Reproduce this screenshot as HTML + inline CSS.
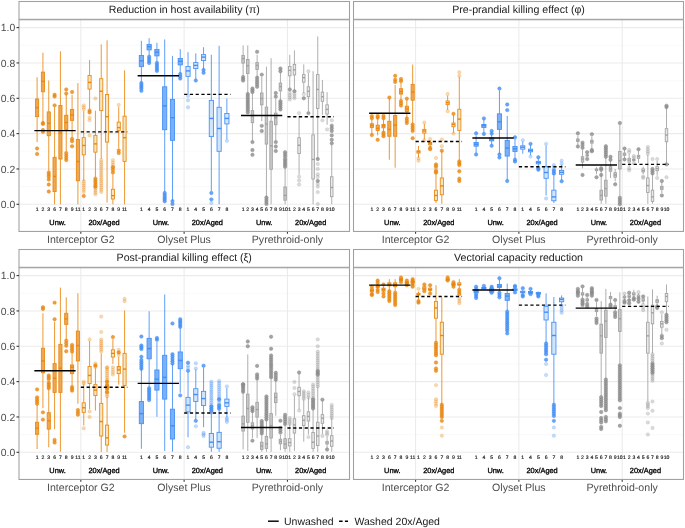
<!DOCTYPE html>
<html><head><meta charset="utf-8"><style>
html,body{margin:0;padding:0;background:#fff;width:685px;height:528px;overflow:hidden}
svg text{font-family:'Liberation Sans', sans-serif;text-rendering:geometricPrecision}
svg{will-change:transform}
</style></head><body>
<svg width="685" height="528" viewBox="0 0 685 528" style="display:block">
<rect width="685" height="528" fill="#fff"/>
<line x1="19.0" x2="349.5" y1="204.30" y2="204.30" stroke="#ebebeb" stroke-width="1.07"/>
<line x1="19.0" x2="349.5" y1="186.63" y2="186.63" stroke="#f5f5f5" stroke-width="0.53"/>
<line x1="19.0" x2="349.5" y1="168.96" y2="168.96" stroke="#ebebeb" stroke-width="1.07"/>
<line x1="19.0" x2="349.5" y1="151.29" y2="151.29" stroke="#f5f5f5" stroke-width="0.53"/>
<line x1="19.0" x2="349.5" y1="133.62" y2="133.62" stroke="#ebebeb" stroke-width="1.07"/>
<line x1="19.0" x2="349.5" y1="115.95" y2="115.95" stroke="#f5f5f5" stroke-width="0.53"/>
<line x1="19.0" x2="349.5" y1="98.28" y2="98.28" stroke="#ebebeb" stroke-width="1.07"/>
<line x1="19.0" x2="349.5" y1="80.61" y2="80.61" stroke="#f5f5f5" stroke-width="0.53"/>
<line x1="19.0" x2="349.5" y1="62.94" y2="62.94" stroke="#ebebeb" stroke-width="1.07"/>
<line x1="19.0" x2="349.5" y1="45.27" y2="45.27" stroke="#f5f5f5" stroke-width="0.53"/>
<line x1="19.0" x2="349.5" y1="27.60" y2="27.60" stroke="#ebebeb" stroke-width="1.07"/>
<line x1="80.83" x2="80.83" y1="19.5" y2="231.5" stroke="#ebebeb" stroke-width="1.07"/>
<line x1="184.13" x2="184.13" y1="19.5" y2="231.5" stroke="#ebebeb" stroke-width="1.07"/>
<line x1="287.43" x2="287.43" y1="19.5" y2="231.5" stroke="#ebebeb" stroke-width="1.07"/>
<text x="37.10" y="211.4" font-size="5.1" text-anchor="middle" fill="#111" stroke="#111" stroke-width="0.15">1</text>
<text x="42.93" y="211.4" font-size="5.1" text-anchor="middle" fill="#111" stroke="#111" stroke-width="0.15">2</text>
<text x="48.76" y="211.4" font-size="5.1" text-anchor="middle" fill="#111" stroke="#111" stroke-width="0.15">3</text>
<text x="54.59" y="211.4" font-size="5.1" text-anchor="middle" fill="#111" stroke="#111" stroke-width="0.15">6</text>
<text x="60.42" y="211.4" font-size="5.1" text-anchor="middle" fill="#111" stroke="#111" stroke-width="0.15">7</text>
<text x="66.25" y="211.4" font-size="5.1" text-anchor="middle" fill="#111" stroke="#111" stroke-width="0.15">8</text>
<text x="72.08" y="211.4" font-size="5.1" text-anchor="middle" fill="#111" stroke="#111" stroke-width="0.15">9</text>
<text x="77.91" y="211.4" font-size="5.1" text-anchor="middle" fill="#111" stroke="#111" stroke-width="0.15">11</text>
<text x="83.75" y="211.4" font-size="5.1" text-anchor="middle" fill="#111" stroke="#111" stroke-width="0.15">1</text>
<text x="89.58" y="211.4" font-size="5.1" text-anchor="middle" fill="#111" stroke="#111" stroke-width="0.15">2</text>
<text x="95.41" y="211.4" font-size="5.1" text-anchor="middle" fill="#111" stroke="#111" stroke-width="0.15">3</text>
<text x="101.24" y="211.4" font-size="5.1" text-anchor="middle" fill="#111" stroke="#111" stroke-width="0.15">6</text>
<text x="107.07" y="211.4" font-size="5.1" text-anchor="middle" fill="#111" stroke="#111" stroke-width="0.15">7</text>
<text x="112.90" y="211.4" font-size="5.1" text-anchor="middle" fill="#111" stroke="#111" stroke-width="0.15">8</text>
<text x="118.73" y="211.4" font-size="5.1" text-anchor="middle" fill="#111" stroke="#111" stroke-width="0.15">9</text>
<text x="124.56" y="211.4" font-size="5.1" text-anchor="middle" fill="#111" stroke="#111" stroke-width="0.15">11</text>
<text x="57.59" y="224.7" font-size="7.4" text-anchor="middle" fill="#000" stroke="#000" stroke-width="0.3">Unw.</text>
<text x="104.07" y="224.7" font-size="7.4" text-anchor="middle" fill="#000" stroke="#000" stroke-width="0.3">20x/Aged</text>
<line x1="80.83" x2="80.83" y1="231.5" y2="233.7" stroke="#333" stroke-width="1.07"/>
<text x="80.83" y="242.9" font-size="10.6" text-anchor="middle" fill="#4d4d4d">Interceptor G2</text>
<text x="141.37" y="211.4" font-size="5.1" text-anchor="middle" fill="#111" stroke="#111" stroke-width="0.15">1</text>
<text x="149.14" y="211.4" font-size="5.1" text-anchor="middle" fill="#111" stroke="#111" stroke-width="0.15">4</text>
<text x="156.92" y="211.4" font-size="5.1" text-anchor="middle" fill="#111" stroke="#111" stroke-width="0.15">5</text>
<text x="164.69" y="211.4" font-size="5.1" text-anchor="middle" fill="#111" stroke="#111" stroke-width="0.15">6</text>
<text x="172.47" y="211.4" font-size="5.1" text-anchor="middle" fill="#111" stroke="#111" stroke-width="0.15">7</text>
<text x="180.24" y="211.4" font-size="5.1" text-anchor="middle" fill="#111" stroke="#111" stroke-width="0.15">8</text>
<text x="188.02" y="211.4" font-size="5.1" text-anchor="middle" fill="#111" stroke="#111" stroke-width="0.15">1</text>
<text x="195.79" y="211.4" font-size="5.1" text-anchor="middle" fill="#111" stroke="#111" stroke-width="0.15">4</text>
<text x="203.57" y="211.4" font-size="5.1" text-anchor="middle" fill="#111" stroke="#111" stroke-width="0.15">5</text>
<text x="211.34" y="211.4" font-size="5.1" text-anchor="middle" fill="#111" stroke="#111" stroke-width="0.15">6</text>
<text x="219.12" y="211.4" font-size="5.1" text-anchor="middle" fill="#111" stroke="#111" stroke-width="0.15">7</text>
<text x="226.89" y="211.4" font-size="5.1" text-anchor="middle" fill="#111" stroke="#111" stroke-width="0.15">8</text>
<text x="160.89" y="224.7" font-size="7.4" text-anchor="middle" fill="#000" stroke="#000" stroke-width="0.3">Unw.</text>
<text x="207.37" y="224.7" font-size="7.4" text-anchor="middle" fill="#000" stroke="#000" stroke-width="0.3">20x/Aged</text>
<line x1="184.13" x2="184.13" y1="231.5" y2="233.7" stroke="#333" stroke-width="1.07"/>
<text x="184.13" y="242.9" font-size="10.6" text-anchor="middle" fill="#4d4d4d">Olyset Plus</text>
<text x="243.11" y="211.4" font-size="5.1" text-anchor="middle" fill="#111" stroke="#111" stroke-width="0.15">1</text>
<text x="247.78" y="211.4" font-size="5.1" text-anchor="middle" fill="#111" stroke="#111" stroke-width="0.15">2</text>
<text x="252.44" y="211.4" font-size="5.1" text-anchor="middle" fill="#111" stroke="#111" stroke-width="0.15">3</text>
<text x="257.11" y="211.4" font-size="5.1" text-anchor="middle" fill="#111" stroke="#111" stroke-width="0.15">4</text>
<text x="261.77" y="211.4" font-size="5.1" text-anchor="middle" fill="#111" stroke="#111" stroke-width="0.15">5</text>
<text x="266.44" y="211.4" font-size="5.1" text-anchor="middle" fill="#111" stroke="#111" stroke-width="0.15">6</text>
<text x="271.10" y="211.4" font-size="5.1" text-anchor="middle" fill="#111" stroke="#111" stroke-width="0.15">7</text>
<text x="275.77" y="211.4" font-size="5.1" text-anchor="middle" fill="#111" stroke="#111" stroke-width="0.15">8</text>
<text x="280.43" y="211.4" font-size="5.1" text-anchor="middle" fill="#111" stroke="#111" stroke-width="0.15">9</text>
<text x="285.10" y="211.4" font-size="5.1" text-anchor="middle" fill="#111" stroke="#111" stroke-width="0.15">10</text>
<text x="289.76" y="211.4" font-size="5.1" text-anchor="middle" fill="#111" stroke="#111" stroke-width="0.15">1</text>
<text x="294.43" y="211.4" font-size="5.1" text-anchor="middle" fill="#111" stroke="#111" stroke-width="0.15">2</text>
<text x="299.09" y="211.4" font-size="5.1" text-anchor="middle" fill="#111" stroke="#111" stroke-width="0.15">3</text>
<text x="303.76" y="211.4" font-size="5.1" text-anchor="middle" fill="#111" stroke="#111" stroke-width="0.15">4</text>
<text x="308.42" y="211.4" font-size="5.1" text-anchor="middle" fill="#111" stroke="#111" stroke-width="0.15">5</text>
<text x="313.09" y="211.4" font-size="5.1" text-anchor="middle" fill="#111" stroke="#111" stroke-width="0.15">6</text>
<text x="317.75" y="211.4" font-size="5.1" text-anchor="middle" fill="#111" stroke="#111" stroke-width="0.15">7</text>
<text x="322.42" y="211.4" font-size="5.1" text-anchor="middle" fill="#111" stroke="#111" stroke-width="0.15">8</text>
<text x="327.08" y="211.4" font-size="5.1" text-anchor="middle" fill="#111" stroke="#111" stroke-width="0.15">9</text>
<text x="331.75" y="211.4" font-size="5.1" text-anchor="middle" fill="#111" stroke="#111" stroke-width="0.15">10</text>
<text x="264.19" y="224.7" font-size="7.4" text-anchor="middle" fill="#000" stroke="#000" stroke-width="0.3">Unw.</text>
<text x="310.67" y="224.7" font-size="7.4" text-anchor="middle" fill="#000" stroke="#000" stroke-width="0.3">20x/Aged</text>
<line x1="287.43" x2="287.43" y1="231.5" y2="233.7" stroke="#333" stroke-width="1.07"/>
<text x="287.43" y="242.9" font-size="10.6" text-anchor="middle" fill="#4d4d4d">Pyrethroid-only</text>
<line x1="37.10" x2="37.10" y1="77.25" y2="98.99" stroke="rgb(232,134,14)" stroke-width="0.85"/><line x1="37.10" x2="37.10" y1="116.66" y2="142.10" stroke="rgb(232,134,14)" stroke-width="0.85"/><rect x="35.52" y="98.99" width="3.15" height="17.67" fill="rgb(238,168,81)" stroke="rgb(232,134,14)" stroke-width="0.85"/><line x1="35.52" x2="38.67" y1="107.65" y2="107.65" stroke="rgb(232,134,14)" stroke-width="1.4"/><circle cx="37.10" cy="148.46" r="1.72" fill="rgba(232,134,14,0.80)" stroke="rgba(232,134,14,0.80)" stroke-width="0.6"/><circle cx="37.10" cy="153.94" r="1.72" fill="rgba(232,134,14,0.80)" stroke="rgba(232,134,14,0.80)" stroke-width="0.6"/>
<line x1="42.93" x2="42.93" y1="52.69" y2="72.13" stroke="rgb(232,134,14)" stroke-width="0.85"/><line x1="42.93" x2="42.93" y1="91.74" y2="122.13" stroke="rgb(232,134,14)" stroke-width="0.85"/><rect x="41.35" y="72.13" width="3.15" height="19.61" fill="rgb(238,168,81)" stroke="rgb(232,134,14)" stroke-width="0.85"/><line x1="41.35" x2="44.50" y1="81.32" y2="81.32" stroke="rgb(232,134,14)" stroke-width="1.4"/><circle cx="42.93" cy="123.02" r="1.72" fill="rgba(232,134,14,0.80)" stroke="rgba(232,134,14,0.80)" stroke-width="0.6"/><circle cx="42.93" cy="123.90" r="1.72" fill="rgba(232,134,14,0.80)" stroke="rgba(232,134,14,0.80)" stroke-width="0.6"/><circle cx="42.93" cy="130.09" r="1.72" fill="rgba(232,134,14,0.80)" stroke="rgba(232,134,14,0.80)" stroke-width="0.6"/><circle cx="42.93" cy="131.85" r="1.72" fill="rgba(232,134,14,0.80)" stroke="rgba(232,134,14,0.80)" stroke-width="0.6"/>
<line x1="48.76" x2="48.76" y1="80.43" y2="111.89" stroke="rgb(232,134,14)" stroke-width="0.85"/><line x1="48.76" x2="48.76" y1="135.74" y2="170.73" stroke="rgb(232,134,14)" stroke-width="0.85"/><rect x="47.18" y="111.89" width="3.15" height="23.85" fill="rgb(238,168,81)" stroke="rgb(232,134,14)" stroke-width="0.85"/><line x1="47.18" x2="50.33" y1="123.37" y2="123.37" stroke="rgb(232,134,14)" stroke-width="1.4"/><circle cx="48.76" cy="176.73" r="1.72" fill="rgba(232,134,14,0.80)" stroke="rgba(232,134,14,0.80)" stroke-width="0.6"/><circle cx="48.76" cy="174.61" r="1.72" fill="rgba(232,134,14,0.80)" stroke="rgba(232,134,14,0.80)" stroke-width="0.6"/><circle cx="48.76" cy="172.49" r="1.72" fill="rgba(232,134,14,0.80)" stroke="rgba(232,134,14,0.80)" stroke-width="0.6"/><circle cx="48.76" cy="179.56" r="1.72" fill="rgba(232,134,14,0.80)" stroke="rgba(232,134,14,0.80)" stroke-width="0.6"/><circle cx="48.76" cy="184.51" r="1.72" fill="rgba(232,134,14,0.80)" stroke="rgba(232,134,14,0.80)" stroke-width="0.6"/><circle cx="48.76" cy="191.58" r="1.72" fill="rgba(232,134,14,0.80)" stroke="rgba(232,134,14,0.80)" stroke-width="0.6"/>
<line x1="54.59" x2="54.59" y1="107.12" y2="157.30" stroke="rgb(232,134,14)" stroke-width="0.85"/><line x1="54.59" x2="54.59" y1="191.58" y2="204.30" stroke="rgb(232,134,14)" stroke-width="0.85"/><rect x="53.01" y="157.30" width="3.15" height="34.28" fill="rgb(238,168,81)" stroke="rgb(232,134,14)" stroke-width="0.85"/><line x1="53.01" x2="56.16" y1="176.38" y2="176.38" stroke="rgb(232,134,14)" stroke-width="1.4"/><circle cx="54.59" cy="94.75" r="1.72" fill="rgba(232,134,14,0.80)" stroke="rgba(232,134,14,0.80)" stroke-width="0.6"/><circle cx="54.59" cy="96.51" r="1.72" fill="rgba(232,134,14,0.80)" stroke="rgba(232,134,14,0.80)" stroke-width="0.6"/><circle cx="54.59" cy="105.35" r="1.72" fill="rgba(232,134,14,0.80)" stroke="rgba(232,134,14,0.80)" stroke-width="0.6"/>
<line x1="60.42" x2="60.42" y1="51.28" y2="105.52" stroke="rgb(232,134,14)" stroke-width="0.85"/><line x1="60.42" x2="60.42" y1="159.06" y2="204.30" stroke="rgb(232,134,14)" stroke-width="0.85"/><rect x="58.85" y="105.52" width="3.15" height="53.54" fill="rgb(238,168,81)" stroke="rgb(232,134,14)" stroke-width="0.85"/><line x1="58.85" x2="62.00" y1="133.09" y2="133.09" stroke="rgb(232,134,14)" stroke-width="1.4"/>
<line x1="66.25" x2="66.25" y1="94.75" y2="115.24" stroke="rgb(232,134,14)" stroke-width="0.85"/><line x1="66.25" x2="66.25" y1="129.56" y2="151.29" stroke="rgb(232,134,14)" stroke-width="0.85"/><rect x="64.68" y="115.24" width="3.15" height="14.31" fill="rgb(238,168,81)" stroke="rgb(232,134,14)" stroke-width="0.85"/><line x1="64.68" x2="67.83" y1="122.49" y2="122.49" stroke="rgb(232,134,14)" stroke-width="1.4"/><circle cx="66.25" cy="89.45" r="1.72" fill="rgba(232,134,14,0.80)" stroke="rgba(232,134,14,0.80)" stroke-width="0.6"/><circle cx="66.25" cy="93.51" r="1.72" fill="rgba(232,134,14,0.80)" stroke="rgba(232,134,14,0.80)" stroke-width="0.6"/><circle cx="66.25" cy="160.12" r="1.72" fill="rgba(232,134,14,0.80)" stroke="rgba(232,134,14,0.80)" stroke-width="0.6"/><circle cx="66.25" cy="157.77" r="1.72" fill="rgba(232,134,14,0.80)" stroke="rgba(232,134,14,0.80)" stroke-width="0.6"/><circle cx="66.25" cy="155.41" r="1.72" fill="rgba(232,134,14,0.80)" stroke="rgba(232,134,14,0.80)" stroke-width="0.6"/><circle cx="66.25" cy="153.06" r="1.72" fill="rgba(232,134,14,0.80)" stroke="rgba(232,134,14,0.80)" stroke-width="0.6"/>
<line x1="72.08" x2="72.08" y1="94.75" y2="109.41" stroke="rgb(232,134,14)" stroke-width="0.85"/><line x1="72.08" x2="72.08" y1="120.37" y2="137.68" stroke="rgb(232,134,14)" stroke-width="0.85"/><rect x="70.51" y="109.41" width="3.15" height="10.96" fill="rgb(238,168,81)" stroke="rgb(232,134,14)" stroke-width="0.85"/><line x1="70.51" x2="73.66" y1="114.89" y2="114.89" stroke="rgb(232,134,14)" stroke-width="1.4"/><circle cx="72.08" cy="91.92" r="1.72" fill="rgba(232,134,14,0.80)" stroke="rgba(232,134,14,0.80)" stroke-width="0.6"/><circle cx="72.08" cy="141.22" r="1.72" fill="rgba(232,134,14,0.80)" stroke="rgba(232,134,14,0.80)" stroke-width="0.6"/><circle cx="72.08" cy="138.92" r="1.72" fill="rgba(232,134,14,0.80)" stroke="rgba(232,134,14,0.80)" stroke-width="0.6"/><circle cx="72.08" cy="146.34" r="1.72" fill="rgba(232,134,14,0.80)" stroke="rgba(232,134,14,0.80)" stroke-width="0.6"/>
<line x1="77.91" x2="77.91" y1="83.08" y2="139.45" stroke="rgb(232,134,14)" stroke-width="0.85"/><line x1="77.91" x2="77.91" y1="180.80" y2="204.30" stroke="rgb(232,134,14)" stroke-width="0.85"/><rect x="76.34" y="139.45" width="3.15" height="41.35" fill="rgb(238,168,81)" stroke="rgb(232,134,14)" stroke-width="0.85"/><line x1="76.34" x2="79.49" y1="161.54" y2="161.54" stroke="rgb(232,134,14)" stroke-width="1.4"/>
<line x1="83.75" x2="83.75" y1="111.18" y2="137.68" stroke="rgb(232,134,14)" stroke-width="0.85"/><line x1="83.75" x2="83.75" y1="154.82" y2="181.15" stroke="rgb(232,134,14)" stroke-width="0.85"/><rect x="82.17" y="137.68" width="3.15" height="17.14" fill="rgb(245,229,194)" stroke="rgb(232,134,14)" stroke-width="0.85"/><line x1="82.17" x2="85.32" y1="145.46" y2="145.46" stroke="rgb(232,134,14)" stroke-width="1.4"/><circle cx="83.75" cy="109.41" r="1.72" fill="rgba(232,134,14,0.30)" stroke="rgba(232,134,14,0.30)" stroke-width="0.6"/><circle cx="83.75" cy="107.38" r="1.72" fill="rgba(232,134,14,0.30)" stroke="rgba(232,134,14,0.30)" stroke-width="0.6"/><circle cx="83.75" cy="105.35" r="1.72" fill="rgba(232,134,14,0.30)" stroke="rgba(232,134,14,0.30)" stroke-width="0.6"/><circle cx="83.75" cy="191.93" r="1.72" fill="rgba(232,134,14,0.30)" stroke="rgba(232,134,14,0.30)" stroke-width="0.6"/><circle cx="83.75" cy="189.81" r="1.72" fill="rgba(232,134,14,0.30)" stroke="rgba(232,134,14,0.30)" stroke-width="0.6"/><circle cx="83.75" cy="187.69" r="1.72" fill="rgba(232,134,14,0.30)" stroke="rgba(232,134,14,0.30)" stroke-width="0.6"/><circle cx="83.75" cy="185.57" r="1.72" fill="rgba(232,134,14,0.30)" stroke="rgba(232,134,14,0.30)" stroke-width="0.6"/><circle cx="83.75" cy="183.45" r="1.72" fill="rgba(232,134,14,0.30)" stroke="rgba(232,134,14,0.30)" stroke-width="0.6"/><circle cx="83.75" cy="181.33" r="1.72" fill="rgba(232,134,14,0.30)" stroke="rgba(232,134,14,0.30)" stroke-width="0.6"/><circle cx="83.75" cy="196.00" r="1.72" fill="rgba(232,134,14,0.80)" stroke="rgba(232,134,14,0.80)" stroke-width="0.6"/>
<line x1="89.58" x2="89.58" y1="59.94" y2="75.49" stroke="rgb(232,134,14)" stroke-width="0.85"/><line x1="89.58" x2="89.58" y1="89.09" y2="109.41" stroke="rgb(232,134,14)" stroke-width="0.85"/><rect x="88.00" y="75.49" width="3.15" height="13.61" fill="rgb(245,229,194)" stroke="rgb(232,134,14)" stroke-width="0.85"/><line x1="88.00" x2="91.15" y1="82.38" y2="82.38" stroke="rgb(232,134,14)" stroke-width="1.4"/><circle cx="89.58" cy="110.65" r="1.72" fill="rgba(232,134,14,0.80)" stroke="rgba(232,134,14,0.80)" stroke-width="0.6"/><circle cx="89.58" cy="112.42" r="1.72" fill="rgba(232,134,14,0.80)" stroke="rgba(232,134,14,0.80)" stroke-width="0.6"/><circle cx="89.58" cy="117.72" r="1.72" fill="rgba(232,134,14,0.30)" stroke="rgba(232,134,14,0.30)" stroke-width="0.6"/><circle cx="89.58" cy="120.37" r="1.72" fill="rgba(232,134,14,0.30)" stroke="rgba(232,134,14,0.30)" stroke-width="0.6"/><circle cx="89.58" cy="135.39" r="1.72" fill="rgba(232,134,14,0.30)" stroke="rgba(232,134,14,0.30)" stroke-width="0.6"/>
<line x1="95.41" x2="95.41" y1="110.65" y2="135.39" stroke="rgb(232,134,14)" stroke-width="0.85"/><line x1="95.41" x2="95.41" y1="152.17" y2="177.62" stroke="rgb(232,134,14)" stroke-width="0.85"/><rect x="93.83" y="135.39" width="3.15" height="16.79" fill="rgb(245,229,194)" stroke="rgb(232,134,14)" stroke-width="0.85"/><line x1="93.83" x2="96.98" y1="143.87" y2="143.87" stroke="rgb(232,134,14)" stroke-width="1.4"/><circle cx="95.41" cy="98.46" r="1.72" fill="rgba(232,134,14,0.30)" stroke="rgba(232,134,14,0.30)" stroke-width="0.6"/><circle cx="95.41" cy="186.63" r="1.72" fill="rgba(232,134,14,0.80)" stroke="rgba(232,134,14,0.80)" stroke-width="0.6"/><circle cx="95.41" cy="184.64" r="1.72" fill="rgba(232,134,14,0.80)" stroke="rgba(232,134,14,0.80)" stroke-width="0.6"/><circle cx="95.41" cy="182.65" r="1.72" fill="rgba(232,134,14,0.80)" stroke="rgba(232,134,14,0.80)" stroke-width="0.6"/><circle cx="95.41" cy="180.67" r="1.72" fill="rgba(232,134,14,0.80)" stroke="rgba(232,134,14,0.80)" stroke-width="0.6"/><circle cx="95.41" cy="178.68" r="1.72" fill="rgba(232,134,14,0.80)" stroke="rgba(232,134,14,0.80)" stroke-width="0.6"/><circle cx="95.41" cy="194.40" r="1.72" fill="rgba(232,134,14,0.30)" stroke="rgba(232,134,14,0.30)" stroke-width="0.6"/><circle cx="95.41" cy="192.46" r="1.72" fill="rgba(232,134,14,0.30)" stroke="rgba(232,134,14,0.30)" stroke-width="0.6"/><circle cx="95.41" cy="190.52" r="1.72" fill="rgba(232,134,14,0.30)" stroke="rgba(232,134,14,0.30)" stroke-width="0.6"/><circle cx="95.41" cy="188.57" r="1.72" fill="rgba(232,134,14,0.30)" stroke="rgba(232,134,14,0.30)" stroke-width="0.6"/><circle cx="95.41" cy="186.63" r="1.72" fill="rgba(232,134,14,0.30)" stroke="rgba(232,134,14,0.30)" stroke-width="0.6"/>
<line x1="101.24" x2="101.24" y1="44.39" y2="78.67" stroke="rgb(232,134,14)" stroke-width="0.85"/><line x1="101.24" x2="101.24" y1="110.65" y2="159.06" stroke="rgb(232,134,14)" stroke-width="0.85"/><rect x="99.66" y="78.67" width="3.15" height="31.98" fill="rgb(245,229,194)" stroke="rgb(232,134,14)" stroke-width="0.85"/><line x1="99.66" x2="102.81" y1="91.21" y2="91.21" stroke="rgb(232,134,14)" stroke-width="1.4"/><circle cx="101.24" cy="191.93" r="1.72" fill="rgba(232,134,14,0.30)" stroke="rgba(232,134,14,0.30)" stroke-width="0.6"/><circle cx="101.24" cy="189.81" r="1.72" fill="rgba(232,134,14,0.30)" stroke="rgba(232,134,14,0.30)" stroke-width="0.6"/><circle cx="101.24" cy="187.69" r="1.72" fill="rgba(232,134,14,0.30)" stroke="rgba(232,134,14,0.30)" stroke-width="0.6"/><circle cx="101.24" cy="185.57" r="1.72" fill="rgba(232,134,14,0.30)" stroke="rgba(232,134,14,0.30)" stroke-width="0.6"/><circle cx="101.24" cy="183.45" r="1.72" fill="rgba(232,134,14,0.30)" stroke="rgba(232,134,14,0.30)" stroke-width="0.6"/><circle cx="101.24" cy="181.33" r="1.72" fill="rgba(232,134,14,0.30)" stroke="rgba(232,134,14,0.30)" stroke-width="0.6"/><circle cx="101.24" cy="179.21" r="1.72" fill="rgba(232,134,14,0.30)" stroke="rgba(232,134,14,0.30)" stroke-width="0.6"/><circle cx="101.24" cy="177.09" r="1.72" fill="rgba(232,134,14,0.30)" stroke="rgba(232,134,14,0.30)" stroke-width="0.6"/><circle cx="101.24" cy="174.97" r="1.72" fill="rgba(232,134,14,0.30)" stroke="rgba(232,134,14,0.30)" stroke-width="0.6"/><circle cx="101.24" cy="172.85" r="1.72" fill="rgba(232,134,14,0.30)" stroke="rgba(232,134,14,0.30)" stroke-width="0.6"/><circle cx="101.24" cy="170.73" r="1.72" fill="rgba(232,134,14,0.30)" stroke="rgba(232,134,14,0.30)" stroke-width="0.6"/><circle cx="101.24" cy="168.61" r="1.72" fill="rgba(232,134,14,0.30)" stroke="rgba(232,134,14,0.30)" stroke-width="0.6"/><circle cx="101.24" cy="166.49" r="1.72" fill="rgba(232,134,14,0.30)" stroke="rgba(232,134,14,0.30)" stroke-width="0.6"/><circle cx="101.24" cy="164.37" r="1.72" fill="rgba(232,134,14,0.30)" stroke="rgba(232,134,14,0.30)" stroke-width="0.6"/><circle cx="101.24" cy="162.25" r="1.72" fill="rgba(232,134,14,0.30)" stroke="rgba(232,134,14,0.30)" stroke-width="0.6"/><circle cx="101.24" cy="160.12" r="1.72" fill="rgba(232,134,14,0.30)" stroke="rgba(232,134,14,0.30)" stroke-width="0.6"/>
<line x1="107.07" x2="107.07" y1="40.32" y2="94.57" stroke="rgb(232,134,14)" stroke-width="0.85"/><line x1="107.07" x2="107.07" y1="142.10" y2="202.53" stroke="rgb(232,134,14)" stroke-width="0.85"/><rect x="105.50" y="94.57" width="3.15" height="47.53" fill="rgb(245,229,194)" stroke="rgb(232,134,14)" stroke-width="0.85"/><line x1="105.50" x2="108.65" y1="116.66" y2="116.66" stroke="rgb(232,134,14)" stroke-width="1.4"/>
<line x1="112.90" x2="112.90" y1="174.26" y2="189.28" stroke="rgb(232,134,14)" stroke-width="0.85"/><line x1="112.90" x2="112.90" y1="199.00" y2="204.30" stroke="rgb(232,134,14)" stroke-width="0.85"/><rect x="111.33" y="189.28" width="3.15" height="9.72" fill="rgb(245,229,194)" stroke="rgb(232,134,14)" stroke-width="0.85"/><line x1="111.33" x2="114.48" y1="195.64" y2="195.64" stroke="rgb(232,134,14)" stroke-width="1.4"/><circle cx="112.90" cy="167.19" r="1.72" fill="rgba(232,134,14,0.30)" stroke="rgba(232,134,14,0.30)" stroke-width="0.6"/><circle cx="112.90" cy="164.84" r="1.72" fill="rgba(232,134,14,0.30)" stroke="rgba(232,134,14,0.30)" stroke-width="0.6"/><circle cx="112.90" cy="162.48" r="1.72" fill="rgba(232,134,14,0.30)" stroke="rgba(232,134,14,0.30)" stroke-width="0.6"/><circle cx="112.90" cy="160.12" r="1.72" fill="rgba(232,134,14,0.30)" stroke="rgba(232,134,14,0.30)" stroke-width="0.6"/><circle cx="112.90" cy="172.49" r="1.72" fill="rgba(232,134,14,0.80)" stroke="rgba(232,134,14,0.80)" stroke-width="0.6"/><circle cx="112.90" cy="169.84" r="1.72" fill="rgba(232,134,14,0.80)" stroke="rgba(232,134,14,0.80)" stroke-width="0.6"/><circle cx="112.90" cy="167.19" r="1.72" fill="rgba(232,134,14,0.80)" stroke="rgba(232,134,14,0.80)" stroke-width="0.6"/>
<line x1="118.73" x2="118.73" y1="107.12" y2="122.13" stroke="rgb(232,134,14)" stroke-width="0.85"/><line x1="118.73" x2="118.73" y1="130.44" y2="148.46" stroke="rgb(232,134,14)" stroke-width="0.85"/><rect x="117.16" y="122.13" width="3.15" height="8.30" fill="rgb(245,229,194)" stroke="rgb(232,134,14)" stroke-width="0.85"/><line x1="117.16" x2="120.31" y1="127.61" y2="127.61" stroke="rgb(232,134,14)" stroke-width="1.4"/><circle cx="118.73" cy="104.99" r="1.72" fill="rgba(232,134,14,0.30)" stroke="rgba(232,134,14,0.30)" stroke-width="0.6"/><circle cx="118.73" cy="153.06" r="1.72" fill="rgba(232,134,14,0.80)" stroke="rgba(232,134,14,0.80)" stroke-width="0.6"/><circle cx="118.73" cy="150.41" r="1.72" fill="rgba(232,134,14,0.80)" stroke="rgba(232,134,14,0.80)" stroke-width="0.6"/>
<line x1="124.56" x2="124.56" y1="70.36" y2="116.13" stroke="rgb(232,134,14)" stroke-width="0.85"/><line x1="124.56" x2="124.56" y1="161.36" y2="204.30" stroke="rgb(232,134,14)" stroke-width="0.85"/><rect x="122.99" y="116.13" width="3.15" height="45.24" fill="rgb(245,229,194)" stroke="rgb(232,134,14)" stroke-width="0.85"/><line x1="122.99" x2="126.14" y1="137.68" y2="137.68" stroke="rgb(232,134,14)" stroke-width="1.4"/>
<line x1="34.34" x2="75.66" y1="130.62" y2="130.62" stroke="#000" stroke-width="1.45"/>
<line x1="80.83" x2="127.31" y1="131.85" y2="131.85" stroke="#000" stroke-width="1.45" stroke-dasharray="3.2 2.55"/>
<line x1="141.37" x2="141.37" y1="40.85" y2="55.52" stroke="rgb(66,142,245)" stroke-width="0.85"/><line x1="141.37" x2="141.37" y1="66.65" y2="82.38" stroke="rgb(66,142,245)" stroke-width="0.85"/><rect x="139.27" y="55.52" width="4.20" height="11.13" fill="rgb(121,176,248)" stroke="rgb(66,142,245)" stroke-width="0.85"/><line x1="139.27" x2="143.47" y1="60.82" y2="60.82" stroke="rgb(66,142,245)" stroke-width="1.4"/><circle cx="141.37" cy="88.56" r="1.72" fill="rgba(66,142,245,0.80)" stroke="rgba(66,142,245,0.80)" stroke-width="0.6"/><circle cx="141.37" cy="86.74" r="1.72" fill="rgba(66,142,245,0.80)" stroke="rgba(66,142,245,0.80)" stroke-width="0.6"/><circle cx="141.37" cy="84.91" r="1.72" fill="rgba(66,142,245,0.80)" stroke="rgba(66,142,245,0.80)" stroke-width="0.6"/><circle cx="141.37" cy="83.08" r="1.72" fill="rgba(66,142,245,0.80)" stroke="rgba(66,142,245,0.80)" stroke-width="0.6"/><circle cx="141.37" cy="90.86" r="1.72" fill="rgba(66,142,245,0.80)" stroke="rgba(66,142,245,0.80)" stroke-width="0.6"/>
<line x1="149.14" x2="149.14" y1="38.20" y2="44.39" stroke="rgb(66,142,245)" stroke-width="0.85"/><line x1="149.14" x2="149.14" y1="49.86" y2="55.87" stroke="rgb(66,142,245)" stroke-width="0.85"/><rect x="147.04" y="44.39" width="4.20" height="5.48" fill="rgb(121,176,248)" stroke="rgb(66,142,245)" stroke-width="0.85"/><line x1="147.04" x2="151.24" y1="46.68" y2="46.68" stroke="rgb(66,142,245)" stroke-width="1.4"/><circle cx="149.14" cy="62.94" r="1.72" fill="rgba(66,142,245,0.80)" stroke="rgba(66,142,245,0.80)" stroke-width="0.6"/><circle cx="149.14" cy="60.88" r="1.72" fill="rgba(66,142,245,0.80)" stroke="rgba(66,142,245,0.80)" stroke-width="0.6"/><circle cx="149.14" cy="58.82" r="1.72" fill="rgba(66,142,245,0.80)" stroke="rgba(66,142,245,0.80)" stroke-width="0.6"/><circle cx="149.14" cy="56.76" r="1.72" fill="rgba(66,142,245,0.80)" stroke="rgba(66,142,245,0.80)" stroke-width="0.6"/>
<line x1="156.92" x2="156.92" y1="42.80" y2="49.51" stroke="rgb(66,142,245)" stroke-width="0.85"/><line x1="156.92" x2="156.92" y1="55.87" y2="62.23" stroke="rgb(66,142,245)" stroke-width="0.85"/><rect x="154.82" y="49.51" width="4.20" height="6.36" fill="rgb(121,176,248)" stroke="rgb(66,142,245)" stroke-width="0.85"/><line x1="154.82" x2="159.02" y1="52.16" y2="52.16" stroke="rgb(66,142,245)" stroke-width="1.4"/><circle cx="156.92" cy="70.89" r="1.72" fill="rgba(66,142,245,0.80)" stroke="rgba(66,142,245,0.80)" stroke-width="0.6"/><circle cx="156.92" cy="68.90" r="1.72" fill="rgba(66,142,245,0.80)" stroke="rgba(66,142,245,0.80)" stroke-width="0.6"/><circle cx="156.92" cy="66.92" r="1.72" fill="rgba(66,142,245,0.80)" stroke="rgba(66,142,245,0.80)" stroke-width="0.6"/><circle cx="156.92" cy="64.93" r="1.72" fill="rgba(66,142,245,0.80)" stroke="rgba(66,142,245,0.80)" stroke-width="0.6"/><circle cx="156.92" cy="62.94" r="1.72" fill="rgba(66,142,245,0.80)" stroke="rgba(66,142,245,0.80)" stroke-width="0.6"/>
<line x1="164.69" x2="164.69" y1="39.44" y2="86.79" stroke="rgb(66,142,245)" stroke-width="0.85"/><line x1="164.69" x2="164.69" y1="129.73" y2="192.11" stroke="rgb(66,142,245)" stroke-width="0.85"/><rect x="162.59" y="86.79" width="4.20" height="42.94" fill="rgb(121,176,248)" stroke="rgb(66,142,245)" stroke-width="0.85"/><line x1="162.59" x2="166.79" y1="105.88" y2="105.88" stroke="rgb(66,142,245)" stroke-width="1.4"/><circle cx="164.69" cy="201.30" r="1.72" fill="rgba(66,142,245,0.80)" stroke="rgba(66,142,245,0.80)" stroke-width="0.6"/><circle cx="164.69" cy="199.22" r="1.72" fill="rgba(66,142,245,0.80)" stroke="rgba(66,142,245,0.80)" stroke-width="0.6"/><circle cx="164.69" cy="197.14" r="1.72" fill="rgba(66,142,245,0.80)" stroke="rgba(66,142,245,0.80)" stroke-width="0.6"/><circle cx="164.69" cy="195.07" r="1.72" fill="rgba(66,142,245,0.80)" stroke="rgba(66,142,245,0.80)" stroke-width="0.6"/><circle cx="164.69" cy="192.99" r="1.72" fill="rgba(66,142,245,0.80)" stroke="rgba(66,142,245,0.80)" stroke-width="0.6"/>
<line x1="172.47" x2="172.47" y1="55.87" y2="99.34" stroke="rgb(66,142,245)" stroke-width="0.85"/><line x1="172.47" x2="172.47" y1="140.33" y2="200.77" stroke="rgb(66,142,245)" stroke-width="0.85"/><rect x="170.37" y="99.34" width="4.20" height="40.99" fill="rgb(121,176,248)" stroke="rgb(66,142,245)" stroke-width="0.85"/><line x1="170.37" x2="174.57" y1="117.72" y2="117.72" stroke="rgb(66,142,245)" stroke-width="1.4"/><circle cx="172.47" cy="203.95" r="1.72" fill="rgba(66,142,245,0.80)" stroke="rgba(66,142,245,0.80)" stroke-width="0.6"/><circle cx="172.47" cy="201.12" r="1.72" fill="rgba(66,142,245,0.80)" stroke="rgba(66,142,245,0.80)" stroke-width="0.6"/>
<line x1="180.24" x2="180.24" y1="49.16" y2="58.52" stroke="rgb(66,142,245)" stroke-width="0.85"/><line x1="180.24" x2="180.24" y1="64.88" y2="74.07" stroke="rgb(66,142,245)" stroke-width="0.85"/><rect x="178.14" y="58.52" width="4.20" height="6.36" fill="rgb(121,176,248)" stroke="rgb(66,142,245)" stroke-width="0.85"/><line x1="178.14" x2="182.34" y1="61.35" y2="61.35" stroke="rgb(66,142,245)" stroke-width="1.4"/><circle cx="180.24" cy="78.49" r="1.72" fill="rgba(66,142,245,0.80)" stroke="rgba(66,142,245,0.80)" stroke-width="0.6"/><circle cx="180.24" cy="76.28" r="1.72" fill="rgba(66,142,245,0.80)" stroke="rgba(66,142,245,0.80)" stroke-width="0.6"/><circle cx="180.24" cy="74.07" r="1.72" fill="rgba(66,142,245,0.80)" stroke="rgba(66,142,245,0.80)" stroke-width="0.6"/>
<line x1="188.02" x2="188.02" y1="52.16" y2="66.47" stroke="rgb(66,142,245)" stroke-width="0.85"/><line x1="188.02" x2="188.02" y1="76.37" y2="94.04" stroke="rgb(66,142,245)" stroke-width="0.85"/><rect x="185.92" y="66.47" width="4.20" height="9.90" fill="rgb(208,228,251)" stroke="rgb(66,142,245)" stroke-width="0.85"/><line x1="185.92" x2="190.12" y1="70.89" y2="70.89" stroke="rgb(66,142,245)" stroke-width="1.4"/><circle cx="188.02" cy="95.81" r="1.72" fill="rgba(66,142,245,0.30)" stroke="rgba(66,142,245,0.30)" stroke-width="0.6"/><circle cx="188.02" cy="100.40" r="1.72" fill="rgba(66,142,245,0.30)" stroke="rgba(66,142,245,0.30)" stroke-width="0.6"/><circle cx="188.02" cy="107.29" r="1.72" fill="rgba(66,142,245,0.30)" stroke="rgba(66,142,245,0.30)" stroke-width="0.6"/>
<line x1="195.79" x2="195.79" y1="53.40" y2="62.59" stroke="rgb(66,142,245)" stroke-width="0.85"/><line x1="195.79" x2="195.79" y1="68.59" y2="79.37" stroke="rgb(66,142,245)" stroke-width="0.85"/><rect x="193.69" y="62.59" width="4.20" height="6.01" fill="rgb(208,228,251)" stroke="rgb(66,142,245)" stroke-width="0.85"/><line x1="193.69" x2="197.89" y1="65.41" y2="65.41" stroke="rgb(66,142,245)" stroke-width="1.4"/><circle cx="195.79" cy="80.43" r="1.72" fill="rgba(66,142,245,0.80)" stroke="rgba(66,142,245,0.80)" stroke-width="0.6"/>
<line x1="203.57" x2="203.57" y1="47.21" y2="54.64" stroke="rgb(66,142,245)" stroke-width="0.85"/><line x1="203.57" x2="203.57" y1="60.47" y2="69.83" stroke="rgb(66,142,245)" stroke-width="0.85"/><rect x="201.47" y="54.64" width="4.20" height="5.83" fill="rgb(208,228,251)" stroke="rgb(66,142,245)" stroke-width="0.85"/><line x1="201.47" x2="205.67" y1="57.11" y2="57.11" stroke="rgb(66,142,245)" stroke-width="1.4"/><circle cx="203.57" cy="72.84" r="1.72" fill="rgba(66,142,245,0.80)" stroke="rgba(66,142,245,0.80)" stroke-width="0.6"/><circle cx="203.57" cy="70.01" r="1.72" fill="rgba(66,142,245,0.80)" stroke="rgba(66,142,245,0.80)" stroke-width="0.6"/>
<line x1="211.34" x2="211.34" y1="54.81" y2="100.40" stroke="rgb(66,142,245)" stroke-width="0.85"/><line x1="211.34" x2="211.34" y1="136.62" y2="191.22" stroke="rgb(66,142,245)" stroke-width="0.85"/><rect x="209.24" y="100.40" width="4.20" height="36.22" fill="rgb(208,228,251)" stroke="rgb(66,142,245)" stroke-width="0.85"/><line x1="209.24" x2="213.44" y1="118.42" y2="118.42" stroke="rgb(66,142,245)" stroke-width="1.4"/><circle cx="211.34" cy="192.99" r="1.72" fill="rgba(66,142,245,0.80)" stroke="rgba(66,142,245,0.80)" stroke-width="0.6"/><circle cx="211.34" cy="199.35" r="1.72" fill="rgba(66,142,245,0.80)" stroke="rgba(66,142,245,0.80)" stroke-width="0.6"/><circle cx="211.34" cy="203.06" r="1.72" fill="rgba(66,142,245,0.30)" stroke="rgba(66,142,245,0.30)" stroke-width="0.6"/>
<line x1="219.12" x2="219.12" y1="45.80" y2="107.29" stroke="rgb(66,142,245)" stroke-width="0.85"/><line x1="219.12" x2="219.12" y1="151.29" y2="204.30" stroke="rgb(66,142,245)" stroke-width="0.85"/><rect x="217.02" y="107.29" width="4.20" height="44.00" fill="rgb(208,228,251)" stroke="rgb(66,142,245)" stroke-width="0.85"/><line x1="217.02" x2="221.22" y1="128.50" y2="128.50" stroke="rgb(66,142,245)" stroke-width="1.4"/>
<line x1="226.89" x2="226.89" y1="98.46" y2="113.48" stroke="rgb(66,142,245)" stroke-width="0.85"/><line x1="226.89" x2="226.89" y1="123.90" y2="139.45" stroke="rgb(66,142,245)" stroke-width="0.85"/><rect x="224.79" y="113.48" width="4.20" height="10.43" fill="rgb(208,228,251)" stroke="rgb(66,142,245)" stroke-width="0.85"/><line x1="224.79" x2="228.99" y1="118.42" y2="118.42" stroke="rgb(66,142,245)" stroke-width="1.4"/><circle cx="226.89" cy="140.86" r="1.72" fill="rgba(66,142,245,0.30)" stroke="rgba(66,142,245,0.30)" stroke-width="0.6"/>
<line x1="137.64" x2="178.97" y1="75.84" y2="75.84" stroke="#000" stroke-width="1.45"/>
<line x1="184.13" x2="230.62" y1="94.39" y2="94.39" stroke="#000" stroke-width="1.45" stroke-dasharray="3.2 2.55"/>
<line x1="243.11" x2="243.11" y1="45.45" y2="55.52" stroke="rgb(160,160,160)" stroke-width="0.85"/><line x1="243.11" x2="243.11" y1="63.12" y2="75.84" stroke="rgb(160,160,160)" stroke-width="0.85"/><rect x="241.85" y="55.52" width="2.52" height="7.60" fill="rgb(200,200,200)" stroke="rgb(160,160,160)" stroke-width="0.85"/><line x1="241.85" x2="244.37" y1="58.52" y2="58.52" stroke="rgb(160,160,160)" stroke-width="1.4"/><circle cx="243.11" cy="80.61" r="1.72" fill="rgba(140,140,140,0.80)" stroke="rgba(140,140,140,0.80)" stroke-width="0.6"/><circle cx="243.11" cy="78.84" r="1.72" fill="rgba(140,140,140,0.80)" stroke="rgba(140,140,140,0.80)" stroke-width="0.6"/><circle cx="243.11" cy="77.08" r="1.72" fill="rgba(140,140,140,0.80)" stroke="rgba(140,140,140,0.80)" stroke-width="0.6"/>
<line x1="247.78" x2="247.78" y1="45.45" y2="59.41" stroke="rgb(160,160,160)" stroke-width="0.85"/><line x1="247.78" x2="247.78" y1="73.54" y2="94.04" stroke="rgb(160,160,160)" stroke-width="0.85"/><rect x="246.52" y="59.41" width="2.52" height="14.14" fill="rgb(200,200,200)" stroke="rgb(160,160,160)" stroke-width="0.85"/><line x1="246.52" x2="249.04" y1="65.77" y2="65.77" stroke="rgb(160,160,160)" stroke-width="1.4"/><circle cx="247.78" cy="112.42" r="1.72" fill="rgba(140,140,140,0.80)" stroke="rgba(140,140,140,0.80)" stroke-width="0.6"/><circle cx="247.78" cy="110.37" r="1.72" fill="rgba(140,140,140,0.80)" stroke="rgba(140,140,140,0.80)" stroke-width="0.6"/><circle cx="247.78" cy="108.33" r="1.72" fill="rgba(140,140,140,0.80)" stroke="rgba(140,140,140,0.80)" stroke-width="0.6"/><circle cx="247.78" cy="106.29" r="1.72" fill="rgba(140,140,140,0.80)" stroke="rgba(140,140,140,0.80)" stroke-width="0.6"/><circle cx="247.78" cy="104.25" r="1.72" fill="rgba(140,140,140,0.80)" stroke="rgba(140,140,140,0.80)" stroke-width="0.6"/><circle cx="247.78" cy="102.21" r="1.72" fill="rgba(140,140,140,0.80)" stroke="rgba(140,140,140,0.80)" stroke-width="0.6"/><circle cx="247.78" cy="100.16" r="1.72" fill="rgba(140,140,140,0.80)" stroke="rgba(140,140,140,0.80)" stroke-width="0.6"/><circle cx="247.78" cy="98.12" r="1.72" fill="rgba(140,140,140,0.80)" stroke="rgba(140,140,140,0.80)" stroke-width="0.6"/><circle cx="247.78" cy="96.08" r="1.72" fill="rgba(140,140,140,0.80)" stroke="rgba(140,140,140,0.80)" stroke-width="0.6"/><circle cx="247.78" cy="94.04" r="1.72" fill="rgba(140,140,140,0.80)" stroke="rgba(140,140,140,0.80)" stroke-width="0.6"/>
<line x1="252.44" x2="252.44" y1="92.98" y2="110.65" stroke="rgb(160,160,160)" stroke-width="0.85"/><line x1="252.44" x2="252.44" y1="122.66" y2="141.22" stroke="rgb(160,160,160)" stroke-width="0.85"/><rect x="251.18" y="110.65" width="2.52" height="12.02" fill="rgb(200,200,200)" stroke="rgb(160,160,160)" stroke-width="0.85"/><line x1="251.18" x2="253.70" y1="115.95" y2="115.95" stroke="rgb(160,160,160)" stroke-width="1.4"/><circle cx="252.44" cy="92.10" r="1.72" fill="rgba(140,140,140,0.80)" stroke="rgba(140,140,140,0.80)" stroke-width="0.6"/><circle cx="252.44" cy="90.33" r="1.72" fill="rgba(140,140,140,0.80)" stroke="rgba(140,140,140,0.80)" stroke-width="0.6"/><circle cx="252.44" cy="88.56" r="1.72" fill="rgba(140,140,140,0.80)" stroke="rgba(140,140,140,0.80)" stroke-width="0.6"/><circle cx="252.44" cy="142.10" r="1.72" fill="rgba(140,140,140,0.80)" stroke="rgba(140,140,140,0.80)" stroke-width="0.6"/><circle cx="252.44" cy="150.05" r="1.72" fill="rgba(140,140,140,0.80)" stroke="rgba(140,140,140,0.80)" stroke-width="0.6"/><circle cx="252.44" cy="154.82" r="1.72" fill="rgba(140,140,140,0.80)" stroke="rgba(140,140,140,0.80)" stroke-width="0.6"/>
<line x1="257.11" x2="257.11" y1="54.81" y2="62.59" stroke="rgb(160,160,160)" stroke-width="0.85"/><line x1="257.11" x2="257.11" y1="69.48" y2="77.61" stroke="rgb(160,160,160)" stroke-width="0.85"/><rect x="255.85" y="62.59" width="2.52" height="6.89" fill="rgb(200,200,200)" stroke="rgb(160,160,160)" stroke-width="0.85"/><line x1="255.85" x2="258.37" y1="65.41" y2="65.41" stroke="rgb(160,160,160)" stroke-width="1.4"/><circle cx="257.11" cy="51.81" r="1.72" fill="rgba(140,140,140,0.80)" stroke="rgba(140,140,140,0.80)" stroke-width="0.6"/><circle cx="257.11" cy="86.79" r="1.72" fill="rgba(140,140,140,0.80)" stroke="rgba(140,140,140,0.80)" stroke-width="0.6"/><circle cx="257.11" cy="84.50" r="1.72" fill="rgba(140,140,140,0.80)" stroke="rgba(140,140,140,0.80)" stroke-width="0.6"/><circle cx="257.11" cy="82.20" r="1.72" fill="rgba(140,140,140,0.80)" stroke="rgba(140,140,140,0.80)" stroke-width="0.6"/><circle cx="257.11" cy="79.90" r="1.72" fill="rgba(140,140,140,0.80)" stroke="rgba(140,140,140,0.80)" stroke-width="0.6"/><circle cx="257.11" cy="77.61" r="1.72" fill="rgba(140,140,140,0.80)" stroke="rgba(140,140,140,0.80)" stroke-width="0.6"/>
<line x1="261.77" x2="261.77" y1="76.72" y2="92.98" stroke="rgb(160,160,160)" stroke-width="0.85"/><line x1="261.77" x2="261.77" y1="104.82" y2="121.25" stroke="rgb(160,160,160)" stroke-width="0.85"/><rect x="260.51" y="92.98" width="2.52" height="11.84" fill="rgb(200,200,200)" stroke="rgb(160,160,160)" stroke-width="0.85"/><line x1="260.51" x2="263.03" y1="98.46" y2="98.46" stroke="rgb(160,160,160)" stroke-width="1.4"/><circle cx="261.77" cy="74.60" r="1.72" fill="rgba(140,140,140,0.80)" stroke="rgba(140,140,140,0.80)" stroke-width="0.6"/><circle cx="261.77" cy="125.85" r="1.72" fill="rgba(140,140,140,0.80)" stroke="rgba(140,140,140,0.80)" stroke-width="0.6"/><circle cx="261.77" cy="130.97" r="1.72" fill="rgba(140,140,140,0.80)" stroke="rgba(140,140,140,0.80)" stroke-width="0.6"/>
<line x1="266.44" x2="266.44" y1="66.65" y2="107.12" stroke="rgb(160,160,160)" stroke-width="0.85"/><line x1="266.44" x2="266.44" y1="144.05" y2="197.59" stroke="rgb(160,160,160)" stroke-width="0.85"/><rect x="265.18" y="107.12" width="2.52" height="36.93" fill="rgb(200,200,200)" stroke="rgb(160,160,160)" stroke-width="0.85"/><line x1="265.18" x2="267.70" y1="123.90" y2="123.90" stroke="rgb(160,160,160)" stroke-width="1.4"/><circle cx="266.44" cy="203.95" r="1.72" fill="rgba(140,140,140,0.80)" stroke="rgba(140,140,140,0.80)" stroke-width="0.6"/><circle cx="266.44" cy="201.83" r="1.72" fill="rgba(140,140,140,0.80)" stroke="rgba(140,140,140,0.80)" stroke-width="0.6"/><circle cx="266.44" cy="199.71" r="1.72" fill="rgba(140,140,140,0.80)" stroke="rgba(140,140,140,0.80)" stroke-width="0.6"/><circle cx="266.44" cy="197.59" r="1.72" fill="rgba(140,140,140,0.80)" stroke="rgba(140,140,140,0.80)" stroke-width="0.6"/>
<line x1="271.10" x2="271.10" y1="58.17" y2="121.25" stroke="rgb(160,160,160)" stroke-width="0.85"/><line x1="271.10" x2="271.10" y1="169.31" y2="204.30" stroke="rgb(160,160,160)" stroke-width="0.85"/><rect x="269.84" y="121.25" width="2.52" height="48.06" fill="rgb(200,200,200)" stroke="rgb(160,160,160)" stroke-width="0.85"/><line x1="269.84" x2="272.36" y1="145.81" y2="145.81" stroke="rgb(160,160,160)" stroke-width="1.4"/>
<line x1="275.77" x2="275.77" y1="98.28" y2="113.12" stroke="rgb(160,160,160)" stroke-width="0.85"/><line x1="275.77" x2="275.77" y1="124.79" y2="141.22" stroke="rgb(160,160,160)" stroke-width="0.85"/><rect x="274.51" y="113.12" width="2.52" height="11.66" fill="rgb(200,200,200)" stroke="rgb(160,160,160)" stroke-width="0.85"/><line x1="274.51" x2="277.03" y1="117.72" y2="117.72" stroke="rgb(160,160,160)" stroke-width="1.4"/><circle cx="275.77" cy="92.98" r="1.72" fill="rgba(140,140,140,0.80)" stroke="rgba(140,140,140,0.80)" stroke-width="0.6"/><circle cx="275.77" cy="96.51" r="1.72" fill="rgba(140,140,140,0.80)" stroke="rgba(140,140,140,0.80)" stroke-width="0.6"/><circle cx="275.77" cy="142.10" r="1.72" fill="rgba(140,140,140,0.80)" stroke="rgba(140,140,140,0.80)" stroke-width="0.6"/><circle cx="275.77" cy="146.52" r="1.72" fill="rgba(140,140,140,0.80)" stroke="rgba(140,140,140,0.80)" stroke-width="0.6"/><circle cx="275.77" cy="150.94" r="1.72" fill="rgba(140,140,140,0.80)" stroke="rgba(140,140,140,0.80)" stroke-width="0.6"/>
<line x1="280.43" x2="280.43" y1="72.13" y2="83.08" stroke="rgb(160,160,160)" stroke-width="0.85"/><line x1="280.43" x2="280.43" y1="90.86" y2="100.40" stroke="rgb(160,160,160)" stroke-width="0.85"/><rect x="279.17" y="83.08" width="2.52" height="7.77" fill="rgb(200,200,200)" stroke="rgb(160,160,160)" stroke-width="0.85"/><line x1="279.17" x2="281.69" y1="86.62" y2="86.62" stroke="rgb(160,160,160)" stroke-width="1.4"/><circle cx="280.43" cy="71.24" r="1.72" fill="rgba(140,140,140,0.80)" stroke="rgba(140,140,140,0.80)" stroke-width="0.6"/><circle cx="280.43" cy="68.59" r="1.72" fill="rgba(140,140,140,0.80)" stroke="rgba(140,140,140,0.80)" stroke-width="0.6"/><circle cx="280.43" cy="109.41" r="1.72" fill="rgba(140,140,140,0.80)" stroke="rgba(140,140,140,0.80)" stroke-width="0.6"/><circle cx="280.43" cy="107.38" r="1.72" fill="rgba(140,140,140,0.80)" stroke="rgba(140,140,140,0.80)" stroke-width="0.6"/><circle cx="280.43" cy="105.35" r="1.72" fill="rgba(140,140,140,0.80)" stroke="rgba(140,140,140,0.80)" stroke-width="0.6"/><circle cx="280.43" cy="103.32" r="1.72" fill="rgba(140,140,140,0.80)" stroke="rgba(140,140,140,0.80)" stroke-width="0.6"/><circle cx="280.43" cy="101.28" r="1.72" fill="rgba(140,140,140,0.80)" stroke="rgba(140,140,140,0.80)" stroke-width="0.6"/>
<line x1="285.10" x2="285.10" y1="167.19" y2="186.98" stroke="rgb(160,160,160)" stroke-width="0.85"/><line x1="285.10" x2="285.10" y1="200.24" y2="204.30" stroke="rgb(160,160,160)" stroke-width="0.85"/><rect x="283.84" y="186.98" width="2.52" height="13.25" fill="rgb(200,200,200)" stroke="rgb(160,160,160)" stroke-width="0.85"/><line x1="283.84" x2="286.36" y1="195.47" y2="195.47" stroke="rgb(160,160,160)" stroke-width="1.4"/><circle cx="285.10" cy="156.59" r="1.72" fill="rgba(140,140,140,0.80)" stroke="rgba(140,140,140,0.80)" stroke-width="0.6"/><circle cx="285.10" cy="154.38" r="1.72" fill="rgba(140,140,140,0.80)" stroke="rgba(140,140,140,0.80)" stroke-width="0.6"/><circle cx="285.10" cy="152.17" r="1.72" fill="rgba(140,140,140,0.80)" stroke="rgba(140,140,140,0.80)" stroke-width="0.6"/><circle cx="285.10" cy="166.66" r="1.72" fill="rgba(140,140,140,0.80)" stroke="rgba(140,140,140,0.80)" stroke-width="0.6"/><circle cx="285.10" cy="164.81" r="1.72" fill="rgba(140,140,140,0.80)" stroke="rgba(140,140,140,0.80)" stroke-width="0.6"/><circle cx="285.10" cy="162.95" r="1.72" fill="rgba(140,140,140,0.80)" stroke="rgba(140,140,140,0.80)" stroke-width="0.6"/><circle cx="285.10" cy="161.10" r="1.72" fill="rgba(140,140,140,0.80)" stroke="rgba(140,140,140,0.80)" stroke-width="0.6"/><circle cx="285.10" cy="159.24" r="1.72" fill="rgba(140,140,140,0.80)" stroke="rgba(140,140,140,0.80)" stroke-width="0.6"/>
<line x1="289.76" x2="289.76" y1="54.81" y2="66.47" stroke="rgb(160,160,160)" stroke-width="0.85"/><line x1="289.76" x2="289.76" y1="75.84" y2="88.56" stroke="rgb(160,160,160)" stroke-width="0.85"/><rect x="288.50" y="66.47" width="2.52" height="9.37" fill="rgb(233,233,233)" stroke="rgb(160,160,160)" stroke-width="0.85"/><line x1="288.50" x2="291.02" y1="70.36" y2="70.36" stroke="rgb(160,160,160)" stroke-width="1.4"/><circle cx="289.76" cy="89.45" r="1.72" fill="rgba(140,140,140,0.80)" stroke="rgba(140,140,140,0.80)" stroke-width="0.6"/><circle cx="289.76" cy="99.52" r="1.72" fill="rgba(140,140,140,0.30)" stroke="rgba(140,140,140,0.30)" stroke-width="0.6"/><circle cx="289.76" cy="97.34" r="1.72" fill="rgba(140,140,140,0.30)" stroke="rgba(140,140,140,0.30)" stroke-width="0.6"/><circle cx="289.76" cy="95.16" r="1.72" fill="rgba(140,140,140,0.30)" stroke="rgba(140,140,140,0.30)" stroke-width="0.6"/><circle cx="289.76" cy="92.98" r="1.72" fill="rgba(140,140,140,0.30)" stroke="rgba(140,140,140,0.30)" stroke-width="0.6"/>
<line x1="294.43" x2="294.43" y1="50.39" y2="64.35" stroke="rgb(160,160,160)" stroke-width="0.85"/><line x1="294.43" x2="294.43" y1="74.96" y2="90.33" stroke="rgb(160,160,160)" stroke-width="0.85"/><rect x="293.17" y="64.35" width="2.52" height="10.60" fill="rgb(233,233,233)" stroke="rgb(160,160,160)" stroke-width="0.85"/><line x1="293.17" x2="295.69" y1="69.83" y2="69.83" stroke="rgb(160,160,160)" stroke-width="1.4"/><circle cx="294.43" cy="91.21" r="1.72" fill="rgba(140,140,140,0.80)" stroke="rgba(140,140,140,0.80)" stroke-width="0.6"/><circle cx="294.43" cy="98.28" r="1.72" fill="rgba(140,140,140,0.30)" stroke="rgba(140,140,140,0.30)" stroke-width="0.6"/><circle cx="294.43" cy="96.07" r="1.72" fill="rgba(140,140,140,0.30)" stroke="rgba(140,140,140,0.30)" stroke-width="0.6"/><circle cx="294.43" cy="93.86" r="1.72" fill="rgba(140,140,140,0.30)" stroke="rgba(140,140,140,0.30)" stroke-width="0.6"/>
<line x1="299.09" x2="299.09" y1="115.95" y2="137.68" stroke="rgb(160,160,160)" stroke-width="0.85"/><line x1="299.09" x2="299.09" y1="153.59" y2="174.79" stroke="rgb(160,160,160)" stroke-width="0.85"/><rect x="297.83" y="137.68" width="2.52" height="15.90" fill="rgb(233,233,233)" stroke="rgb(160,160,160)" stroke-width="0.85"/><line x1="297.83" x2="300.35" y1="145.28" y2="145.28" stroke="rgb(160,160,160)" stroke-width="1.4"/><circle cx="299.09" cy="113.12" r="1.72" fill="rgba(140,140,140,0.30)" stroke="rgba(140,140,140,0.30)" stroke-width="0.6"/><circle cx="299.09" cy="176.73" r="1.72" fill="rgba(140,140,140,0.30)" stroke="rgba(140,140,140,0.30)" stroke-width="0.6"/><circle cx="299.09" cy="180.45" r="1.72" fill="rgba(140,140,140,0.30)" stroke="rgba(140,140,140,0.30)" stroke-width="0.6"/><circle cx="299.09" cy="184.51" r="1.72" fill="rgba(140,140,140,0.30)" stroke="rgba(140,140,140,0.30)" stroke-width="0.6"/>
<line x1="303.76" x2="303.76" y1="64.35" y2="74.60" stroke="rgb(160,160,160)" stroke-width="0.85"/><line x1="303.76" x2="303.76" y1="82.20" y2="92.98" stroke="rgb(160,160,160)" stroke-width="0.85"/><rect x="302.50" y="74.60" width="2.52" height="7.60" fill="rgb(233,233,233)" stroke="rgb(160,160,160)" stroke-width="0.85"/><line x1="302.50" x2="305.02" y1="77.61" y2="77.61" stroke="rgb(160,160,160)" stroke-width="1.4"/><circle cx="303.76" cy="94.04" r="1.72" fill="rgba(140,140,140,0.30)" stroke="rgba(140,140,140,0.30)" stroke-width="0.6"/><circle cx="303.76" cy="98.28" r="1.72" fill="rgba(140,140,140,0.80)" stroke="rgba(140,140,140,0.80)" stroke-width="0.6"/>
<line x1="308.42" x2="308.42" y1="73.01" y2="86.79" stroke="rgb(160,160,160)" stroke-width="0.85"/><line x1="308.42" x2="308.42" y1="96.69" y2="111.18" stroke="rgb(160,160,160)" stroke-width="0.85"/><rect x="307.16" y="86.79" width="2.52" height="9.90" fill="rgb(233,233,233)" stroke="rgb(160,160,160)" stroke-width="0.85"/><line x1="307.16" x2="309.68" y1="91.21" y2="91.21" stroke="rgb(160,160,160)" stroke-width="1.4"/><circle cx="308.42" cy="71.24" r="1.72" fill="rgba(140,140,140,0.30)" stroke="rgba(140,140,140,0.30)" stroke-width="0.6"/><circle cx="308.42" cy="113.12" r="1.72" fill="rgba(140,140,140,0.80)" stroke="rgba(140,140,140,0.80)" stroke-width="0.6"/>
<line x1="313.09" x2="313.09" y1="71.24" y2="134.86" stroke="rgb(160,160,160)" stroke-width="0.85"/><line x1="313.09" x2="313.09" y1="179.03" y2="204.30" stroke="rgb(160,160,160)" stroke-width="0.85"/><rect x="311.83" y="134.86" width="2.52" height="44.18" fill="rgb(233,233,233)" stroke="rgb(160,160,160)" stroke-width="0.85"/><line x1="311.83" x2="314.35" y1="159.42" y2="159.42" stroke="rgb(160,160,160)" stroke-width="1.4"/>
<line x1="317.75" x2="317.75" y1="36.44" y2="74.60" stroke="rgb(160,160,160)" stroke-width="0.85"/><line x1="317.75" x2="317.75" y1="108.53" y2="158.53" stroke="rgb(160,160,160)" stroke-width="0.85"/><rect x="316.49" y="74.60" width="2.52" height="33.93" fill="rgb(233,233,233)" stroke="rgb(160,160,160)" stroke-width="0.85"/><line x1="316.49" x2="319.01" y1="89.45" y2="89.45" stroke="rgb(160,160,160)" stroke-width="1.4"/><circle cx="317.75" cy="159.06" r="1.72" fill="rgba(140,140,140,0.80)" stroke="rgba(140,140,140,0.80)" stroke-width="0.6"/><circle cx="317.75" cy="164.01" r="1.72" fill="rgba(140,140,140,0.30)" stroke="rgba(140,140,140,0.30)" stroke-width="0.6"/><circle cx="317.75" cy="168.96" r="1.72" fill="rgba(140,140,140,0.30)" stroke="rgba(140,140,140,0.30)" stroke-width="0.6"/><circle cx="317.75" cy="174.26" r="1.72" fill="rgba(140,140,140,0.30)" stroke="rgba(140,140,140,0.30)" stroke-width="0.6"/><circle cx="317.75" cy="176.91" r="1.72" fill="rgba(140,140,140,0.30)" stroke="rgba(140,140,140,0.30)" stroke-width="0.6"/><circle cx="317.75" cy="180.98" r="1.72" fill="rgba(140,140,140,0.80)" stroke="rgba(140,140,140,0.80)" stroke-width="0.6"/><circle cx="317.75" cy="183.98" r="1.72" fill="rgba(140,140,140,0.30)" stroke="rgba(140,140,140,0.30)" stroke-width="0.6"/><circle cx="317.75" cy="186.63" r="1.72" fill="rgba(140,140,140,0.30)" stroke="rgba(140,140,140,0.30)" stroke-width="0.6"/><circle cx="317.75" cy="192.11" r="1.72" fill="rgba(140,140,140,0.30)" stroke="rgba(140,140,140,0.30)" stroke-width="0.6"/><circle cx="317.75" cy="203.95" r="1.72" fill="rgba(140,140,140,0.30)" stroke="rgba(140,140,140,0.30)" stroke-width="0.6"/>
<line x1="322.42" x2="322.42" y1="79.90" y2="92.10" stroke="rgb(160,160,160)" stroke-width="0.85"/><line x1="322.42" x2="322.42" y1="101.28" y2="114.89" stroke="rgb(160,160,160)" stroke-width="0.85"/><rect x="321.16" y="92.10" width="2.52" height="9.19" fill="rgb(233,233,233)" stroke="rgb(160,160,160)" stroke-width="0.85"/><line x1="321.16" x2="323.68" y1="96.69" y2="96.69" stroke="rgb(160,160,160)" stroke-width="1.4"/><circle cx="322.42" cy="120.37" r="1.72" fill="rgba(140,140,140,0.30)" stroke="rgba(140,140,140,0.30)" stroke-width="0.6"/>
<line x1="327.08" x2="327.08" y1="92.10" y2="104.82" stroke="rgb(160,160,160)" stroke-width="0.85"/><line x1="327.08" x2="327.08" y1="114.01" y2="124.79" stroke="rgb(160,160,160)" stroke-width="0.85"/><rect x="325.82" y="104.82" width="2.52" height="9.19" fill="rgb(233,233,233)" stroke="rgb(160,160,160)" stroke-width="0.85"/><line x1="325.82" x2="328.34" y1="109.41" y2="109.41" stroke="rgb(160,160,160)" stroke-width="1.4"/><circle cx="327.08" cy="129.38" r="1.72" fill="rgba(140,140,140,0.30)" stroke="rgba(140,140,140,0.30)" stroke-width="0.6"/>
<line x1="331.75" x2="331.75" y1="144.93" y2="176.73" stroke="rgb(160,160,160)" stroke-width="0.85"/><line x1="331.75" x2="331.75" y1="196.70" y2="204.30" stroke="rgb(160,160,160)" stroke-width="0.85"/><rect x="330.49" y="176.73" width="2.52" height="19.97" fill="rgb(233,233,233)" stroke="rgb(160,160,160)" stroke-width="0.85"/><line x1="330.49" x2="333.01" y1="187.51" y2="187.51" stroke="rgb(160,160,160)" stroke-width="1.4"/><circle cx="331.75" cy="120.37" r="1.72" fill="rgba(140,140,140,0.30)" stroke="rgba(140,140,140,0.30)" stroke-width="0.6"/><circle cx="331.75" cy="125.67" r="1.72" fill="rgba(140,140,140,0.80)" stroke="rgba(140,140,140,0.80)" stroke-width="0.6"/><circle cx="331.75" cy="128.32" r="1.72" fill="rgba(140,140,140,0.80)" stroke="rgba(140,140,140,0.80)" stroke-width="0.6"/><circle cx="331.75" cy="130.97" r="1.72" fill="rgba(140,140,140,0.80)" stroke="rgba(140,140,140,0.80)" stroke-width="0.6"/><circle cx="331.75" cy="135.39" r="1.72" fill="rgba(140,140,140,0.80)" stroke="rgba(140,140,140,0.80)" stroke-width="0.6"/><circle cx="331.75" cy="139.80" r="1.72" fill="rgba(140,140,140,0.80)" stroke="rgba(140,140,140,0.80)" stroke-width="0.6"/><circle cx="331.75" cy="143.34" r="1.72" fill="rgba(140,140,140,0.80)" stroke="rgba(140,140,140,0.80)" stroke-width="0.6"/>
<line x1="240.94" x2="282.26" y1="115.42" y2="115.42" stroke="#000" stroke-width="1.45"/>
<line x1="287.43" x2="333.92" y1="116.66" y2="116.66" stroke="#000" stroke-width="1.45" stroke-dasharray="3.2 2.55"/>
<rect x="19.0" y="19.75" width="330.5" height="211.7" fill="none" stroke="#a0a0a0" stroke-width="1.07"/>
<rect x="19.0" y="1.5" width="330.5" height="17.8" fill="#fff" stroke="#a0a0a0" stroke-width="1.07"/>
<text x="184.25" y="13.0" font-size="10.6" text-anchor="middle" fill="#1a1a1a">Reduction in host availability (π)</text>
<line x1="16.5" x2="19.0" y1="204.30" y2="204.30" stroke="#333" stroke-width="1.07"/>
<text x="15.2" y="208.05" font-size="10.4" text-anchor="end" fill="#4d4d4d">0.0</text>
<line x1="16.5" x2="19.0" y1="168.96" y2="168.96" stroke="#333" stroke-width="1.07"/>
<text x="15.2" y="172.71" font-size="10.4" text-anchor="end" fill="#4d4d4d">0.2</text>
<line x1="16.5" x2="19.0" y1="133.62" y2="133.62" stroke="#333" stroke-width="1.07"/>
<text x="15.2" y="137.37" font-size="10.4" text-anchor="end" fill="#4d4d4d">0.4</text>
<line x1="16.5" x2="19.0" y1="98.28" y2="98.28" stroke="#333" stroke-width="1.07"/>
<text x="15.2" y="102.03" font-size="10.4" text-anchor="end" fill="#4d4d4d">0.6</text>
<line x1="16.5" x2="19.0" y1="62.94" y2="62.94" stroke="#333" stroke-width="1.07"/>
<text x="15.2" y="66.69" font-size="10.4" text-anchor="end" fill="#4d4d4d">0.8</text>
<line x1="16.5" x2="19.0" y1="27.60" y2="27.60" stroke="#333" stroke-width="1.07"/>
<text x="15.2" y="31.35" font-size="10.4" text-anchor="end" fill="#4d4d4d">1.0</text>
<line x1="353.5" x2="683.5" y1="204.30" y2="204.30" stroke="#ebebeb" stroke-width="1.07"/>
<line x1="353.5" x2="683.5" y1="186.63" y2="186.63" stroke="#f5f5f5" stroke-width="0.53"/>
<line x1="353.5" x2="683.5" y1="168.96" y2="168.96" stroke="#ebebeb" stroke-width="1.07"/>
<line x1="353.5" x2="683.5" y1="151.29" y2="151.29" stroke="#f5f5f5" stroke-width="0.53"/>
<line x1="353.5" x2="683.5" y1="133.62" y2="133.62" stroke="#ebebeb" stroke-width="1.07"/>
<line x1="353.5" x2="683.5" y1="115.95" y2="115.95" stroke="#f5f5f5" stroke-width="0.53"/>
<line x1="353.5" x2="683.5" y1="98.28" y2="98.28" stroke="#ebebeb" stroke-width="1.07"/>
<line x1="353.5" x2="683.5" y1="80.61" y2="80.61" stroke="#f5f5f5" stroke-width="0.53"/>
<line x1="353.5" x2="683.5" y1="62.94" y2="62.94" stroke="#ebebeb" stroke-width="1.07"/>
<line x1="353.5" x2="683.5" y1="45.27" y2="45.27" stroke="#f5f5f5" stroke-width="0.53"/>
<line x1="353.5" x2="683.5" y1="27.60" y2="27.60" stroke="#ebebeb" stroke-width="1.07"/>
<line x1="415.58" x2="415.58" y1="19.5" y2="231.5" stroke="#ebebeb" stroke-width="1.07"/>
<line x1="518.88" x2="518.88" y1="19.5" y2="231.5" stroke="#ebebeb" stroke-width="1.07"/>
<line x1="622.18" x2="622.18" y1="19.5" y2="231.5" stroke="#ebebeb" stroke-width="1.07"/>
<text x="371.85" y="211.4" font-size="5.1" text-anchor="middle" fill="#111" stroke="#111" stroke-width="0.15">1</text>
<text x="377.68" y="211.4" font-size="5.1" text-anchor="middle" fill="#111" stroke="#111" stroke-width="0.15">2</text>
<text x="383.51" y="211.4" font-size="5.1" text-anchor="middle" fill="#111" stroke="#111" stroke-width="0.15">3</text>
<text x="389.34" y="211.4" font-size="5.1" text-anchor="middle" fill="#111" stroke="#111" stroke-width="0.15">6</text>
<text x="395.17" y="211.4" font-size="5.1" text-anchor="middle" fill="#111" stroke="#111" stroke-width="0.15">7</text>
<text x="401.00" y="211.4" font-size="5.1" text-anchor="middle" fill="#111" stroke="#111" stroke-width="0.15">8</text>
<text x="406.83" y="211.4" font-size="5.1" text-anchor="middle" fill="#111" stroke="#111" stroke-width="0.15">9</text>
<text x="412.66" y="211.4" font-size="5.1" text-anchor="middle" fill="#111" stroke="#111" stroke-width="0.15">11</text>
<text x="418.50" y="211.4" font-size="5.1" text-anchor="middle" fill="#111" stroke="#111" stroke-width="0.15">1</text>
<text x="424.33" y="211.4" font-size="5.1" text-anchor="middle" fill="#111" stroke="#111" stroke-width="0.15">2</text>
<text x="430.16" y="211.4" font-size="5.1" text-anchor="middle" fill="#111" stroke="#111" stroke-width="0.15">3</text>
<text x="435.99" y="211.4" font-size="5.1" text-anchor="middle" fill="#111" stroke="#111" stroke-width="0.15">6</text>
<text x="441.82" y="211.4" font-size="5.1" text-anchor="middle" fill="#111" stroke="#111" stroke-width="0.15">7</text>
<text x="447.65" y="211.4" font-size="5.1" text-anchor="middle" fill="#111" stroke="#111" stroke-width="0.15">8</text>
<text x="453.48" y="211.4" font-size="5.1" text-anchor="middle" fill="#111" stroke="#111" stroke-width="0.15">9</text>
<text x="459.31" y="211.4" font-size="5.1" text-anchor="middle" fill="#111" stroke="#111" stroke-width="0.15">11</text>
<text x="392.34" y="224.7" font-size="7.4" text-anchor="middle" fill="#000" stroke="#000" stroke-width="0.3">Unw.</text>
<text x="438.82" y="224.7" font-size="7.4" text-anchor="middle" fill="#000" stroke="#000" stroke-width="0.3">20x/Aged</text>
<line x1="415.58" x2="415.58" y1="231.5" y2="233.7" stroke="#333" stroke-width="1.07"/>
<text x="415.58" y="242.9" font-size="10.6" text-anchor="middle" fill="#4d4d4d">Interceptor G2</text>
<text x="476.12" y="211.4" font-size="5.1" text-anchor="middle" fill="#111" stroke="#111" stroke-width="0.15">1</text>
<text x="483.89" y="211.4" font-size="5.1" text-anchor="middle" fill="#111" stroke="#111" stroke-width="0.15">4</text>
<text x="491.67" y="211.4" font-size="5.1" text-anchor="middle" fill="#111" stroke="#111" stroke-width="0.15">5</text>
<text x="499.44" y="211.4" font-size="5.1" text-anchor="middle" fill="#111" stroke="#111" stroke-width="0.15">6</text>
<text x="507.22" y="211.4" font-size="5.1" text-anchor="middle" fill="#111" stroke="#111" stroke-width="0.15">7</text>
<text x="514.99" y="211.4" font-size="5.1" text-anchor="middle" fill="#111" stroke="#111" stroke-width="0.15">8</text>
<text x="522.77" y="211.4" font-size="5.1" text-anchor="middle" fill="#111" stroke="#111" stroke-width="0.15">1</text>
<text x="530.54" y="211.4" font-size="5.1" text-anchor="middle" fill="#111" stroke="#111" stroke-width="0.15">4</text>
<text x="538.32" y="211.4" font-size="5.1" text-anchor="middle" fill="#111" stroke="#111" stroke-width="0.15">5</text>
<text x="546.09" y="211.4" font-size="5.1" text-anchor="middle" fill="#111" stroke="#111" stroke-width="0.15">6</text>
<text x="553.87" y="211.4" font-size="5.1" text-anchor="middle" fill="#111" stroke="#111" stroke-width="0.15">7</text>
<text x="561.64" y="211.4" font-size="5.1" text-anchor="middle" fill="#111" stroke="#111" stroke-width="0.15">8</text>
<text x="495.64" y="224.7" font-size="7.4" text-anchor="middle" fill="#000" stroke="#000" stroke-width="0.3">Unw.</text>
<text x="542.12" y="224.7" font-size="7.4" text-anchor="middle" fill="#000" stroke="#000" stroke-width="0.3">20x/Aged</text>
<line x1="518.88" x2="518.88" y1="231.5" y2="233.7" stroke="#333" stroke-width="1.07"/>
<text x="518.88" y="242.9" font-size="10.6" text-anchor="middle" fill="#4d4d4d">Olyset Plus</text>
<text x="577.86" y="211.4" font-size="5.1" text-anchor="middle" fill="#111" stroke="#111" stroke-width="0.15">1</text>
<text x="582.53" y="211.4" font-size="5.1" text-anchor="middle" fill="#111" stroke="#111" stroke-width="0.15">2</text>
<text x="587.19" y="211.4" font-size="5.1" text-anchor="middle" fill="#111" stroke="#111" stroke-width="0.15">3</text>
<text x="591.86" y="211.4" font-size="5.1" text-anchor="middle" fill="#111" stroke="#111" stroke-width="0.15">4</text>
<text x="596.52" y="211.4" font-size="5.1" text-anchor="middle" fill="#111" stroke="#111" stroke-width="0.15">5</text>
<text x="601.19" y="211.4" font-size="5.1" text-anchor="middle" fill="#111" stroke="#111" stroke-width="0.15">6</text>
<text x="605.85" y="211.4" font-size="5.1" text-anchor="middle" fill="#111" stroke="#111" stroke-width="0.15">7</text>
<text x="610.52" y="211.4" font-size="5.1" text-anchor="middle" fill="#111" stroke="#111" stroke-width="0.15">8</text>
<text x="615.18" y="211.4" font-size="5.1" text-anchor="middle" fill="#111" stroke="#111" stroke-width="0.15">9</text>
<text x="619.85" y="211.4" font-size="5.1" text-anchor="middle" fill="#111" stroke="#111" stroke-width="0.15">10</text>
<text x="624.51" y="211.4" font-size="5.1" text-anchor="middle" fill="#111" stroke="#111" stroke-width="0.15">1</text>
<text x="629.18" y="211.4" font-size="5.1" text-anchor="middle" fill="#111" stroke="#111" stroke-width="0.15">2</text>
<text x="633.84" y="211.4" font-size="5.1" text-anchor="middle" fill="#111" stroke="#111" stroke-width="0.15">3</text>
<text x="638.51" y="211.4" font-size="5.1" text-anchor="middle" fill="#111" stroke="#111" stroke-width="0.15">4</text>
<text x="643.17" y="211.4" font-size="5.1" text-anchor="middle" fill="#111" stroke="#111" stroke-width="0.15">5</text>
<text x="647.84" y="211.4" font-size="5.1" text-anchor="middle" fill="#111" stroke="#111" stroke-width="0.15">6</text>
<text x="652.50" y="211.4" font-size="5.1" text-anchor="middle" fill="#111" stroke="#111" stroke-width="0.15">7</text>
<text x="657.17" y="211.4" font-size="5.1" text-anchor="middle" fill="#111" stroke="#111" stroke-width="0.15">8</text>
<text x="661.83" y="211.4" font-size="5.1" text-anchor="middle" fill="#111" stroke="#111" stroke-width="0.15">9</text>
<text x="666.50" y="211.4" font-size="5.1" text-anchor="middle" fill="#111" stroke="#111" stroke-width="0.15">10</text>
<text x="598.94" y="224.7" font-size="7.4" text-anchor="middle" fill="#000" stroke="#000" stroke-width="0.3">Unw.</text>
<text x="645.42" y="224.7" font-size="7.4" text-anchor="middle" fill="#000" stroke="#000" stroke-width="0.3">20x/Aged</text>
<line x1="622.18" x2="622.18" y1="231.5" y2="233.7" stroke="#333" stroke-width="1.07"/>
<text x="622.18" y="242.9" font-size="10.6" text-anchor="middle" fill="#4d4d4d">Pyrethroid-only</text>
<line x1="371.85" x2="371.85" y1="119.48" y2="123.72" stroke="rgb(232,134,14)" stroke-width="0.85"/><line x1="371.85" x2="371.85" y1="127.44" y2="134.33" stroke="rgb(232,134,14)" stroke-width="0.85"/><rect x="370.27" y="123.72" width="3.15" height="3.71" fill="rgb(238,168,81)" stroke="rgb(232,134,14)" stroke-width="0.85"/><line x1="370.27" x2="373.42" y1="125.49" y2="125.49" stroke="rgb(232,134,14)" stroke-width="1.4"/><circle cx="371.85" cy="118.25" r="1.72" fill="rgba(232,134,14,0.80)" stroke="rgba(232,134,14,0.80)" stroke-width="0.6"/><circle cx="371.85" cy="116.13" r="1.72" fill="rgba(232,134,14,0.80)" stroke="rgba(232,134,14,0.80)" stroke-width="0.6"/><circle cx="371.85" cy="135.03" r="1.72" fill="rgba(232,134,14,0.80)" stroke="rgba(232,134,14,0.80)" stroke-width="0.6"/>
<line x1="377.68" x2="377.68" y1="118.60" y2="125.14" stroke="rgb(232,134,14)" stroke-width="0.85"/><line x1="377.68" x2="377.68" y1="130.44" y2="135.39" stroke="rgb(232,134,14)" stroke-width="0.85"/><rect x="376.10" y="125.14" width="3.15" height="5.30" fill="rgb(238,168,81)" stroke="rgb(232,134,14)" stroke-width="0.85"/><line x1="376.10" x2="379.25" y1="128.32" y2="128.32" stroke="rgb(232,134,14)" stroke-width="1.4"/><circle cx="377.68" cy="117.72" r="1.72" fill="rgba(232,134,14,0.80)" stroke="rgba(232,134,14,0.80)" stroke-width="0.6"/><circle cx="377.68" cy="115.95" r="1.72" fill="rgba(232,134,14,0.80)" stroke="rgba(232,134,14,0.80)" stroke-width="0.6"/><circle cx="377.68" cy="139.80" r="1.72" fill="rgba(232,134,14,0.80)" stroke="rgba(232,134,14,0.80)" stroke-width="0.6"/>
<line x1="383.51" x2="383.51" y1="119.48" y2="124.43" stroke="rgb(232,134,14)" stroke-width="0.85"/><line x1="383.51" x2="383.51" y1="127.79" y2="131.85" stroke="rgb(232,134,14)" stroke-width="0.85"/><rect x="381.93" y="124.43" width="3.15" height="3.36" fill="rgb(238,168,81)" stroke="rgb(232,134,14)" stroke-width="0.85"/><line x1="381.93" x2="385.08" y1="125.85" y2="125.85" stroke="rgb(232,134,14)" stroke-width="1.4"/><circle cx="383.51" cy="118.25" r="1.72" fill="rgba(232,134,14,0.80)" stroke="rgba(232,134,14,0.80)" stroke-width="0.6"/><circle cx="383.51" cy="115.95" r="1.72" fill="rgba(232,134,14,0.80)" stroke="rgba(232,134,14,0.80)" stroke-width="0.6"/><circle cx="383.51" cy="136.27" r="1.72" fill="rgba(232,134,14,0.80)" stroke="rgba(232,134,14,0.80)" stroke-width="0.6"/><circle cx="383.51" cy="134.42" r="1.72" fill="rgba(232,134,14,0.80)" stroke="rgba(232,134,14,0.80)" stroke-width="0.6"/><circle cx="383.51" cy="132.56" r="1.72" fill="rgba(232,134,14,0.80)" stroke="rgba(232,134,14,0.80)" stroke-width="0.6"/>
<line x1="389.34" x2="389.34" y1="98.63" y2="121.25" stroke="rgb(232,134,14)" stroke-width="0.85"/><line x1="389.34" x2="389.34" y1="136.27" y2="159.77" stroke="rgb(232,134,14)" stroke-width="0.85"/><rect x="387.76" y="121.25" width="3.15" height="15.02" fill="rgb(238,168,81)" stroke="rgb(232,134,14)" stroke-width="0.85"/><line x1="387.76" x2="390.91" y1="129.38" y2="129.38" stroke="rgb(232,134,14)" stroke-width="1.4"/><circle cx="389.34" cy="97.57" r="1.72" fill="rgba(232,134,14,0.80)" stroke="rgba(232,134,14,0.80)" stroke-width="0.6"/>
<line x1="395.17" x2="395.17" y1="85.03" y2="115.42" stroke="rgb(232,134,14)" stroke-width="0.85"/><line x1="395.17" x2="395.17" y1="136.27" y2="167.72" stroke="rgb(232,134,14)" stroke-width="0.85"/><rect x="393.60" y="115.42" width="3.15" height="20.85" fill="rgb(238,168,81)" stroke="rgb(232,134,14)" stroke-width="0.85"/><line x1="393.60" x2="396.75" y1="125.14" y2="125.14" stroke="rgb(232,134,14)" stroke-width="1.4"/><circle cx="395.17" cy="75.84" r="1.72" fill="rgba(232,134,14,0.80)" stroke="rgba(232,134,14,0.80)" stroke-width="0.6"/><circle cx="395.17" cy="79.73" r="1.72" fill="rgba(232,134,14,0.80)" stroke="rgba(232,134,14,0.80)" stroke-width="0.6"/><circle cx="395.17" cy="82.02" r="1.72" fill="rgba(232,134,14,0.80)" stroke="rgba(232,134,14,0.80)" stroke-width="0.6"/>
<line x1="401.00" x2="401.00" y1="82.38" y2="88.74" stroke="rgb(232,134,14)" stroke-width="0.85"/><line x1="401.00" x2="401.00" y1="94.04" y2="100.22" stroke="rgb(232,134,14)" stroke-width="0.85"/><rect x="399.43" y="88.74" width="3.15" height="5.30" fill="rgb(238,168,81)" stroke="rgb(232,134,14)" stroke-width="0.85"/><line x1="399.43" x2="402.58" y1="91.57" y2="91.57" stroke="rgb(232,134,14)" stroke-width="1.4"/><circle cx="401.00" cy="81.14" r="1.72" fill="rgba(232,134,14,0.80)" stroke="rgba(232,134,14,0.80)" stroke-width="0.6"/><circle cx="401.00" cy="79.02" r="1.72" fill="rgba(232,134,14,0.80)" stroke="rgba(232,134,14,0.80)" stroke-width="0.6"/><circle cx="401.00" cy="105.52" r="1.72" fill="rgba(232,134,14,0.80)" stroke="rgba(232,134,14,0.80)" stroke-width="0.6"/><circle cx="401.00" cy="103.23" r="1.72" fill="rgba(232,134,14,0.80)" stroke="rgba(232,134,14,0.80)" stroke-width="0.6"/><circle cx="401.00" cy="100.93" r="1.72" fill="rgba(232,134,14,0.80)" stroke="rgba(232,134,14,0.80)" stroke-width="0.6"/>
<line x1="406.83" x2="406.83" y1="100.05" y2="106.23" stroke="rgb(232,134,14)" stroke-width="0.85"/><line x1="406.83" x2="406.83" y1="111.53" y2="117.54" stroke="rgb(232,134,14)" stroke-width="0.85"/><rect x="405.26" y="106.23" width="3.15" height="5.30" fill="rgb(238,168,81)" stroke="rgb(232,134,14)" stroke-width="0.85"/><line x1="405.26" x2="408.41" y1="108.88" y2="108.88" stroke="rgb(232,134,14)" stroke-width="1.4"/><circle cx="406.83" cy="98.63" r="1.72" fill="rgba(232,134,14,0.80)" stroke="rgba(232,134,14,0.80)" stroke-width="0.6"/><circle cx="406.83" cy="123.02" r="1.72" fill="rgba(232,134,14,0.80)" stroke="rgba(232,134,14,0.80)" stroke-width="0.6"/><circle cx="406.83" cy="120.72" r="1.72" fill="rgba(232,134,14,0.80)" stroke="rgba(232,134,14,0.80)" stroke-width="0.6"/><circle cx="406.83" cy="118.42" r="1.72" fill="rgba(232,134,14,0.80)" stroke="rgba(232,134,14,0.80)" stroke-width="0.6"/>
<line x1="412.66" x2="412.66" y1="64.53" y2="84.32" stroke="rgb(232,134,14)" stroke-width="0.85"/><line x1="412.66" x2="412.66" y1="100.22" y2="123.72" stroke="rgb(232,134,14)" stroke-width="0.85"/><rect x="411.09" y="84.32" width="3.15" height="15.90" fill="rgb(238,168,81)" stroke="rgb(232,134,14)" stroke-width="0.85"/><line x1="411.09" x2="414.24" y1="92.10" y2="92.10" stroke="rgb(232,134,14)" stroke-width="1.4"/><circle cx="412.66" cy="130.97" r="1.72" fill="rgba(232,134,14,0.80)" stroke="rgba(232,134,14,0.80)" stroke-width="0.6"/><circle cx="412.66" cy="128.79" r="1.72" fill="rgba(232,134,14,0.80)" stroke="rgba(232,134,14,0.80)" stroke-width="0.6"/><circle cx="412.66" cy="126.61" r="1.72" fill="rgba(232,134,14,0.80)" stroke="rgba(232,134,14,0.80)" stroke-width="0.6"/><circle cx="412.66" cy="124.43" r="1.72" fill="rgba(232,134,14,0.80)" stroke="rgba(232,134,14,0.80)" stroke-width="0.6"/><circle cx="412.66" cy="138.21" r="1.72" fill="rgba(232,134,14,0.80)" stroke="rgba(232,134,14,0.80)" stroke-width="0.6"/>
<line x1="418.50" x2="418.50" y1="145.99" y2="150.76" stroke="rgb(232,134,14)" stroke-width="0.85"/><line x1="418.50" x2="418.50" y1="153.06" y2="157.65" stroke="rgb(232,134,14)" stroke-width="0.85"/><rect x="416.92" y="150.76" width="3.15" height="2.30" fill="rgb(245,229,194)" stroke="rgb(232,134,14)" stroke-width="0.85"/><line x1="416.92" x2="420.07" y1="151.82" y2="151.82" stroke="rgb(232,134,14)" stroke-width="1.4"/><circle cx="418.50" cy="160.66" r="1.72" fill="rgba(232,134,14,0.30)" stroke="rgba(232,134,14,0.30)" stroke-width="0.6"/><circle cx="418.50" cy="158.36" r="1.72" fill="rgba(232,134,14,0.30)" stroke="rgba(232,134,14,0.30)" stroke-width="0.6"/>
<line x1="424.33" x2="424.33" y1="123.90" y2="129.38" stroke="rgb(232,134,14)" stroke-width="0.85"/><line x1="424.33" x2="424.33" y1="133.09" y2="139.45" stroke="rgb(232,134,14)" stroke-width="0.85"/><rect x="422.75" y="129.38" width="3.15" height="3.71" fill="rgb(245,229,194)" stroke="rgb(232,134,14)" stroke-width="0.85"/><line x1="422.75" x2="425.90" y1="130.97" y2="130.97" stroke="rgb(232,134,14)" stroke-width="1.4"/><circle cx="424.33" cy="122.49" r="1.72" fill="rgba(232,134,14,0.30)" stroke="rgba(232,134,14,0.30)" stroke-width="0.6"/><circle cx="424.33" cy="140.16" r="1.72" fill="rgba(232,134,14,0.30)" stroke="rgba(232,134,14,0.30)" stroke-width="0.6"/>
<line x1="430.16" x2="430.16" y1="140.33" y2="142.46" stroke="rgb(232,134,14)" stroke-width="0.85"/><line x1="430.16" x2="430.16" y1="144.75" y2="146.87" stroke="rgb(232,134,14)" stroke-width="0.85"/><rect x="428.58" y="142.46" width="3.15" height="2.30" fill="rgb(245,229,194)" stroke="rgb(232,134,14)" stroke-width="0.85"/><line x1="428.58" x2="431.73" y1="143.52" y2="143.52" stroke="rgb(232,134,14)" stroke-width="1.4"/><circle cx="430.16" cy="138.92" r="1.72" fill="rgba(232,134,14,0.30)" stroke="rgba(232,134,14,0.30)" stroke-width="0.6"/><circle cx="430.16" cy="149.17" r="1.72" fill="rgba(232,134,14,0.80)" stroke="rgba(232,134,14,0.80)" stroke-width="0.6"/><circle cx="430.16" cy="147.76" r="1.72" fill="rgba(232,134,14,0.80)" stroke="rgba(232,134,14,0.80)" stroke-width="0.6"/>
<line x1="435.99" x2="435.99" y1="174.26" y2="190.16" stroke="rgb(232,134,14)" stroke-width="0.85"/><line x1="435.99" x2="435.99" y1="200.41" y2="203.06" stroke="rgb(232,134,14)" stroke-width="0.85"/><rect x="434.41" y="190.16" width="3.15" height="10.25" fill="rgb(245,229,194)" stroke="rgb(232,134,14)" stroke-width="0.85"/><line x1="434.41" x2="437.56" y1="195.47" y2="195.47" stroke="rgb(232,134,14)" stroke-width="1.4"/><circle cx="435.99" cy="158.00" r="1.72" fill="rgba(232,134,14,0.30)" stroke="rgba(232,134,14,0.30)" stroke-width="0.6"/><circle cx="435.99" cy="166.31" r="1.72" fill="rgba(232,134,14,0.80)" stroke="rgba(232,134,14,0.80)" stroke-width="0.6"/><circle cx="435.99" cy="164.37" r="1.72" fill="rgba(232,134,14,0.80)" stroke="rgba(232,134,14,0.80)" stroke-width="0.6"/><circle cx="435.99" cy="169.84" r="1.72" fill="rgba(232,134,14,0.30)" stroke="rgba(232,134,14,0.30)" stroke-width="0.6"/><circle cx="435.99" cy="168.08" r="1.72" fill="rgba(232,134,14,0.30)" stroke="rgba(232,134,14,0.30)" stroke-width="0.6"/><circle cx="435.99" cy="172.67" r="1.72" fill="rgba(232,134,14,0.80)" stroke="rgba(232,134,14,0.80)" stroke-width="0.6"/><circle cx="435.99" cy="171.26" r="1.72" fill="rgba(232,134,14,0.80)" stroke="rgba(232,134,14,0.80)" stroke-width="0.6"/>
<line x1="441.82" x2="441.82" y1="151.29" y2="177.97" stroke="rgb(232,134,14)" stroke-width="0.85"/><line x1="441.82" x2="441.82" y1="194.76" y2="203.77" stroke="rgb(232,134,14)" stroke-width="0.85"/><rect x="440.25" y="177.97" width="3.15" height="16.79" fill="rgb(245,229,194)" stroke="rgb(232,134,14)" stroke-width="0.85"/><line x1="440.25" x2="443.40" y1="185.92" y2="185.92" stroke="rgb(232,134,14)" stroke-width="1.4"/><circle cx="441.82" cy="139.45" r="1.72" fill="rgba(232,134,14,0.30)" stroke="rgba(232,134,14,0.30)" stroke-width="0.6"/><circle cx="441.82" cy="146.17" r="1.72" fill="rgba(232,134,14,0.30)" stroke="rgba(232,134,14,0.30)" stroke-width="0.6"/><circle cx="441.82" cy="150.76" r="1.72" fill="rgba(232,134,14,0.80)" stroke="rgba(232,134,14,0.80)" stroke-width="0.6"/>
<line x1="447.65" x2="447.65" y1="95.63" y2="100.93" stroke="rgb(232,134,14)" stroke-width="0.85"/><line x1="447.65" x2="447.65" y1="104.64" y2="109.94" stroke="rgb(232,134,14)" stroke-width="0.85"/><rect x="446.08" y="100.93" width="3.15" height="3.71" fill="rgb(245,229,194)" stroke="rgb(232,134,14)" stroke-width="0.85"/><line x1="446.08" x2="449.23" y1="102.70" y2="102.70" stroke="rgb(232,134,14)" stroke-width="1.4"/><circle cx="447.65" cy="94.04" r="1.72" fill="rgba(232,134,14,0.30)" stroke="rgba(232,134,14,0.30)" stroke-width="0.6"/><circle cx="447.65" cy="111.18" r="1.72" fill="rgba(232,134,14,0.30)" stroke="rgba(232,134,14,0.30)" stroke-width="0.6"/>
<line x1="453.48" x2="453.48" y1="115.07" y2="123.02" stroke="rgb(232,134,14)" stroke-width="0.85"/><line x1="453.48" x2="453.48" y1="126.73" y2="132.74" stroke="rgb(232,134,14)" stroke-width="0.85"/><rect x="451.91" y="123.02" width="3.15" height="3.71" fill="rgb(245,229,194)" stroke="rgb(232,134,14)" stroke-width="0.85"/><line x1="451.91" x2="455.06" y1="124.43" y2="124.43" stroke="rgb(232,134,14)" stroke-width="1.4"/><circle cx="453.48" cy="113.83" r="1.72" fill="rgba(232,134,14,0.80)" stroke="rgba(232,134,14,0.80)" stroke-width="0.6"/><circle cx="453.48" cy="133.62" r="1.72" fill="rgba(232,134,14,0.30)" stroke="rgba(232,134,14,0.30)" stroke-width="0.6"/>
<line x1="459.31" x2="459.31" y1="76.72" y2="109.24" stroke="rgb(232,134,14)" stroke-width="0.85"/><line x1="459.31" x2="459.31" y1="130.44" y2="160.66" stroke="rgb(232,134,14)" stroke-width="0.85"/><rect x="457.74" y="109.24" width="3.15" height="21.20" fill="rgb(245,229,194)" stroke="rgb(232,134,14)" stroke-width="0.85"/><line x1="457.74" x2="460.89" y1="119.13" y2="119.13" stroke="rgb(232,134,14)" stroke-width="1.4"/><circle cx="459.31" cy="72.13" r="1.72" fill="rgba(232,134,14,0.30)" stroke="rgba(232,134,14,0.30)" stroke-width="0.6"/><circle cx="459.31" cy="75.84" r="1.72" fill="rgba(232,134,14,0.30)" stroke="rgba(232,134,14,0.30)" stroke-width="0.6"/><circle cx="459.31" cy="165.07" r="1.72" fill="rgba(232,134,14,0.80)" stroke="rgba(232,134,14,0.80)" stroke-width="0.6"/><circle cx="459.31" cy="163.22" r="1.72" fill="rgba(232,134,14,0.80)" stroke="rgba(232,134,14,0.80)" stroke-width="0.6"/><circle cx="459.31" cy="161.36" r="1.72" fill="rgba(232,134,14,0.80)" stroke="rgba(232,134,14,0.80)" stroke-width="0.6"/><circle cx="459.31" cy="171.26" r="1.72" fill="rgba(232,134,14,0.80)" stroke="rgba(232,134,14,0.80)" stroke-width="0.6"/><circle cx="459.31" cy="180.98" r="1.72" fill="rgba(232,134,14,0.80)" stroke="rgba(232,134,14,0.80)" stroke-width="0.6"/><circle cx="459.31" cy="178.68" r="1.72" fill="rgba(232,134,14,0.80)" stroke="rgba(232,134,14,0.80)" stroke-width="0.6"/>
<line x1="369.10" x2="410.42" y1="113.30" y2="113.30" stroke="#000" stroke-width="1.45"/>
<line x1="415.58" x2="462.07" y1="141.57" y2="141.57" stroke="#000" stroke-width="1.45" stroke-dasharray="3.2 2.55"/>
<line x1="476.12" x2="476.12" y1="135.39" y2="142.46" stroke="rgb(66,142,245)" stroke-width="0.85"/><line x1="476.12" x2="476.12" y1="146.17" y2="153.06" stroke="rgb(66,142,245)" stroke-width="0.85"/><rect x="474.02" y="142.46" width="4.20" height="3.71" fill="rgb(121,176,248)" stroke="rgb(66,142,245)" stroke-width="0.85"/><line x1="474.02" x2="478.22" y1="144.22" y2="144.22" stroke="rgb(66,142,245)" stroke-width="1.4"/><circle cx="476.12" cy="133.27" r="1.72" fill="rgba(66,142,245,0.80)" stroke="rgba(66,142,245,0.80)" stroke-width="0.6"/><circle cx="476.12" cy="154.47" r="1.72" fill="rgba(66,142,245,0.80)" stroke="rgba(66,142,245,0.80)" stroke-width="0.6"/>
<line x1="483.89" x2="483.89" y1="119.84" y2="124.43" stroke="rgb(66,142,245)" stroke-width="0.85"/><line x1="483.89" x2="483.89" y1="127.44" y2="132.74" stroke="rgb(66,142,245)" stroke-width="0.85"/><rect x="481.79" y="124.43" width="4.20" height="3.00" fill="rgb(121,176,248)" stroke="rgb(66,142,245)" stroke-width="0.85"/><line x1="481.79" x2="485.99" y1="125.49" y2="125.49" stroke="rgb(66,142,245)" stroke-width="1.4"/><circle cx="483.89" cy="118.42" r="1.72" fill="rgba(66,142,245,0.80)" stroke="rgba(66,142,245,0.80)" stroke-width="0.6"/><circle cx="483.89" cy="133.97" r="1.72" fill="rgba(66,142,245,0.80)" stroke="rgba(66,142,245,0.80)" stroke-width="0.6"/>
<line x1="491.67" x2="491.67" y1="134.50" y2="137.86" stroke="rgb(66,142,245)" stroke-width="0.85"/><line x1="491.67" x2="491.67" y1="140.86" y2="144.75" stroke="rgb(66,142,245)" stroke-width="0.85"/><rect x="489.57" y="137.86" width="4.20" height="3.00" fill="rgb(121,176,248)" stroke="rgb(66,142,245)" stroke-width="0.85"/><line x1="489.57" x2="493.77" y1="139.45" y2="139.45" stroke="rgb(66,142,245)" stroke-width="1.4"/><circle cx="491.67" cy="133.62" r="1.72" fill="rgba(66,142,245,0.80)" stroke="rgba(66,142,245,0.80)" stroke-width="0.6"/><circle cx="491.67" cy="130.97" r="1.72" fill="rgba(66,142,245,0.80)" stroke="rgba(66,142,245,0.80)" stroke-width="0.6"/><circle cx="491.67" cy="145.81" r="1.72" fill="rgba(66,142,245,0.80)" stroke="rgba(66,142,245,0.80)" stroke-width="0.6"/>
<line x1="499.44" x2="499.44" y1="90.33" y2="113.83" stroke="rgb(66,142,245)" stroke-width="0.85"/><line x1="499.44" x2="499.44" y1="129.38" y2="153.76" stroke="rgb(66,142,245)" stroke-width="0.85"/><rect x="497.34" y="113.83" width="4.20" height="15.55" fill="rgb(121,176,248)" stroke="rgb(66,142,245)" stroke-width="0.85"/><line x1="497.34" x2="501.54" y1="121.78" y2="121.78" stroke="rgb(66,142,245)" stroke-width="1.4"/><circle cx="499.44" cy="88.56" r="1.72" fill="rgba(66,142,245,0.80)" stroke="rgba(66,142,245,0.80)" stroke-width="0.6"/><circle cx="499.44" cy="157.47" r="1.72" fill="rgba(66,142,245,0.80)" stroke="rgba(66,142,245,0.80)" stroke-width="0.6"/><circle cx="499.44" cy="154.47" r="1.72" fill="rgba(66,142,245,0.80)" stroke="rgba(66,142,245,0.80)" stroke-width="0.6"/>
<line x1="507.22" x2="507.22" y1="115.95" y2="140.51" stroke="rgb(66,142,245)" stroke-width="0.85"/><line x1="507.22" x2="507.22" y1="156.06" y2="180.27" stroke="rgb(66,142,245)" stroke-width="0.85"/><rect x="505.12" y="140.51" width="4.20" height="15.55" fill="rgb(121,176,248)" stroke="rgb(66,142,245)" stroke-width="0.85"/><line x1="505.12" x2="509.32" y1="148.11" y2="148.11" stroke="rgb(66,142,245)" stroke-width="1.4"/><circle cx="507.22" cy="104.46" r="1.72" fill="rgba(66,142,245,0.80)" stroke="rgba(66,142,245,0.80)" stroke-width="0.6"/><circle cx="507.22" cy="110.12" r="1.72" fill="rgba(66,142,245,0.80)" stroke="rgba(66,142,245,0.80)" stroke-width="0.6"/><circle cx="507.22" cy="180.98" r="1.72" fill="rgba(66,142,245,0.80)" stroke="rgba(66,142,245,0.80)" stroke-width="0.6"/>
<line x1="514.99" x2="514.99" y1="138.92" y2="146.52" stroke="rgb(66,142,245)" stroke-width="0.85"/><line x1="514.99" x2="514.99" y1="151.47" y2="159.06" stroke="rgb(66,142,245)" stroke-width="0.85"/><rect x="512.89" y="146.52" width="4.20" height="4.95" fill="rgb(121,176,248)" stroke="rgb(66,142,245)" stroke-width="0.85"/><line x1="512.89" x2="517.09" y1="148.82" y2="148.82" stroke="rgb(66,142,245)" stroke-width="1.4"/><circle cx="514.99" cy="137.33" r="1.72" fill="rgba(66,142,245,0.80)" stroke="rgba(66,142,245,0.80)" stroke-width="0.6"/><circle cx="514.99" cy="161.54" r="1.72" fill="rgba(66,142,245,0.80)" stroke="rgba(66,142,245,0.80)" stroke-width="0.6"/><circle cx="514.99" cy="159.77" r="1.72" fill="rgba(66,142,245,0.80)" stroke="rgba(66,142,245,0.80)" stroke-width="0.6"/>
<line x1="522.77" x2="522.77" y1="141.57" y2="145.81" stroke="rgb(66,142,245)" stroke-width="0.85"/><line x1="522.77" x2="522.77" y1="149.17" y2="153.76" stroke="rgb(66,142,245)" stroke-width="0.85"/><rect x="520.67" y="145.81" width="4.20" height="3.36" fill="rgb(208,228,251)" stroke="rgb(66,142,245)" stroke-width="0.85"/><line x1="520.67" x2="524.87" y1="147.23" y2="147.23" stroke="rgb(66,142,245)" stroke-width="1.4"/><circle cx="522.77" cy="140.16" r="1.72" fill="rgba(66,142,245,0.30)" stroke="rgba(66,142,245,0.30)" stroke-width="0.6"/>
<line x1="530.54" x2="530.54" y1="145.11" y2="149.17" stroke="rgb(66,142,245)" stroke-width="0.85"/><line x1="530.54" x2="530.54" y1="151.82" y2="155.35" stroke="rgb(66,142,245)" stroke-width="0.85"/><rect x="528.44" y="149.17" width="4.20" height="2.65" fill="rgb(208,228,251)" stroke="rgb(66,142,245)" stroke-width="0.85"/><line x1="528.44" x2="532.64" y1="150.41" y2="150.41" stroke="rgb(66,142,245)" stroke-width="1.4"/><circle cx="530.54" cy="143.87" r="1.72" fill="rgba(66,142,245,0.80)" stroke="rgba(66,142,245,0.80)" stroke-width="0.6"/><circle cx="530.54" cy="156.59" r="1.72" fill="rgba(66,142,245,0.30)" stroke="rgba(66,142,245,0.30)" stroke-width="0.6"/>
<line x1="538.32" x2="538.32" y1="158.36" y2="161.36" stroke="rgb(66,142,245)" stroke-width="0.85"/><line x1="538.32" x2="538.32" y1="163.84" y2="167.37" stroke="rgb(66,142,245)" stroke-width="0.85"/><rect x="536.22" y="161.36" width="4.20" height="2.47" fill="rgb(208,228,251)" stroke="rgb(66,142,245)" stroke-width="0.85"/><line x1="536.22" x2="540.42" y1="162.60" y2="162.60" stroke="rgb(66,142,245)" stroke-width="1.4"/><circle cx="538.32" cy="157.30" r="1.72" fill="rgba(66,142,245,0.80)" stroke="rgba(66,142,245,0.80)" stroke-width="0.6"/><circle cx="538.32" cy="169.67" r="1.72" fill="rgba(66,142,245,0.80)" stroke="rgba(66,142,245,0.80)" stroke-width="0.6"/><circle cx="538.32" cy="168.25" r="1.72" fill="rgba(66,142,245,0.80)" stroke="rgba(66,142,245,0.80)" stroke-width="0.6"/>
<line x1="546.09" x2="546.09" y1="145.46" y2="166.66" stroke="rgb(66,142,245)" stroke-width="0.85"/><line x1="546.09" x2="546.09" y1="178.33" y2="195.47" stroke="rgb(66,142,245)" stroke-width="0.85"/><rect x="543.99" y="166.66" width="4.20" height="11.66" fill="rgb(208,228,251)" stroke="rgb(66,142,245)" stroke-width="0.85"/><line x1="543.99" x2="548.19" y1="172.49" y2="172.49" stroke="rgb(66,142,245)" stroke-width="1.4"/><circle cx="546.09" cy="143.87" r="1.72" fill="rgba(66,142,245,0.30)" stroke="rgba(66,142,245,0.30)" stroke-width="0.6"/><circle cx="546.09" cy="198.47" r="1.72" fill="rgba(66,142,245,0.30)" stroke="rgba(66,142,245,0.30)" stroke-width="0.6"/>
<line x1="553.87" x2="553.87" y1="174.26" y2="190.16" stroke="rgb(66,142,245)" stroke-width="0.85"/><line x1="553.87" x2="553.87" y1="200.77" y2="203.06" stroke="rgb(66,142,245)" stroke-width="0.85"/><rect x="551.77" y="190.16" width="4.20" height="10.60" fill="rgb(208,228,251)" stroke="rgb(66,142,245)" stroke-width="0.85"/><line x1="551.77" x2="555.97" y1="196.88" y2="196.88" stroke="rgb(66,142,245)" stroke-width="1.4"/><circle cx="553.87" cy="173.38" r="1.72" fill="rgba(66,142,245,0.30)" stroke="rgba(66,142,245,0.30)" stroke-width="0.6"/><circle cx="553.87" cy="171.30" r="1.72" fill="rgba(66,142,245,0.30)" stroke="rgba(66,142,245,0.30)" stroke-width="0.6"/><circle cx="553.87" cy="169.23" r="1.72" fill="rgba(66,142,245,0.30)" stroke="rgba(66,142,245,0.30)" stroke-width="0.6"/><circle cx="553.87" cy="167.15" r="1.72" fill="rgba(66,142,245,0.30)" stroke="rgba(66,142,245,0.30)" stroke-width="0.6"/><circle cx="553.87" cy="165.07" r="1.72" fill="rgba(66,142,245,0.30)" stroke="rgba(66,142,245,0.30)" stroke-width="0.6"/><circle cx="553.87" cy="173.38" r="1.72" fill="rgba(66,142,245,0.80)" stroke="rgba(66,142,245,0.80)" stroke-width="0.6"/><circle cx="553.87" cy="170.73" r="1.72" fill="rgba(66,142,245,0.80)" stroke="rgba(66,142,245,0.80)" stroke-width="0.6"/>
<line x1="561.64" x2="561.64" y1="164.54" y2="170.37" stroke="rgb(66,142,245)" stroke-width="0.85"/><line x1="561.64" x2="561.64" y1="174.26" y2="180.27" stroke="rgb(66,142,245)" stroke-width="0.85"/><rect x="559.54" y="170.37" width="4.20" height="3.89" fill="rgb(208,228,251)" stroke="rgb(66,142,245)" stroke-width="0.85"/><line x1="559.54" x2="563.74" y1="172.32" y2="172.32" stroke="rgb(66,142,245)" stroke-width="1.4"/><circle cx="561.64" cy="163.66" r="1.72" fill="rgba(66,142,245,0.30)" stroke="rgba(66,142,245,0.30)" stroke-width="0.6"/><circle cx="561.64" cy="160.66" r="1.72" fill="rgba(66,142,245,0.30)" stroke="rgba(66,142,245,0.30)" stroke-width="0.6"/><circle cx="561.64" cy="181.33" r="1.72" fill="rgba(66,142,245,0.80)" stroke="rgba(66,142,245,0.80)" stroke-width="0.6"/>
<line x1="472.39" x2="513.72" y1="138.04" y2="138.04" stroke="#000" stroke-width="1.45"/>
<line x1="518.88" x2="565.37" y1="166.66" y2="166.66" stroke="#000" stroke-width="1.45" stroke-dasharray="3.2 2.55"/>
<line x1="577.86" x2="577.86" y1="135.39" y2="138.92" stroke="rgb(160,160,160)" stroke-width="0.85"/><line x1="577.86" x2="577.86" y1="141.57" y2="145.46" stroke="rgb(160,160,160)" stroke-width="0.85"/><rect x="576.60" y="138.92" width="2.52" height="2.65" fill="rgb(200,200,200)" stroke="rgb(160,160,160)" stroke-width="0.85"/><line x1="576.60" x2="579.12" y1="140.16" y2="140.16" stroke="rgb(160,160,160)" stroke-width="1.4"/><circle cx="577.86" cy="133.27" r="1.72" fill="rgba(140,140,140,0.80)" stroke="rgba(140,140,140,0.80)" stroke-width="0.6"/><circle cx="577.86" cy="146.52" r="1.72" fill="rgba(140,140,140,0.80)" stroke="rgba(140,140,140,0.80)" stroke-width="0.6"/>
<line x1="582.53" x2="582.53" y1="149.52" y2="156.77" stroke="rgb(160,160,160)" stroke-width="0.85"/><line x1="582.53" x2="582.53" y1="162.07" y2="168.25" stroke="rgb(160,160,160)" stroke-width="0.85"/><rect x="581.27" y="156.77" width="2.52" height="5.30" fill="rgb(200,200,200)" stroke="rgb(160,160,160)" stroke-width="0.85"/><line x1="581.27" x2="583.79" y1="159.06" y2="159.06" stroke="rgb(160,160,160)" stroke-width="1.4"/><circle cx="582.53" cy="142.63" r="1.72" fill="rgba(140,140,140,0.80)" stroke="rgba(140,140,140,0.80)" stroke-width="0.6"/><circle cx="582.53" cy="147.76" r="1.72" fill="rgba(140,140,140,0.80)" stroke="rgba(140,140,140,0.80)" stroke-width="0.6"/><circle cx="582.53" cy="145.11" r="1.72" fill="rgba(140,140,140,0.80)" stroke="rgba(140,140,140,0.80)" stroke-width="0.6"/><circle cx="582.53" cy="174.97" r="1.72" fill="rgba(140,140,140,0.80)" stroke="rgba(140,140,140,0.80)" stroke-width="0.6"/>
<line x1="587.19" x2="587.19" y1="153.06" y2="154.82" stroke="rgb(160,160,160)" stroke-width="0.85"/><line x1="587.19" x2="587.19" y1="156.06" y2="157.47" stroke="rgb(160,160,160)" stroke-width="0.85"/><rect x="585.93" y="154.82" width="2.52" height="1.24" fill="rgb(200,200,200)" stroke="rgb(160,160,160)" stroke-width="0.85"/><line x1="585.93" x2="588.45" y1="155.35" y2="155.35" stroke="rgb(160,160,160)" stroke-width="1.4"/><circle cx="587.19" cy="152.17" r="1.72" fill="rgba(140,140,140,0.80)" stroke="rgba(140,140,140,0.80)" stroke-width="0.6"/><circle cx="587.19" cy="159.06" r="1.72" fill="rgba(140,140,140,0.80)" stroke="rgba(140,140,140,0.80)" stroke-width="0.6"/>
<line x1="591.86" x2="591.86" y1="136.27" y2="140.16" stroke="rgb(160,160,160)" stroke-width="0.85"/><line x1="591.86" x2="591.86" y1="143.16" y2="149.17" stroke="rgb(160,160,160)" stroke-width="0.85"/><rect x="590.60" y="140.16" width="2.52" height="3.00" fill="rgb(200,200,200)" stroke="rgb(160,160,160)" stroke-width="0.85"/><line x1="590.60" x2="593.12" y1="141.57" y2="141.57" stroke="rgb(160,160,160)" stroke-width="1.4"/><circle cx="591.86" cy="134.15" r="1.72" fill="rgba(140,140,140,0.80)" stroke="rgba(140,140,140,0.80)" stroke-width="0.6"/><circle cx="591.86" cy="151.29" r="1.72" fill="rgba(140,140,140,0.80)" stroke="rgba(140,140,140,0.80)" stroke-width="0.6"/><circle cx="591.86" cy="150.05" r="1.72" fill="rgba(140,140,140,0.80)" stroke="rgba(140,140,140,0.80)" stroke-width="0.6"/>
<line x1="596.52" x2="596.52" y1="167.19" y2="168.96" stroke="rgb(160,160,160)" stroke-width="0.85"/><line x1="596.52" x2="596.52" y1="170.73" y2="174.26" stroke="rgb(160,160,160)" stroke-width="0.85"/><rect x="595.26" y="168.96" width="2.52" height="1.77" fill="rgb(200,200,200)" stroke="rgb(160,160,160)" stroke-width="0.85"/><line x1="595.26" x2="597.78" y1="169.67" y2="169.67" stroke="rgb(160,160,160)" stroke-width="1.4"/><circle cx="596.52" cy="177.26" r="1.72" fill="rgba(140,140,140,0.80)" stroke="rgba(140,140,140,0.80)" stroke-width="0.6"/>
<line x1="601.19" x2="601.19" y1="170.73" y2="190.16" stroke="rgb(160,160,160)" stroke-width="0.85"/><line x1="601.19" x2="601.19" y1="200.06" y2="203.77" stroke="rgb(160,160,160)" stroke-width="0.85"/><rect x="599.93" y="190.16" width="2.52" height="9.90" fill="rgb(200,200,200)" stroke="rgb(160,160,160)" stroke-width="0.85"/><line x1="599.93" x2="602.45" y1="195.47" y2="195.47" stroke="rgb(160,160,160)" stroke-width="1.4"/><circle cx="601.19" cy="169.67" r="1.72" fill="rgba(140,140,140,0.80)" stroke="rgba(140,140,140,0.80)" stroke-width="0.6"/><circle cx="601.19" cy="168.25" r="1.72" fill="rgba(140,140,140,0.80)" stroke="rgba(140,140,140,0.80)" stroke-width="0.6"/><circle cx="601.19" cy="174.97" r="1.72" fill="rgba(140,140,140,0.80)" stroke="rgba(140,140,140,0.80)" stroke-width="0.6"/>
<line x1="605.85" x2="605.85" y1="157.47" y2="180.27" stroke="rgb(160,160,160)" stroke-width="0.85"/><line x1="605.85" x2="605.85" y1="196.17" y2="203.77" stroke="rgb(160,160,160)" stroke-width="0.85"/><rect x="604.59" y="180.27" width="2.52" height="15.90" fill="rgb(200,200,200)" stroke="rgb(160,160,160)" stroke-width="0.85"/><line x1="604.59" x2="607.11" y1="188.57" y2="188.57" stroke="rgb(160,160,160)" stroke-width="1.4"/><circle cx="605.85" cy="156.77" r="1.72" fill="rgba(140,140,140,0.80)" stroke="rgba(140,140,140,0.80)" stroke-width="0.6"/><circle cx="605.85" cy="154.65" r="1.72" fill="rgba(140,140,140,0.80)" stroke="rgba(140,140,140,0.80)" stroke-width="0.6"/><circle cx="605.85" cy="152.53" r="1.72" fill="rgba(140,140,140,0.80)" stroke="rgba(140,140,140,0.80)" stroke-width="0.6"/><circle cx="605.85" cy="150.41" r="1.72" fill="rgba(140,140,140,0.80)" stroke="rgba(140,140,140,0.80)" stroke-width="0.6"/><circle cx="605.85" cy="148.29" r="1.72" fill="rgba(140,140,140,0.80)" stroke="rgba(140,140,140,0.80)" stroke-width="0.6"/><circle cx="605.85" cy="146.17" r="1.72" fill="rgba(140,140,140,0.80)" stroke="rgba(140,140,140,0.80)" stroke-width="0.6"/>
<line x1="610.52" x2="610.52" y1="161.01" y2="166.66" stroke="rgb(160,160,160)" stroke-width="0.85"/><line x1="610.52" x2="610.52" y1="171.26" y2="177.97" stroke="rgb(160,160,160)" stroke-width="0.85"/><rect x="609.26" y="166.66" width="2.52" height="4.59" fill="rgb(200,200,200)" stroke="rgb(160,160,160)" stroke-width="0.85"/><line x1="609.26" x2="611.78" y1="168.96" y2="168.96" stroke="rgb(160,160,160)" stroke-width="1.4"/><circle cx="610.52" cy="159.77" r="1.72" fill="rgba(140,140,140,0.80)" stroke="rgba(140,140,140,0.80)" stroke-width="0.6"/><circle cx="610.52" cy="156.77" r="1.72" fill="rgba(140,140,140,0.80)" stroke="rgba(140,140,140,0.80)" stroke-width="0.6"/>
<line x1="615.18" x2="615.18" y1="168.96" y2="172.67" stroke="rgb(160,160,160)" stroke-width="0.85"/><line x1="615.18" x2="615.18" y1="177.26" y2="181.33" stroke="rgb(160,160,160)" stroke-width="0.85"/><rect x="613.92" y="172.67" width="2.52" height="4.59" fill="rgb(200,200,200)" stroke="rgb(160,160,160)" stroke-width="0.85"/><line x1="613.92" x2="616.44" y1="174.97" y2="174.97" stroke="rgb(160,160,160)" stroke-width="1.4"/><circle cx="615.18" cy="184.33" r="1.72" fill="rgba(140,140,140,0.80)" stroke="rgba(140,140,140,0.80)" stroke-width="0.6"/>
<line x1="619.85" x2="619.85" y1="124.79" y2="151.47" stroke="rgb(160,160,160)" stroke-width="0.85"/><line x1="619.85" x2="619.85" y1="168.96" y2="196.88" stroke="rgb(160,160,160)" stroke-width="0.85"/><rect x="618.59" y="151.47" width="2.52" height="17.49" fill="rgb(200,200,200)" stroke="rgb(160,160,160)" stroke-width="0.85"/><line x1="618.59" x2="621.11" y1="160.66" y2="160.66" stroke="rgb(160,160,160)" stroke-width="1.4"/><circle cx="619.85" cy="123.02" r="1.72" fill="rgba(140,140,140,0.80)" stroke="rgba(140,140,140,0.80)" stroke-width="0.6"/><circle cx="619.85" cy="204.30" r="1.72" fill="rgba(140,140,140,0.80)" stroke="rgba(140,140,140,0.80)" stroke-width="0.6"/><circle cx="619.85" cy="202.12" r="1.72" fill="rgba(140,140,140,0.80)" stroke="rgba(140,140,140,0.80)" stroke-width="0.6"/><circle cx="619.85" cy="199.94" r="1.72" fill="rgba(140,140,140,0.80)" stroke="rgba(140,140,140,0.80)" stroke-width="0.6"/><circle cx="619.85" cy="197.76" r="1.72" fill="rgba(140,140,140,0.80)" stroke="rgba(140,140,140,0.80)" stroke-width="0.6"/>
<line x1="624.51" x2="624.51" y1="149.52" y2="153.06" stroke="rgb(160,160,160)" stroke-width="0.85"/><line x1="624.51" x2="624.51" y1="155.35" y2="158.36" stroke="rgb(160,160,160)" stroke-width="0.85"/><rect x="623.25" y="153.06" width="2.52" height="2.30" fill="rgb(233,233,233)" stroke="rgb(160,160,160)" stroke-width="0.85"/><line x1="623.25" x2="625.77" y1="154.12" y2="154.12" stroke="rgb(160,160,160)" stroke-width="1.4"/><circle cx="624.51" cy="148.46" r="1.72" fill="rgba(140,140,140,0.80)" stroke="rgba(140,140,140,0.80)" stroke-width="0.6"/><circle cx="624.51" cy="159.42" r="1.72" fill="rgba(140,140,140,0.80)" stroke="rgba(140,140,140,0.80)" stroke-width="0.6"/>
<line x1="629.18" x2="629.18" y1="153.94" y2="158.36" stroke="rgb(160,160,160)" stroke-width="0.85"/><line x1="629.18" x2="629.18" y1="162.07" y2="166.66" stroke="rgb(160,160,160)" stroke-width="0.85"/><rect x="627.92" y="158.36" width="2.52" height="3.71" fill="rgb(233,233,233)" stroke="rgb(160,160,160)" stroke-width="0.85"/><line x1="627.92" x2="630.44" y1="160.12" y2="160.12" stroke="rgb(160,160,160)" stroke-width="1.4"/><circle cx="629.18" cy="152.17" r="1.72" fill="rgba(140,140,140,0.30)" stroke="rgba(140,140,140,0.30)" stroke-width="0.6"/><circle cx="629.18" cy="150.05" r="1.72" fill="rgba(140,140,140,0.30)" stroke="rgba(140,140,140,0.30)" stroke-width="0.6"/><circle cx="629.18" cy="170.37" r="1.72" fill="rgba(140,140,140,0.30)" stroke="rgba(140,140,140,0.30)" stroke-width="0.6"/><circle cx="629.18" cy="168.25" r="1.72" fill="rgba(140,140,140,0.30)" stroke="rgba(140,140,140,0.30)" stroke-width="0.6"/>
<line x1="633.84" x2="633.84" y1="158.00" y2="159.42" stroke="rgb(160,160,160)" stroke-width="0.85"/><line x1="633.84" x2="633.84" y1="160.66" y2="161.89" stroke="rgb(160,160,160)" stroke-width="0.85"/><rect x="632.58" y="159.42" width="2.52" height="1.24" fill="rgb(233,233,233)" stroke="rgb(160,160,160)" stroke-width="0.85"/><line x1="632.58" x2="635.10" y1="159.95" y2="159.95" stroke="rgb(160,160,160)" stroke-width="1.4"/><circle cx="633.84" cy="157.65" r="1.72" fill="rgba(140,140,140,0.30)" stroke="rgba(140,140,140,0.30)" stroke-width="0.6"/><circle cx="633.84" cy="156.06" r="1.72" fill="rgba(140,140,140,0.30)" stroke="rgba(140,140,140,0.30)" stroke-width="0.6"/><circle cx="633.84" cy="163.13" r="1.72" fill="rgba(140,140,140,0.30)" stroke="rgba(140,140,140,0.30)" stroke-width="0.6"/>
<line x1="638.51" x2="638.51" y1="150.41" y2="155.35" stroke="rgb(160,160,160)" stroke-width="0.85"/><line x1="638.51" x2="638.51" y1="158.36" y2="162.95" stroke="rgb(160,160,160)" stroke-width="0.85"/><rect x="637.25" y="155.35" width="2.52" height="3.00" fill="rgb(233,233,233)" stroke="rgb(160,160,160)" stroke-width="0.85"/><line x1="637.25" x2="639.77" y1="156.77" y2="156.77" stroke="rgb(160,160,160)" stroke-width="1.4"/><circle cx="638.51" cy="149.17" r="1.72" fill="rgba(140,140,140,0.80)" stroke="rgba(140,140,140,0.80)" stroke-width="0.6"/>
<line x1="643.17" x2="643.17" y1="166.66" y2="168.96" stroke="rgb(160,160,160)" stroke-width="0.85"/><line x1="643.17" x2="643.17" y1="171.96" y2="174.26" stroke="rgb(160,160,160)" stroke-width="0.85"/><rect x="641.91" y="168.96" width="2.52" height="3.00" fill="rgb(233,233,233)" stroke="rgb(160,160,160)" stroke-width="0.85"/><line x1="641.91" x2="644.43" y1="170.73" y2="170.73" stroke="rgb(160,160,160)" stroke-width="1.4"/><circle cx="643.17" cy="177.97" r="1.72" fill="rgba(140,140,140,0.30)" stroke="rgba(140,140,140,0.30)" stroke-width="0.6"/><circle cx="643.17" cy="176.56" r="1.72" fill="rgba(140,140,140,0.30)" stroke="rgba(140,140,140,0.30)" stroke-width="0.6"/>
<line x1="647.84" x2="647.84" y1="154.82" y2="177.97" stroke="rgb(160,160,160)" stroke-width="0.85"/><line x1="647.84" x2="647.84" y1="192.46" y2="203.77" stroke="rgb(160,160,160)" stroke-width="0.85"/><rect x="646.58" y="177.97" width="2.52" height="14.49" fill="rgb(233,233,233)" stroke="rgb(160,160,160)" stroke-width="0.85"/><line x1="646.58" x2="649.10" y1="185.57" y2="185.57" stroke="rgb(160,160,160)" stroke-width="1.4"/><circle cx="647.84" cy="153.76" r="1.72" fill="rgba(140,140,140,0.30)" stroke="rgba(140,140,140,0.30)" stroke-width="0.6"/><circle cx="647.84" cy="151.47" r="1.72" fill="rgba(140,140,140,0.30)" stroke="rgba(140,140,140,0.30)" stroke-width="0.6"/><circle cx="647.84" cy="149.17" r="1.72" fill="rgba(140,140,140,0.30)" stroke="rgba(140,140,140,0.30)" stroke-width="0.6"/><circle cx="647.84" cy="146.87" r="1.72" fill="rgba(140,140,140,0.30)" stroke="rgba(140,140,140,0.30)" stroke-width="0.6"/>
<line x1="652.50" x2="652.50" y1="174.26" y2="190.16" stroke="rgb(160,160,160)" stroke-width="0.85"/><line x1="652.50" x2="652.50" y1="201.47" y2="203.77" stroke="rgb(160,160,160)" stroke-width="0.85"/><rect x="651.24" y="190.16" width="2.52" height="11.31" fill="rgb(233,233,233)" stroke="rgb(160,160,160)" stroke-width="0.85"/><line x1="651.24" x2="653.76" y1="196.88" y2="196.88" stroke="rgb(160,160,160)" stroke-width="1.4"/><circle cx="652.50" cy="159.06" r="1.72" fill="rgba(140,140,140,0.30)" stroke="rgba(140,140,140,0.30)" stroke-width="0.6"/><circle cx="652.50" cy="173.38" r="1.72" fill="rgba(140,140,140,0.80)" stroke="rgba(140,140,140,0.80)" stroke-width="0.6"/><circle cx="652.50" cy="171.17" r="1.72" fill="rgba(140,140,140,0.80)" stroke="rgba(140,140,140,0.80)" stroke-width="0.6"/><circle cx="652.50" cy="168.96" r="1.72" fill="rgba(140,140,140,0.80)" stroke="rgba(140,140,140,0.80)" stroke-width="0.6"/>
<line x1="657.17" x2="657.17" y1="161.01" y2="166.66" stroke="rgb(160,160,160)" stroke-width="0.85"/><line x1="657.17" x2="657.17" y1="170.73" y2="175.67" stroke="rgb(160,160,160)" stroke-width="0.85"/><rect x="655.91" y="166.66" width="2.52" height="4.06" fill="rgb(233,233,233)" stroke="rgb(160,160,160)" stroke-width="0.85"/><line x1="655.91" x2="658.43" y1="168.61" y2="168.61" stroke="rgb(160,160,160)" stroke-width="1.4"/><circle cx="657.17" cy="159.06" r="1.72" fill="rgba(140,140,140,0.30)" stroke="rgba(140,140,140,0.30)" stroke-width="0.6"/><circle cx="657.17" cy="177.97" r="1.72" fill="rgba(140,140,140,0.30)" stroke="rgba(140,140,140,0.30)" stroke-width="0.6"/>
<line x1="661.83" x2="661.83" y1="182.21" y2="186.28" stroke="rgb(160,160,160)" stroke-width="0.85"/><line x1="661.83" x2="661.83" y1="189.46" y2="193.17" stroke="rgb(160,160,160)" stroke-width="0.85"/><rect x="660.57" y="186.28" width="2.52" height="3.18" fill="rgb(233,233,233)" stroke="rgb(160,160,160)" stroke-width="0.85"/><line x1="660.57" x2="663.09" y1="187.87" y2="187.87" stroke="rgb(160,160,160)" stroke-width="1.4"/><circle cx="661.83" cy="180.98" r="1.72" fill="rgba(140,140,140,0.80)" stroke="rgba(140,140,140,0.80)" stroke-width="0.6"/><circle cx="661.83" cy="195.47" r="1.72" fill="rgba(140,140,140,0.80)" stroke="rgba(140,140,140,0.80)" stroke-width="0.6"/>
<line x1="666.50" x2="666.50" y1="107.82" y2="128.67" stroke="rgb(160,160,160)" stroke-width="0.85"/><line x1="666.50" x2="666.50" y1="141.75" y2="164.37" stroke="rgb(160,160,160)" stroke-width="0.85"/><rect x="665.24" y="128.67" width="2.52" height="13.08" fill="rgb(233,233,233)" stroke="rgb(160,160,160)" stroke-width="0.85"/><line x1="665.24" x2="667.76" y1="135.03" y2="135.03" stroke="rgb(160,160,160)" stroke-width="1.4"/><circle cx="666.50" cy="107.12" r="1.72" fill="rgba(140,140,140,0.80)" stroke="rgba(140,140,140,0.80)" stroke-width="0.6"/><circle cx="666.50" cy="105.70" r="1.72" fill="rgba(140,140,140,0.80)" stroke="rgba(140,140,140,0.80)" stroke-width="0.6"/><circle cx="666.50" cy="164.37" r="1.72" fill="rgba(140,140,140,0.80)" stroke="rgba(140,140,140,0.80)" stroke-width="0.6"/><circle cx="666.50" cy="177.26" r="1.72" fill="rgba(140,140,140,0.30)" stroke="rgba(140,140,140,0.30)" stroke-width="0.6"/>
<line x1="575.70" x2="617.02" y1="164.90" y2="164.90" stroke="#000" stroke-width="1.45"/>
<line x1="622.18" x2="668.67" y1="164.37" y2="164.37" stroke="#000" stroke-width="1.45" stroke-dasharray="3.2 2.55"/>
<rect x="353.5" y="19.75" width="330.0" height="211.7" fill="none" stroke="#a0a0a0" stroke-width="1.07"/>
<rect x="353.5" y="1.5" width="330.0" height="17.8" fill="#fff" stroke="#a0a0a0" stroke-width="1.07"/>
<text x="518.50" y="13.0" font-size="10.6" text-anchor="middle" fill="#1a1a1a">Pre-prandial killing effect (φ)</text>
<line x1="19.0" x2="349.5" y1="452.30" y2="452.30" stroke="#ebebeb" stroke-width="1.07"/>
<line x1="19.0" x2="349.5" y1="434.63" y2="434.63" stroke="#f5f5f5" stroke-width="0.53"/>
<line x1="19.0" x2="349.5" y1="416.96" y2="416.96" stroke="#ebebeb" stroke-width="1.07"/>
<line x1="19.0" x2="349.5" y1="399.29" y2="399.29" stroke="#f5f5f5" stroke-width="0.53"/>
<line x1="19.0" x2="349.5" y1="381.62" y2="381.62" stroke="#ebebeb" stroke-width="1.07"/>
<line x1="19.0" x2="349.5" y1="363.95" y2="363.95" stroke="#f5f5f5" stroke-width="0.53"/>
<line x1="19.0" x2="349.5" y1="346.28" y2="346.28" stroke="#ebebeb" stroke-width="1.07"/>
<line x1="19.0" x2="349.5" y1="328.61" y2="328.61" stroke="#f5f5f5" stroke-width="0.53"/>
<line x1="19.0" x2="349.5" y1="310.94" y2="310.94" stroke="#ebebeb" stroke-width="1.07"/>
<line x1="19.0" x2="349.5" y1="293.27" y2="293.27" stroke="#f5f5f5" stroke-width="0.53"/>
<line x1="19.0" x2="349.5" y1="275.60" y2="275.60" stroke="#ebebeb" stroke-width="1.07"/>
<line x1="80.83" x2="80.83" y1="267.5" y2="479.5" stroke="#ebebeb" stroke-width="1.07"/>
<line x1="184.13" x2="184.13" y1="267.5" y2="479.5" stroke="#ebebeb" stroke-width="1.07"/>
<line x1="287.43" x2="287.43" y1="267.5" y2="479.5" stroke="#ebebeb" stroke-width="1.07"/>
<text x="37.10" y="459.4" font-size="5.1" text-anchor="middle" fill="#111" stroke="#111" stroke-width="0.15">1</text>
<text x="42.93" y="459.4" font-size="5.1" text-anchor="middle" fill="#111" stroke="#111" stroke-width="0.15">2</text>
<text x="48.76" y="459.4" font-size="5.1" text-anchor="middle" fill="#111" stroke="#111" stroke-width="0.15">3</text>
<text x="54.59" y="459.4" font-size="5.1" text-anchor="middle" fill="#111" stroke="#111" stroke-width="0.15">6</text>
<text x="60.42" y="459.4" font-size="5.1" text-anchor="middle" fill="#111" stroke="#111" stroke-width="0.15">7</text>
<text x="66.25" y="459.4" font-size="5.1" text-anchor="middle" fill="#111" stroke="#111" stroke-width="0.15">8</text>
<text x="72.08" y="459.4" font-size="5.1" text-anchor="middle" fill="#111" stroke="#111" stroke-width="0.15">9</text>
<text x="77.91" y="459.4" font-size="5.1" text-anchor="middle" fill="#111" stroke="#111" stroke-width="0.15">11</text>
<text x="83.75" y="459.4" font-size="5.1" text-anchor="middle" fill="#111" stroke="#111" stroke-width="0.15">1</text>
<text x="89.58" y="459.4" font-size="5.1" text-anchor="middle" fill="#111" stroke="#111" stroke-width="0.15">2</text>
<text x="95.41" y="459.4" font-size="5.1" text-anchor="middle" fill="#111" stroke="#111" stroke-width="0.15">3</text>
<text x="101.24" y="459.4" font-size="5.1" text-anchor="middle" fill="#111" stroke="#111" stroke-width="0.15">6</text>
<text x="107.07" y="459.4" font-size="5.1" text-anchor="middle" fill="#111" stroke="#111" stroke-width="0.15">7</text>
<text x="112.90" y="459.4" font-size="5.1" text-anchor="middle" fill="#111" stroke="#111" stroke-width="0.15">8</text>
<text x="118.73" y="459.4" font-size="5.1" text-anchor="middle" fill="#111" stroke="#111" stroke-width="0.15">9</text>
<text x="124.56" y="459.4" font-size="5.1" text-anchor="middle" fill="#111" stroke="#111" stroke-width="0.15">11</text>
<text x="57.59" y="472.7" font-size="7.4" text-anchor="middle" fill="#000" stroke="#000" stroke-width="0.3">Unw.</text>
<text x="104.07" y="472.7" font-size="7.4" text-anchor="middle" fill="#000" stroke="#000" stroke-width="0.3">20x/Aged</text>
<line x1="80.83" x2="80.83" y1="479.5" y2="481.7" stroke="#333" stroke-width="1.07"/>
<text x="80.83" y="490.9" font-size="10.6" text-anchor="middle" fill="#4d4d4d">Interceptor G2</text>
<text x="141.37" y="459.4" font-size="5.1" text-anchor="middle" fill="#111" stroke="#111" stroke-width="0.15">1</text>
<text x="149.14" y="459.4" font-size="5.1" text-anchor="middle" fill="#111" stroke="#111" stroke-width="0.15">4</text>
<text x="156.92" y="459.4" font-size="5.1" text-anchor="middle" fill="#111" stroke="#111" stroke-width="0.15">5</text>
<text x="164.69" y="459.4" font-size="5.1" text-anchor="middle" fill="#111" stroke="#111" stroke-width="0.15">6</text>
<text x="172.47" y="459.4" font-size="5.1" text-anchor="middle" fill="#111" stroke="#111" stroke-width="0.15">7</text>
<text x="180.24" y="459.4" font-size="5.1" text-anchor="middle" fill="#111" stroke="#111" stroke-width="0.15">8</text>
<text x="188.02" y="459.4" font-size="5.1" text-anchor="middle" fill="#111" stroke="#111" stroke-width="0.15">1</text>
<text x="195.79" y="459.4" font-size="5.1" text-anchor="middle" fill="#111" stroke="#111" stroke-width="0.15">4</text>
<text x="203.57" y="459.4" font-size="5.1" text-anchor="middle" fill="#111" stroke="#111" stroke-width="0.15">5</text>
<text x="211.34" y="459.4" font-size="5.1" text-anchor="middle" fill="#111" stroke="#111" stroke-width="0.15">6</text>
<text x="219.12" y="459.4" font-size="5.1" text-anchor="middle" fill="#111" stroke="#111" stroke-width="0.15">7</text>
<text x="226.89" y="459.4" font-size="5.1" text-anchor="middle" fill="#111" stroke="#111" stroke-width="0.15">8</text>
<text x="160.89" y="472.7" font-size="7.4" text-anchor="middle" fill="#000" stroke="#000" stroke-width="0.3">Unw.</text>
<text x="207.37" y="472.7" font-size="7.4" text-anchor="middle" fill="#000" stroke="#000" stroke-width="0.3">20x/Aged</text>
<line x1="184.13" x2="184.13" y1="479.5" y2="481.7" stroke="#333" stroke-width="1.07"/>
<text x="184.13" y="490.9" font-size="10.6" text-anchor="middle" fill="#4d4d4d">Olyset Plus</text>
<text x="243.11" y="459.4" font-size="5.1" text-anchor="middle" fill="#111" stroke="#111" stroke-width="0.15">1</text>
<text x="247.78" y="459.4" font-size="5.1" text-anchor="middle" fill="#111" stroke="#111" stroke-width="0.15">2</text>
<text x="252.44" y="459.4" font-size="5.1" text-anchor="middle" fill="#111" stroke="#111" stroke-width="0.15">3</text>
<text x="257.11" y="459.4" font-size="5.1" text-anchor="middle" fill="#111" stroke="#111" stroke-width="0.15">4</text>
<text x="261.77" y="459.4" font-size="5.1" text-anchor="middle" fill="#111" stroke="#111" stroke-width="0.15">5</text>
<text x="266.44" y="459.4" font-size="5.1" text-anchor="middle" fill="#111" stroke="#111" stroke-width="0.15">6</text>
<text x="271.10" y="459.4" font-size="5.1" text-anchor="middle" fill="#111" stroke="#111" stroke-width="0.15">7</text>
<text x="275.77" y="459.4" font-size="5.1" text-anchor="middle" fill="#111" stroke="#111" stroke-width="0.15">8</text>
<text x="280.43" y="459.4" font-size="5.1" text-anchor="middle" fill="#111" stroke="#111" stroke-width="0.15">9</text>
<text x="285.10" y="459.4" font-size="5.1" text-anchor="middle" fill="#111" stroke="#111" stroke-width="0.15">10</text>
<text x="289.76" y="459.4" font-size="5.1" text-anchor="middle" fill="#111" stroke="#111" stroke-width="0.15">1</text>
<text x="294.43" y="459.4" font-size="5.1" text-anchor="middle" fill="#111" stroke="#111" stroke-width="0.15">2</text>
<text x="299.09" y="459.4" font-size="5.1" text-anchor="middle" fill="#111" stroke="#111" stroke-width="0.15">3</text>
<text x="303.76" y="459.4" font-size="5.1" text-anchor="middle" fill="#111" stroke="#111" stroke-width="0.15">4</text>
<text x="308.42" y="459.4" font-size="5.1" text-anchor="middle" fill="#111" stroke="#111" stroke-width="0.15">5</text>
<text x="313.09" y="459.4" font-size="5.1" text-anchor="middle" fill="#111" stroke="#111" stroke-width="0.15">6</text>
<text x="317.75" y="459.4" font-size="5.1" text-anchor="middle" fill="#111" stroke="#111" stroke-width="0.15">7</text>
<text x="322.42" y="459.4" font-size="5.1" text-anchor="middle" fill="#111" stroke="#111" stroke-width="0.15">8</text>
<text x="327.08" y="459.4" font-size="5.1" text-anchor="middle" fill="#111" stroke="#111" stroke-width="0.15">9</text>
<text x="331.75" y="459.4" font-size="5.1" text-anchor="middle" fill="#111" stroke="#111" stroke-width="0.15">10</text>
<text x="264.19" y="472.7" font-size="7.4" text-anchor="middle" fill="#000" stroke="#000" stroke-width="0.3">Unw.</text>
<text x="310.67" y="472.7" font-size="7.4" text-anchor="middle" fill="#000" stroke="#000" stroke-width="0.3">20x/Aged</text>
<line x1="287.43" x2="287.43" y1="479.5" y2="481.7" stroke="#333" stroke-width="1.07"/>
<text x="287.43" y="490.9" font-size="10.6" text-anchor="middle" fill="#4d4d4d">Pyrethroid-only</text>
<line x1="37.10" x2="37.10" y1="404.59" y2="422.26" stroke="rgb(232,134,14)" stroke-width="0.85"/><line x1="37.10" x2="37.10" y1="434.28" y2="449.12" stroke="rgb(232,134,14)" stroke-width="0.85"/><rect x="35.52" y="422.26" width="3.15" height="12.02" fill="rgb(238,168,81)" stroke="rgb(232,134,14)" stroke-width="0.85"/><line x1="35.52" x2="38.67" y1="428.27" y2="428.27" stroke="rgb(232,134,14)" stroke-width="1.4"/><circle cx="37.10" cy="389.39" r="1.72" fill="rgba(232,134,14,0.80)" stroke="rgba(232,134,14,0.80)" stroke-width="0.6"/><circle cx="37.10" cy="403.71" r="1.72" fill="rgba(232,134,14,0.80)" stroke="rgba(232,134,14,0.80)" stroke-width="0.6"/><circle cx="37.10" cy="401.59" r="1.72" fill="rgba(232,134,14,0.80)" stroke="rgba(232,134,14,0.80)" stroke-width="0.6"/><circle cx="37.10" cy="399.47" r="1.72" fill="rgba(232,134,14,0.80)" stroke="rgba(232,134,14,0.80)" stroke-width="0.6"/><circle cx="37.10" cy="397.35" r="1.72" fill="rgba(232,134,14,0.80)" stroke="rgba(232,134,14,0.80)" stroke-width="0.6"/>
<line x1="42.93" x2="42.93" y1="313.24" y2="348.22" stroke="rgb(232,134,14)" stroke-width="0.85"/><line x1="42.93" x2="42.93" y1="372.79" y2="408.12" stroke="rgb(232,134,14)" stroke-width="0.85"/><rect x="41.35" y="348.22" width="3.15" height="24.56" fill="rgb(238,168,81)" stroke="rgb(232,134,14)" stroke-width="0.85"/><line x1="41.35" x2="44.50" y1="360.95" y2="360.95" stroke="rgb(232,134,14)" stroke-width="1.4"/><circle cx="42.93" cy="309.00" r="1.72" fill="rgba(232,134,14,0.80)" stroke="rgba(232,134,14,0.80)" stroke-width="0.6"/><circle cx="42.93" cy="307.23" r="1.72" fill="rgba(232,134,14,0.80)" stroke="rgba(232,134,14,0.80)" stroke-width="0.6"/><circle cx="42.93" cy="412.37" r="1.72" fill="rgba(232,134,14,0.80)" stroke="rgba(232,134,14,0.80)" stroke-width="0.6"/><circle cx="42.93" cy="419.61" r="1.72" fill="rgba(232,134,14,0.80)" stroke="rgba(232,134,14,0.80)" stroke-width="0.6"/>
<line x1="48.76" x2="48.76" y1="388.69" y2="412.72" stroke="rgb(232,134,14)" stroke-width="0.85"/><line x1="48.76" x2="48.76" y1="429.15" y2="447.35" stroke="rgb(232,134,14)" stroke-width="0.85"/><rect x="47.18" y="412.72" width="3.15" height="16.43" fill="rgb(238,168,81)" stroke="rgb(232,134,14)" stroke-width="0.85"/><line x1="47.18" x2="50.33" y1="420.85" y2="420.85" stroke="rgb(232,134,14)" stroke-width="1.4"/><circle cx="48.76" cy="379.15" r="1.72" fill="rgba(232,134,14,0.80)" stroke="rgba(232,134,14,0.80)" stroke-width="0.6"/><circle cx="48.76" cy="377.29" r="1.72" fill="rgba(232,134,14,0.80)" stroke="rgba(232,134,14,0.80)" stroke-width="0.6"/><circle cx="48.76" cy="375.44" r="1.72" fill="rgba(232,134,14,0.80)" stroke="rgba(232,134,14,0.80)" stroke-width="0.6"/><circle cx="48.76" cy="388.16" r="1.72" fill="rgba(232,134,14,0.80)" stroke="rgba(232,134,14,0.80)" stroke-width="0.6"/><circle cx="48.76" cy="386.33" r="1.72" fill="rgba(232,134,14,0.80)" stroke="rgba(232,134,14,0.80)" stroke-width="0.6"/><circle cx="48.76" cy="384.51" r="1.72" fill="rgba(232,134,14,0.80)" stroke="rgba(232,134,14,0.80)" stroke-width="0.6"/><circle cx="48.76" cy="382.68" r="1.72" fill="rgba(232,134,14,0.80)" stroke="rgba(232,134,14,0.80)" stroke-width="0.6"/>
<line x1="54.59" x2="54.59" y1="321.72" y2="363.60" stroke="rgb(232,134,14)" stroke-width="0.85"/><line x1="54.59" x2="54.59" y1="392.40" y2="429.15" stroke="rgb(232,134,14)" stroke-width="0.85"/><rect x="53.01" y="363.60" width="3.15" height="28.80" fill="rgb(238,168,81)" stroke="rgb(232,134,14)" stroke-width="0.85"/><line x1="53.01" x2="56.16" y1="378.26" y2="378.26" stroke="rgb(232,134,14)" stroke-width="1.4"/><circle cx="54.59" cy="302.64" r="1.72" fill="rgba(232,134,14,0.80)" stroke="rgba(232,134,14,0.80)" stroke-width="0.6"/><circle cx="54.59" cy="319.24" r="1.72" fill="rgba(232,134,14,0.80)" stroke="rgba(232,134,14,0.80)" stroke-width="0.6"/><circle cx="54.59" cy="442.58" r="1.72" fill="rgba(232,134,14,0.80)" stroke="rgba(232,134,14,0.80)" stroke-width="0.6"/><circle cx="54.59" cy="439.93" r="1.72" fill="rgba(232,134,14,0.80)" stroke="rgba(232,134,14,0.80)" stroke-width="0.6"/>
<line x1="60.42" x2="60.42" y1="287.62" y2="344.34" stroke="rgb(232,134,14)" stroke-width="0.85"/><line x1="60.42" x2="60.42" y1="392.40" y2="451.77" stroke="rgb(232,134,14)" stroke-width="0.85"/><rect x="58.85" y="344.34" width="3.15" height="48.06" fill="rgb(238,168,81)" stroke="rgb(232,134,14)" stroke-width="0.85"/><line x1="58.85" x2="62.00" y1="368.19" y2="368.19" stroke="rgb(232,134,14)" stroke-width="1.4"/>
<line x1="66.25" x2="66.25" y1="297.33" y2="313.24" stroke="rgb(232,134,14)" stroke-width="0.85"/><line x1="66.25" x2="66.25" y1="324.37" y2="339.74" stroke="rgb(232,134,14)" stroke-width="0.85"/><rect x="64.68" y="313.24" width="3.15" height="11.13" fill="rgb(238,168,81)" stroke="rgb(232,134,14)" stroke-width="0.85"/><line x1="64.68" x2="67.83" y1="318.89" y2="318.89" stroke="rgb(232,134,14)" stroke-width="1.4"/><circle cx="66.25" cy="345.75" r="1.72" fill="rgba(232,134,14,0.80)" stroke="rgba(232,134,14,0.80)" stroke-width="0.6"/><circle cx="66.25" cy="343.19" r="1.72" fill="rgba(232,134,14,0.80)" stroke="rgba(232,134,14,0.80)" stroke-width="0.6"/><circle cx="66.25" cy="340.63" r="1.72" fill="rgba(232,134,14,0.80)" stroke="rgba(232,134,14,0.80)" stroke-width="0.6"/><circle cx="66.25" cy="351.23" r="1.72" fill="rgba(232,134,14,0.80)" stroke="rgba(232,134,14,0.80)" stroke-width="0.6"/>
<line x1="72.08" x2="72.08" y1="352.46" y2="365.01" stroke="rgb(232,134,14)" stroke-width="0.85"/><line x1="72.08" x2="72.08" y1="373.67" y2="385.51" stroke="rgb(232,134,14)" stroke-width="0.85"/><rect x="70.51" y="365.01" width="3.15" height="8.66" fill="rgb(238,168,81)" stroke="rgb(232,134,14)" stroke-width="0.85"/><line x1="70.51" x2="73.66" y1="367.31" y2="367.31" stroke="rgb(232,134,14)" stroke-width="1.4"/><circle cx="72.08" cy="351.58" r="1.72" fill="rgba(232,134,14,0.80)" stroke="rgba(232,134,14,0.80)" stroke-width="0.6"/><circle cx="72.08" cy="349.34" r="1.72" fill="rgba(232,134,14,0.80)" stroke="rgba(232,134,14,0.80)" stroke-width="0.6"/><circle cx="72.08" cy="347.10" r="1.72" fill="rgba(232,134,14,0.80)" stroke="rgba(232,134,14,0.80)" stroke-width="0.6"/><circle cx="72.08" cy="344.87" r="1.72" fill="rgba(232,134,14,0.80)" stroke="rgba(232,134,14,0.80)" stroke-width="0.6"/><circle cx="72.08" cy="390.63" r="1.72" fill="rgba(232,134,14,0.80)" stroke="rgba(232,134,14,0.80)" stroke-width="0.6"/><circle cx="72.08" cy="388.78" r="1.72" fill="rgba(232,134,14,0.80)" stroke="rgba(232,134,14,0.80)" stroke-width="0.6"/><circle cx="72.08" cy="386.92" r="1.72" fill="rgba(232,134,14,0.80)" stroke="rgba(232,134,14,0.80)" stroke-width="0.6"/>
<line x1="77.91" x2="77.91" y1="293.27" y2="331.08" stroke="rgb(232,134,14)" stroke-width="0.85"/><line x1="77.91" x2="77.91" y1="360.95" y2="403.71" stroke="rgb(232,134,14)" stroke-width="0.85"/><rect x="76.34" y="331.08" width="3.15" height="29.86" fill="rgb(238,168,81)" stroke="rgb(232,134,14)" stroke-width="0.85"/><line x1="76.34" x2="79.49" y1="345.57" y2="345.57" stroke="rgb(232,134,14)" stroke-width="1.4"/><circle cx="77.91" cy="414.66" r="1.72" fill="rgba(232,134,14,0.80)" stroke="rgba(232,134,14,0.80)" stroke-width="0.6"/><circle cx="77.91" cy="412.37" r="1.72" fill="rgba(232,134,14,0.80)" stroke="rgba(232,134,14,0.80)" stroke-width="0.6"/><circle cx="77.91" cy="410.07" r="1.72" fill="rgba(232,134,14,0.80)" stroke="rgba(232,134,14,0.80)" stroke-width="0.6"/>
<line x1="83.75" x2="83.75" y1="384.27" y2="402.82" stroke="rgb(232,134,14)" stroke-width="0.85"/><line x1="83.75" x2="83.75" y1="412.37" y2="425.44" stroke="rgb(232,134,14)" stroke-width="0.85"/><rect x="82.17" y="402.82" width="3.15" height="9.54" fill="rgb(245,229,194)" stroke="rgb(232,134,14)" stroke-width="0.85"/><line x1="82.17" x2="85.32" y1="407.77" y2="407.77" stroke="rgb(232,134,14)" stroke-width="1.4"/><circle cx="83.75" cy="383.56" r="1.72" fill="rgba(232,134,14,0.30)" stroke="rgba(232,134,14,0.30)" stroke-width="0.6"/><circle cx="83.75" cy="381.80" r="1.72" fill="rgba(232,134,14,0.30)" stroke="rgba(232,134,14,0.30)" stroke-width="0.6"/><circle cx="83.75" cy="428.27" r="1.72" fill="rgba(232,134,14,0.30)" stroke="rgba(232,134,14,0.30)" stroke-width="0.6"/>
<line x1="89.58" x2="89.58" y1="340.98" y2="366.42" stroke="rgb(232,134,14)" stroke-width="0.85"/><line x1="89.58" x2="89.58" y1="383.56" y2="409.19" stroke="rgb(232,134,14)" stroke-width="0.85"/><rect x="88.00" y="366.42" width="3.15" height="17.14" fill="rgb(245,229,194)" stroke="rgb(232,134,14)" stroke-width="0.85"/><line x1="88.00" x2="91.15" y1="375.44" y2="375.44" stroke="rgb(232,134,14)" stroke-width="1.4"/><circle cx="89.58" cy="339.39" r="1.72" fill="rgba(232,134,14,0.30)" stroke="rgba(232,134,14,0.30)" stroke-width="0.6"/><circle cx="89.58" cy="411.48" r="1.72" fill="rgba(232,134,14,0.30)" stroke="rgba(232,134,14,0.30)" stroke-width="0.6"/><circle cx="89.58" cy="416.96" r="1.72" fill="rgba(232,134,14,0.30)" stroke="rgba(232,134,14,0.30)" stroke-width="0.6"/>
<line x1="95.41" x2="95.41" y1="368.19" y2="384.62" stroke="rgb(232,134,14)" stroke-width="0.85"/><line x1="95.41" x2="95.41" y1="395.58" y2="410.60" stroke="rgb(232,134,14)" stroke-width="0.85"/><rect x="93.83" y="384.62" width="3.15" height="10.96" fill="rgb(245,229,194)" stroke="rgb(232,134,14)" stroke-width="0.85"/><line x1="93.83" x2="96.98" y1="390.10" y2="390.10" stroke="rgb(232,134,14)" stroke-width="1.4"/><circle cx="95.41" cy="366.95" r="1.72" fill="rgba(232,134,14,0.30)" stroke="rgba(232,134,14,0.30)" stroke-width="0.6"/><circle cx="95.41" cy="365.19" r="1.72" fill="rgba(232,134,14,0.30)" stroke="rgba(232,134,14,0.30)" stroke-width="0.6"/><circle cx="95.41" cy="363.42" r="1.72" fill="rgba(232,134,14,0.30)" stroke="rgba(232,134,14,0.30)" stroke-width="0.6"/><circle cx="95.41" cy="365.72" r="1.72" fill="rgba(232,134,14,0.80)" stroke="rgba(232,134,14,0.80)" stroke-width="0.6"/>
<line x1="101.24" x2="101.24" y1="353.35" y2="403.35" stroke="rgb(232,134,14)" stroke-width="0.85"/><line x1="101.24" x2="101.24" y1="436.04" y2="451.95" stroke="rgb(232,134,14)" stroke-width="0.85"/><rect x="99.66" y="403.35" width="3.15" height="32.69" fill="rgb(245,229,194)" stroke="rgb(232,134,14)" stroke-width="0.85"/><line x1="99.66" x2="102.81" y1="421.55" y2="421.55" stroke="rgb(232,134,14)" stroke-width="1.4"/><circle cx="101.24" cy="316.59" r="1.72" fill="rgba(232,134,14,0.30)" stroke="rgba(232,134,14,0.30)" stroke-width="0.6"/><circle cx="101.24" cy="331.97" r="1.72" fill="rgba(232,134,14,0.30)" stroke="rgba(232,134,14,0.30)" stroke-width="0.6"/><circle cx="101.24" cy="351.58" r="1.72" fill="rgba(232,134,14,0.30)" stroke="rgba(232,134,14,0.30)" stroke-width="0.6"/><circle cx="101.24" cy="349.58" r="1.72" fill="rgba(232,134,14,0.30)" stroke="rgba(232,134,14,0.30)" stroke-width="0.6"/><circle cx="101.24" cy="347.58" r="1.72" fill="rgba(232,134,14,0.30)" stroke="rgba(232,134,14,0.30)" stroke-width="0.6"/><circle cx="101.24" cy="345.57" r="1.72" fill="rgba(232,134,14,0.30)" stroke="rgba(232,134,14,0.30)" stroke-width="0.6"/><circle cx="101.24" cy="343.57" r="1.72" fill="rgba(232,134,14,0.30)" stroke="rgba(232,134,14,0.30)" stroke-width="0.6"/><circle cx="101.24" cy="341.57" r="1.72" fill="rgba(232,134,14,0.30)" stroke="rgba(232,134,14,0.30)" stroke-width="0.6"/><circle cx="101.24" cy="339.57" r="1.72" fill="rgba(232,134,14,0.30)" stroke="rgba(232,134,14,0.30)" stroke-width="0.6"/>
<line x1="107.07" x2="107.07" y1="396.46" y2="425.09" stroke="rgb(232,134,14)" stroke-width="0.85"/><line x1="107.07" x2="107.07" y1="445.06" y2="451.95" stroke="rgb(232,134,14)" stroke-width="0.85"/><rect x="105.50" y="425.09" width="3.15" height="19.97" fill="rgb(245,229,194)" stroke="rgb(232,134,14)" stroke-width="0.85"/><line x1="105.50" x2="108.65" y1="437.81" y2="437.81" stroke="rgb(232,134,14)" stroke-width="1.4"/><circle cx="107.07" cy="367.84" r="1.72" fill="rgba(232,134,14,0.30)" stroke="rgba(232,134,14,0.30)" stroke-width="0.6"/><circle cx="107.07" cy="396.46" r="1.72" fill="rgba(232,134,14,0.30)" stroke="rgba(232,134,14,0.30)" stroke-width="0.6"/><circle cx="107.07" cy="394.38" r="1.72" fill="rgba(232,134,14,0.30)" stroke="rgba(232,134,14,0.30)" stroke-width="0.6"/><circle cx="107.07" cy="392.30" r="1.72" fill="rgba(232,134,14,0.30)" stroke="rgba(232,134,14,0.30)" stroke-width="0.6"/><circle cx="107.07" cy="390.22" r="1.72" fill="rgba(232,134,14,0.30)" stroke="rgba(232,134,14,0.30)" stroke-width="0.6"/><circle cx="107.07" cy="388.13" r="1.72" fill="rgba(232,134,14,0.30)" stroke="rgba(232,134,14,0.30)" stroke-width="0.6"/><circle cx="107.07" cy="386.05" r="1.72" fill="rgba(232,134,14,0.30)" stroke="rgba(232,134,14,0.30)" stroke-width="0.6"/><circle cx="107.07" cy="383.97" r="1.72" fill="rgba(232,134,14,0.30)" stroke="rgba(232,134,14,0.30)" stroke-width="0.6"/><circle cx="107.07" cy="381.89" r="1.72" fill="rgba(232,134,14,0.30)" stroke="rgba(232,134,14,0.30)" stroke-width="0.6"/><circle cx="107.07" cy="379.80" r="1.72" fill="rgba(232,134,14,0.30)" stroke="rgba(232,134,14,0.30)" stroke-width="0.6"/><circle cx="107.07" cy="377.72" r="1.72" fill="rgba(232,134,14,0.30)" stroke="rgba(232,134,14,0.30)" stroke-width="0.6"/><circle cx="107.07" cy="375.64" r="1.72" fill="rgba(232,134,14,0.30)" stroke="rgba(232,134,14,0.30)" stroke-width="0.6"/><circle cx="107.07" cy="373.55" r="1.72" fill="rgba(232,134,14,0.30)" stroke="rgba(232,134,14,0.30)" stroke-width="0.6"/><circle cx="107.07" cy="371.47" r="1.72" fill="rgba(232,134,14,0.30)" stroke="rgba(232,134,14,0.30)" stroke-width="0.6"/><circle cx="107.07" cy="369.39" r="1.72" fill="rgba(232,134,14,0.30)" stroke="rgba(232,134,14,0.30)" stroke-width="0.6"/><circle cx="107.07" cy="367.31" r="1.72" fill="rgba(232,134,14,0.30)" stroke="rgba(232,134,14,0.30)" stroke-width="0.6"/><circle cx="107.07" cy="381.62" r="1.72" fill="rgba(232,134,14,0.80)" stroke="rgba(232,134,14,0.80)" stroke-width="0.6"/><circle cx="107.07" cy="388.69" r="1.72" fill="rgba(232,134,14,0.80)" stroke="rgba(232,134,14,0.80)" stroke-width="0.6"/><circle cx="107.07" cy="386.92" r="1.72" fill="rgba(232,134,14,0.80)" stroke="rgba(232,134,14,0.80)" stroke-width="0.6"/><circle cx="107.07" cy="385.15" r="1.72" fill="rgba(232,134,14,0.80)" stroke="rgba(232,134,14,0.80)" stroke-width="0.6"/><circle cx="107.07" cy="392.22" r="1.72" fill="rgba(232,134,14,0.80)" stroke="rgba(232,134,14,0.80)" stroke-width="0.6"/>
<line x1="112.90" x2="112.90" y1="339.21" y2="349.81" stroke="rgb(232,134,14)" stroke-width="0.85"/><line x1="112.90" x2="112.90" y1="357.06" y2="363.95" stroke="rgb(232,134,14)" stroke-width="0.85"/><rect x="111.33" y="349.81" width="3.15" height="7.24" fill="rgb(245,229,194)" stroke="rgb(232,134,14)" stroke-width="0.85"/><line x1="111.33" x2="114.48" y1="353.35" y2="353.35" stroke="rgb(232,134,14)" stroke-width="1.4"/><circle cx="112.90" cy="337.09" r="1.72" fill="rgba(232,134,14,0.80)" stroke="rgba(232,134,14,0.80)" stroke-width="0.6"/><circle cx="112.90" cy="374.55" r="1.72" fill="rgba(232,134,14,0.30)" stroke="rgba(232,134,14,0.30)" stroke-width="0.6"/><circle cx="112.90" cy="372.14" r="1.72" fill="rgba(232,134,14,0.30)" stroke="rgba(232,134,14,0.30)" stroke-width="0.6"/><circle cx="112.90" cy="369.72" r="1.72" fill="rgba(232,134,14,0.30)" stroke="rgba(232,134,14,0.30)" stroke-width="0.6"/><circle cx="112.90" cy="367.31" r="1.72" fill="rgba(232,134,14,0.30)" stroke="rgba(232,134,14,0.30)" stroke-width="0.6"/>
<line x1="118.73" x2="118.73" y1="356.88" y2="366.42" stroke="rgb(232,134,14)" stroke-width="0.85"/><line x1="118.73" x2="118.73" y1="373.67" y2="384.62" stroke="rgb(232,134,14)" stroke-width="0.85"/><rect x="117.16" y="366.42" width="3.15" height="7.24" fill="rgb(245,229,194)" stroke="rgb(232,134,14)" stroke-width="0.85"/><line x1="117.16" x2="120.31" y1="369.96" y2="369.96" stroke="rgb(232,134,14)" stroke-width="1.4"/><circle cx="118.73" cy="354.94" r="1.72" fill="rgba(232,134,14,0.30)" stroke="rgba(232,134,14,0.30)" stroke-width="0.6"/><circle cx="118.73" cy="352.38" r="1.72" fill="rgba(232,134,14,0.30)" stroke="rgba(232,134,14,0.30)" stroke-width="0.6"/><circle cx="118.73" cy="349.81" r="1.72" fill="rgba(232,134,14,0.30)" stroke="rgba(232,134,14,0.30)" stroke-width="0.6"/><circle cx="118.73" cy="352.46" r="1.72" fill="rgba(232,134,14,0.80)" stroke="rgba(232,134,14,0.80)" stroke-width="0.6"/><circle cx="118.73" cy="367.84" r="1.72" fill="rgba(232,134,14,0.30)" stroke="rgba(232,134,14,0.30)" stroke-width="0.6"/>
<line x1="124.56" x2="124.56" y1="310.41" y2="353.35" stroke="rgb(232,134,14)" stroke-width="0.85"/><line x1="124.56" x2="124.56" y1="385.51" y2="432.69" stroke="rgb(232,134,14)" stroke-width="0.85"/><rect x="122.99" y="353.35" width="3.15" height="32.16" fill="rgb(245,229,194)" stroke="rgb(232,134,14)" stroke-width="0.85"/><line x1="122.99" x2="126.14" y1="369.07" y2="369.07" stroke="rgb(232,134,14)" stroke-width="1.4"/><circle cx="124.56" cy="301.22" r="1.72" fill="rgba(232,134,14,0.30)" stroke="rgba(232,134,14,0.30)" stroke-width="0.6"/><circle cx="124.56" cy="298.75" r="1.72" fill="rgba(232,134,14,0.30)" stroke="rgba(232,134,14,0.30)" stroke-width="0.6"/><circle cx="124.56" cy="436.40" r="1.72" fill="rgba(232,134,14,0.80)" stroke="rgba(232,134,14,0.80)" stroke-width="0.6"/>
<line x1="34.34" x2="75.66" y1="370.84" y2="370.84" stroke="#000" stroke-width="1.45"/>
<line x1="80.83" x2="127.31" y1="387.27" y2="387.27" stroke="#000" stroke-width="1.45" stroke-dasharray="3.2 2.55"/>
<line x1="141.37" x2="141.37" y1="367.48" y2="401.41" stroke="rgb(66,142,245)" stroke-width="0.85"/><line x1="141.37" x2="141.37" y1="423.67" y2="448.77" stroke="rgb(66,142,245)" stroke-width="0.85"/><rect x="139.27" y="401.41" width="4.20" height="22.26" fill="rgb(121,176,248)" stroke="rgb(66,142,245)" stroke-width="0.85"/><line x1="139.27" x2="143.47" y1="413.60" y2="413.60" stroke="rgb(66,142,245)" stroke-width="1.4"/><circle cx="141.37" cy="336.56" r="1.72" fill="rgba(66,142,245,0.80)" stroke="rgba(66,142,245,0.80)" stroke-width="0.6"/><circle cx="141.37" cy="349.11" r="1.72" fill="rgba(66,142,245,0.80)" stroke="rgba(66,142,245,0.80)" stroke-width="0.6"/><circle cx="141.37" cy="347.34" r="1.72" fill="rgba(66,142,245,0.80)" stroke="rgba(66,142,245,0.80)" stroke-width="0.6"/><circle cx="141.37" cy="345.57" r="1.72" fill="rgba(66,142,245,0.80)" stroke="rgba(66,142,245,0.80)" stroke-width="0.6"/><circle cx="141.37" cy="356.71" r="1.72" fill="rgba(66,142,245,0.80)" stroke="rgba(66,142,245,0.80)" stroke-width="0.6"/><circle cx="141.37" cy="368.72" r="1.72" fill="rgba(66,142,245,0.80)" stroke="rgba(66,142,245,0.80)" stroke-width="0.6"/><circle cx="141.37" cy="366.56" r="1.72" fill="rgba(66,142,245,0.80)" stroke="rgba(66,142,245,0.80)" stroke-width="0.6"/><circle cx="141.37" cy="364.39" r="1.72" fill="rgba(66,142,245,0.80)" stroke="rgba(66,142,245,0.80)" stroke-width="0.6"/><circle cx="141.37" cy="362.23" r="1.72" fill="rgba(66,142,245,0.80)" stroke="rgba(66,142,245,0.80)" stroke-width="0.6"/><circle cx="141.37" cy="360.06" r="1.72" fill="rgba(66,142,245,0.80)" stroke="rgba(66,142,245,0.80)" stroke-width="0.6"/>
<line x1="149.14" x2="149.14" y1="311.29" y2="338.33" stroke="rgb(66,142,245)" stroke-width="0.85"/><line x1="149.14" x2="149.14" y1="358.83" y2="387.27" stroke="rgb(66,142,245)" stroke-width="0.85"/><rect x="147.04" y="338.33" width="4.20" height="20.50" fill="rgb(121,176,248)" stroke="rgb(66,142,245)" stroke-width="0.85"/><line x1="147.04" x2="151.24" y1="348.58" y2="348.58" stroke="rgb(66,142,245)" stroke-width="1.4"/><circle cx="149.14" cy="400.00" r="1.72" fill="rgba(66,142,245,0.80)" stroke="rgba(66,142,245,0.80)" stroke-width="0.6"/><circle cx="149.14" cy="398.02" r="1.72" fill="rgba(66,142,245,0.80)" stroke="rgba(66,142,245,0.80)" stroke-width="0.6"/><circle cx="149.14" cy="396.05" r="1.72" fill="rgba(66,142,245,0.80)" stroke="rgba(66,142,245,0.80)" stroke-width="0.6"/><circle cx="149.14" cy="394.08" r="1.72" fill="rgba(66,142,245,0.80)" stroke="rgba(66,142,245,0.80)" stroke-width="0.6"/><circle cx="149.14" cy="392.10" r="1.72" fill="rgba(66,142,245,0.80)" stroke="rgba(66,142,245,0.80)" stroke-width="0.6"/><circle cx="149.14" cy="390.13" r="1.72" fill="rgba(66,142,245,0.80)" stroke="rgba(66,142,245,0.80)" stroke-width="0.6"/><circle cx="149.14" cy="388.16" r="1.72" fill="rgba(66,142,245,0.80)" stroke="rgba(66,142,245,0.80)" stroke-width="0.6"/>
<line x1="156.92" x2="156.92" y1="341.86" y2="369.96" stroke="rgb(66,142,245)" stroke-width="0.85"/><line x1="156.92" x2="156.92" y1="390.10" y2="416.78" stroke="rgb(66,142,245)" stroke-width="0.85"/><rect x="154.82" y="369.96" width="4.20" height="20.14" fill="rgb(121,176,248)" stroke="rgb(66,142,245)" stroke-width="0.85"/><line x1="154.82" x2="159.02" y1="379.15" y2="379.15" stroke="rgb(66,142,245)" stroke-width="1.4"/><circle cx="156.92" cy="339.74" r="1.72" fill="rgba(66,142,245,0.80)" stroke="rgba(66,142,245,0.80)" stroke-width="0.6"/><circle cx="156.92" cy="337.98" r="1.72" fill="rgba(66,142,245,0.80)" stroke="rgba(66,142,245,0.80)" stroke-width="0.6"/>
<line x1="164.69" x2="164.69" y1="294.51" y2="355.29" stroke="rgb(66,142,245)" stroke-width="0.85"/><line x1="164.69" x2="164.69" y1="399.11" y2="450.89" stroke="rgb(66,142,245)" stroke-width="0.85"/><rect x="162.59" y="355.29" width="4.20" height="43.82" fill="rgb(121,176,248)" stroke="rgb(66,142,245)" stroke-width="0.85"/><line x1="162.59" x2="166.79" y1="377.38" y2="377.38" stroke="rgb(66,142,245)" stroke-width="1.4"/>
<line x1="172.47" x2="172.47" y1="363.95" y2="409.19" stroke="rgb(66,142,245)" stroke-width="0.85"/><line x1="172.47" x2="172.47" y1="439.05" y2="451.77" stroke="rgb(66,142,245)" stroke-width="0.85"/><rect x="170.37" y="409.19" width="4.20" height="29.86" fill="rgb(121,176,248)" stroke="rgb(66,142,245)" stroke-width="0.85"/><line x1="170.37" x2="174.57" y1="425.80" y2="425.80" stroke="rgb(66,142,245)" stroke-width="1.4"/><circle cx="172.47" cy="323.49" r="1.72" fill="rgba(66,142,245,0.80)" stroke="rgba(66,142,245,0.80)" stroke-width="0.6"/><circle cx="172.47" cy="363.60" r="1.72" fill="rgba(66,142,245,0.80)" stroke="rgba(66,142,245,0.80)" stroke-width="0.6"/><circle cx="172.47" cy="361.26" r="1.72" fill="rgba(66,142,245,0.80)" stroke="rgba(66,142,245,0.80)" stroke-width="0.6"/><circle cx="172.47" cy="358.91" r="1.72" fill="rgba(66,142,245,0.80)" stroke="rgba(66,142,245,0.80)" stroke-width="0.6"/><circle cx="172.47" cy="356.57" r="1.72" fill="rgba(66,142,245,0.80)" stroke="rgba(66,142,245,0.80)" stroke-width="0.6"/><circle cx="172.47" cy="354.23" r="1.72" fill="rgba(66,142,245,0.80)" stroke="rgba(66,142,245,0.80)" stroke-width="0.6"/>
<line x1="180.24" x2="180.24" y1="326.84" y2="351.93" stroke="rgb(66,142,245)" stroke-width="0.85"/><line x1="180.24" x2="180.24" y1="368.72" y2="392.75" stroke="rgb(66,142,245)" stroke-width="0.85"/><rect x="178.14" y="351.93" width="4.20" height="16.79" fill="rgb(121,176,248)" stroke="rgb(66,142,245)" stroke-width="0.85"/><line x1="178.14" x2="182.34" y1="360.42" y2="360.42" stroke="rgb(66,142,245)" stroke-width="1.4"/><circle cx="180.24" cy="326.84" r="1.72" fill="rgba(66,142,245,0.80)" stroke="rgba(66,142,245,0.80)" stroke-width="0.6"/><circle cx="180.24" cy="324.94" r="1.72" fill="rgba(66,142,245,0.80)" stroke="rgba(66,142,245,0.80)" stroke-width="0.6"/><circle cx="180.24" cy="323.04" r="1.72" fill="rgba(66,142,245,0.80)" stroke="rgba(66,142,245,0.80)" stroke-width="0.6"/><circle cx="180.24" cy="321.14" r="1.72" fill="rgba(66,142,245,0.80)" stroke="rgba(66,142,245,0.80)" stroke-width="0.6"/><circle cx="180.24" cy="319.24" r="1.72" fill="rgba(66,142,245,0.80)" stroke="rgba(66,142,245,0.80)" stroke-width="0.6"/><circle cx="180.24" cy="395.40" r="1.72" fill="rgba(66,142,245,0.80)" stroke="rgba(66,142,245,0.80)" stroke-width="0.6"/>
<line x1="188.02" x2="188.02" y1="371.90" y2="397.35" stroke="rgb(66,142,245)" stroke-width="0.85"/><line x1="188.02" x2="188.02" y1="411.84" y2="437.28" stroke="rgb(66,142,245)" stroke-width="0.85"/><rect x="185.92" y="397.35" width="4.20" height="14.49" fill="rgb(208,228,251)" stroke="rgb(66,142,245)" stroke-width="0.85"/><line x1="185.92" x2="190.12" y1="405.12" y2="405.12" stroke="rgb(66,142,245)" stroke-width="1.4"/><circle cx="188.02" cy="362.71" r="1.72" fill="rgba(66,142,245,0.80)" stroke="rgba(66,142,245,0.80)" stroke-width="0.6"/><circle cx="188.02" cy="365.72" r="1.72" fill="rgba(66,142,245,0.30)" stroke="rgba(66,142,245,0.30)" stroke-width="0.6"/><circle cx="188.02" cy="367.84" r="1.72" fill="rgba(66,142,245,0.30)" stroke="rgba(66,142,245,0.30)" stroke-width="0.6"/><circle cx="188.02" cy="370.66" r="1.72" fill="rgba(66,142,245,0.80)" stroke="rgba(66,142,245,0.80)" stroke-width="0.6"/><circle cx="188.02" cy="447.18" r="1.72" fill="rgba(66,142,245,0.30)" stroke="rgba(66,142,245,0.30)" stroke-width="0.6"/>
<line x1="195.79" x2="195.79" y1="369.25" y2="388.69" stroke="rgb(66,142,245)" stroke-width="0.85"/><line x1="195.79" x2="195.79" y1="401.41" y2="419.96" stroke="rgb(66,142,245)" stroke-width="0.85"/><rect x="193.69" y="388.69" width="4.20" height="12.72" fill="rgb(208,228,251)" stroke="rgb(66,142,245)" stroke-width="0.85"/><line x1="193.69" x2="197.89" y1="394.52" y2="394.52" stroke="rgb(66,142,245)" stroke-width="1.4"/><circle cx="195.79" cy="363.24" r="1.72" fill="rgba(66,142,245,0.30)" stroke="rgba(66,142,245,0.30)" stroke-width="0.6"/><circle cx="195.79" cy="368.37" r="1.72" fill="rgba(66,142,245,0.30)" stroke="rgba(66,142,245,0.30)" stroke-width="0.6"/><circle cx="195.79" cy="420.85" r="1.72" fill="rgba(66,142,245,0.80)" stroke="rgba(66,142,245,0.80)" stroke-width="0.6"/><circle cx="195.79" cy="426.33" r="1.72" fill="rgba(66,142,245,0.30)" stroke="rgba(66,142,245,0.30)" stroke-width="0.6"/>
<line x1="203.57" x2="203.57" y1="367.48" y2="391.34" stroke="rgb(66,142,245)" stroke-width="0.85"/><line x1="203.57" x2="203.57" y1="405.47" y2="427.21" stroke="rgb(66,142,245)" stroke-width="0.85"/><rect x="201.47" y="391.34" width="4.20" height="14.14" fill="rgb(208,228,251)" stroke="rgb(66,142,245)" stroke-width="0.85"/><line x1="201.47" x2="205.67" y1="398.58" y2="398.58" stroke="rgb(66,142,245)" stroke-width="1.4"/><circle cx="203.57" cy="365.72" r="1.72" fill="rgba(66,142,245,0.80)" stroke="rgba(66,142,245,0.80)" stroke-width="0.6"/><circle cx="203.57" cy="436.04" r="1.72" fill="rgba(66,142,245,0.30)" stroke="rgba(66,142,245,0.30)" stroke-width="0.6"/><circle cx="203.57" cy="434.36" r="1.72" fill="rgba(66,142,245,0.30)" stroke="rgba(66,142,245,0.30)" stroke-width="0.6"/><circle cx="203.57" cy="432.69" r="1.72" fill="rgba(66,142,245,0.30)" stroke="rgba(66,142,245,0.30)" stroke-width="0.6"/>
<line x1="211.34" x2="211.34" y1="412.72" y2="433.57" stroke="rgb(66,142,245)" stroke-width="0.85"/><line x1="211.34" x2="211.34" y1="447.18" y2="451.77" stroke="rgb(66,142,245)" stroke-width="0.85"/><rect x="209.24" y="433.57" width="4.20" height="13.61" fill="rgb(208,228,251)" stroke="rgb(66,142,245)" stroke-width="0.85"/><line x1="209.24" x2="213.44" y1="442.23" y2="442.23" stroke="rgb(66,142,245)" stroke-width="1.4"/><circle cx="211.34" cy="412.72" r="1.72" fill="rgba(66,142,245,0.30)" stroke="rgba(66,142,245,0.30)" stroke-width="0.6"/><circle cx="211.34" cy="410.65" r="1.72" fill="rgba(66,142,245,0.30)" stroke="rgba(66,142,245,0.30)" stroke-width="0.6"/><circle cx="211.34" cy="408.57" r="1.72" fill="rgba(66,142,245,0.30)" stroke="rgba(66,142,245,0.30)" stroke-width="0.6"/><circle cx="211.34" cy="406.50" r="1.72" fill="rgba(66,142,245,0.30)" stroke="rgba(66,142,245,0.30)" stroke-width="0.6"/><circle cx="211.34" cy="404.43" r="1.72" fill="rgba(66,142,245,0.30)" stroke="rgba(66,142,245,0.30)" stroke-width="0.6"/><circle cx="211.34" cy="402.35" r="1.72" fill="rgba(66,142,245,0.30)" stroke="rgba(66,142,245,0.30)" stroke-width="0.6"/><circle cx="211.34" cy="400.28" r="1.72" fill="rgba(66,142,245,0.30)" stroke="rgba(66,142,245,0.30)" stroke-width="0.6"/><circle cx="211.34" cy="398.21" r="1.72" fill="rgba(66,142,245,0.30)" stroke="rgba(66,142,245,0.30)" stroke-width="0.6"/><circle cx="211.34" cy="396.13" r="1.72" fill="rgba(66,142,245,0.30)" stroke="rgba(66,142,245,0.30)" stroke-width="0.6"/><circle cx="211.34" cy="394.06" r="1.72" fill="rgba(66,142,245,0.30)" stroke="rgba(66,142,245,0.30)" stroke-width="0.6"/><circle cx="211.34" cy="391.99" r="1.72" fill="rgba(66,142,245,0.30)" stroke="rgba(66,142,245,0.30)" stroke-width="0.6"/><circle cx="211.34" cy="389.91" r="1.72" fill="rgba(66,142,245,0.30)" stroke="rgba(66,142,245,0.30)" stroke-width="0.6"/><circle cx="211.34" cy="387.84" r="1.72" fill="rgba(66,142,245,0.30)" stroke="rgba(66,142,245,0.30)" stroke-width="0.6"/><circle cx="211.34" cy="385.77" r="1.72" fill="rgba(66,142,245,0.30)" stroke="rgba(66,142,245,0.30)" stroke-width="0.6"/><circle cx="211.34" cy="383.69" r="1.72" fill="rgba(66,142,245,0.30)" stroke="rgba(66,142,245,0.30)" stroke-width="0.6"/><circle cx="211.34" cy="381.62" r="1.72" fill="rgba(66,142,245,0.30)" stroke="rgba(66,142,245,0.30)" stroke-width="0.6"/><circle cx="211.34" cy="410.78" r="1.72" fill="rgba(66,142,245,0.80)" stroke="rgba(66,142,245,0.80)" stroke-width="0.6"/><circle cx="211.34" cy="408.57" r="1.72" fill="rgba(66,142,245,0.80)" stroke="rgba(66,142,245,0.80)" stroke-width="0.6"/><circle cx="211.34" cy="406.36" r="1.72" fill="rgba(66,142,245,0.80)" stroke="rgba(66,142,245,0.80)" stroke-width="0.6"/>
<line x1="219.12" x2="219.12" y1="409.19" y2="432.33" stroke="rgb(66,142,245)" stroke-width="0.85"/><line x1="219.12" x2="219.12" y1="448.24" y2="451.77" stroke="rgb(66,142,245)" stroke-width="0.85"/><rect x="217.02" y="432.33" width="4.20" height="15.90" fill="rgb(208,228,251)" stroke="rgb(66,142,245)" stroke-width="0.85"/><line x1="217.02" x2="221.22" y1="441.70" y2="441.70" stroke="rgb(66,142,245)" stroke-width="1.4"/><circle cx="219.12" cy="409.19" r="1.72" fill="rgba(66,142,245,0.30)" stroke="rgba(66,142,245,0.30)" stroke-width="0.6"/><circle cx="219.12" cy="407.01" r="1.72" fill="rgba(66,142,245,0.30)" stroke="rgba(66,142,245,0.30)" stroke-width="0.6"/><circle cx="219.12" cy="404.84" r="1.72" fill="rgba(66,142,245,0.30)" stroke="rgba(66,142,245,0.30)" stroke-width="0.6"/><circle cx="219.12" cy="402.66" r="1.72" fill="rgba(66,142,245,0.30)" stroke="rgba(66,142,245,0.30)" stroke-width="0.6"/><circle cx="219.12" cy="400.49" r="1.72" fill="rgba(66,142,245,0.30)" stroke="rgba(66,142,245,0.30)" stroke-width="0.6"/><circle cx="219.12" cy="398.31" r="1.72" fill="rgba(66,142,245,0.30)" stroke="rgba(66,142,245,0.30)" stroke-width="0.6"/><circle cx="219.12" cy="396.14" r="1.72" fill="rgba(66,142,245,0.30)" stroke="rgba(66,142,245,0.30)" stroke-width="0.6"/><circle cx="219.12" cy="393.96" r="1.72" fill="rgba(66,142,245,0.30)" stroke="rgba(66,142,245,0.30)" stroke-width="0.6"/><circle cx="219.12" cy="391.79" r="1.72" fill="rgba(66,142,245,0.30)" stroke="rgba(66,142,245,0.30)" stroke-width="0.6"/><circle cx="219.12" cy="389.61" r="1.72" fill="rgba(66,142,245,0.30)" stroke="rgba(66,142,245,0.30)" stroke-width="0.6"/><circle cx="219.12" cy="387.44" r="1.72" fill="rgba(66,142,245,0.30)" stroke="rgba(66,142,245,0.30)" stroke-width="0.6"/><circle cx="219.12" cy="385.26" r="1.72" fill="rgba(66,142,245,0.30)" stroke="rgba(66,142,245,0.30)" stroke-width="0.6"/><circle cx="219.12" cy="383.09" r="1.72" fill="rgba(66,142,245,0.30)" stroke="rgba(66,142,245,0.30)" stroke-width="0.6"/><circle cx="219.12" cy="380.91" r="1.72" fill="rgba(66,142,245,0.30)" stroke="rgba(66,142,245,0.30)" stroke-width="0.6"/><circle cx="219.12" cy="399.29" r="1.72" fill="rgba(66,142,245,0.80)" stroke="rgba(66,142,245,0.80)" stroke-width="0.6"/><circle cx="219.12" cy="408.12" r="1.72" fill="rgba(66,142,245,0.80)" stroke="rgba(66,142,245,0.80)" stroke-width="0.6"/><circle cx="219.12" cy="405.47" r="1.72" fill="rgba(66,142,245,0.80)" stroke="rgba(66,142,245,0.80)" stroke-width="0.6"/>
<line x1="226.89" x2="226.89" y1="388.16" y2="399.11" stroke="rgb(66,142,245)" stroke-width="0.85"/><line x1="226.89" x2="226.89" y1="406.36" y2="417.31" stroke="rgb(66,142,245)" stroke-width="0.85"/><rect x="224.79" y="399.11" width="4.20" height="7.24" fill="rgb(208,228,251)" stroke="rgb(66,142,245)" stroke-width="0.85"/><line x1="224.79" x2="228.99" y1="402.82" y2="402.82" stroke="rgb(66,142,245)" stroke-width="1.4"/><circle cx="226.89" cy="386.39" r="1.72" fill="rgba(66,142,245,0.30)" stroke="rgba(66,142,245,0.30)" stroke-width="0.6"/><circle cx="226.89" cy="421.91" r="1.72" fill="rgba(66,142,245,0.30)" stroke="rgba(66,142,245,0.30)" stroke-width="0.6"/><circle cx="226.89" cy="420.05" r="1.72" fill="rgba(66,142,245,0.30)" stroke="rgba(66,142,245,0.30)" stroke-width="0.6"/><circle cx="226.89" cy="418.20" r="1.72" fill="rgba(66,142,245,0.30)" stroke="rgba(66,142,245,0.30)" stroke-width="0.6"/>
<line x1="137.64" x2="178.97" y1="383.39" y2="383.39" stroke="#000" stroke-width="1.45"/>
<line x1="184.13" x2="230.62" y1="413.07" y2="413.07" stroke="#000" stroke-width="1.45" stroke-dasharray="3.2 2.55"/>
<line x1="243.11" x2="243.11" y1="391.87" y2="416.08" stroke="rgb(160,160,160)" stroke-width="0.85"/><line x1="243.11" x2="243.11" y1="431.10" y2="449.47" stroke="rgb(160,160,160)" stroke-width="0.85"/><rect x="241.85" y="416.08" width="2.52" height="15.02" fill="rgb(200,200,200)" stroke="rgb(160,160,160)" stroke-width="0.85"/><line x1="241.85" x2="244.37" y1="423.85" y2="423.85" stroke="rgb(160,160,160)" stroke-width="1.4"/><circle cx="243.11" cy="391.87" r="1.72" fill="rgba(140,140,140,0.80)" stroke="rgba(140,140,140,0.80)" stroke-width="0.6"/><circle cx="243.11" cy="389.97" r="1.72" fill="rgba(140,140,140,0.80)" stroke="rgba(140,140,140,0.80)" stroke-width="0.6"/><circle cx="243.11" cy="388.07" r="1.72" fill="rgba(140,140,140,0.80)" stroke="rgba(140,140,140,0.80)" stroke-width="0.6"/><circle cx="243.11" cy="386.17" r="1.72" fill="rgba(140,140,140,0.80)" stroke="rgba(140,140,140,0.80)" stroke-width="0.6"/><circle cx="243.11" cy="384.27" r="1.72" fill="rgba(140,140,140,0.80)" stroke="rgba(140,140,140,0.80)" stroke-width="0.6"/><circle cx="243.11" cy="384.45" r="1.72" fill="rgba(140,140,140,0.80)" stroke="rgba(140,140,140,0.80)" stroke-width="0.6"/>
<line x1="247.78" x2="247.78" y1="354.41" y2="394.17" stroke="rgb(160,160,160)" stroke-width="0.85"/><line x1="247.78" x2="247.78" y1="422.26" y2="450.89" stroke="rgb(160,160,160)" stroke-width="0.85"/><rect x="246.52" y="394.17" width="2.52" height="28.10" fill="rgb(200,200,200)" stroke="rgb(160,160,160)" stroke-width="0.85"/><line x1="246.52" x2="249.04" y1="408.48" y2="408.48" stroke="rgb(160,160,160)" stroke-width="1.4"/><circle cx="247.78" cy="341.51" r="1.72" fill="rgba(140,140,140,0.80)" stroke="rgba(140,140,140,0.80)" stroke-width="0.6"/><circle cx="247.78" cy="346.28" r="1.72" fill="rgba(140,140,140,0.80)" stroke="rgba(140,140,140,0.80)" stroke-width="0.6"/>
<line x1="252.44" x2="252.44" y1="411.13" y2="422.79" stroke="rgb(160,160,160)" stroke-width="0.85"/><line x1="252.44" x2="252.44" y1="428.98" y2="437.99" stroke="rgb(160,160,160)" stroke-width="0.85"/><rect x="251.18" y="422.79" width="2.52" height="6.18" fill="rgb(200,200,200)" stroke="rgb(160,160,160)" stroke-width="0.85"/><line x1="251.18" x2="253.70" y1="425.62" y2="425.62" stroke="rgb(160,160,160)" stroke-width="1.4"/><circle cx="252.44" cy="411.13" r="1.72" fill="rgba(140,140,140,0.80)" stroke="rgba(140,140,140,0.80)" stroke-width="0.6"/><circle cx="252.44" cy="409.19" r="1.72" fill="rgba(140,140,140,0.80)" stroke="rgba(140,140,140,0.80)" stroke-width="0.6"/><circle cx="252.44" cy="407.24" r="1.72" fill="rgba(140,140,140,0.80)" stroke="rgba(140,140,140,0.80)" stroke-width="0.6"/><circle cx="252.44" cy="440.64" r="1.72" fill="rgba(140,140,140,0.80)" stroke="rgba(140,140,140,0.80)" stroke-width="0.6"/>
<line x1="257.11" x2="257.11" y1="378.44" y2="402.29" stroke="rgb(160,160,160)" stroke-width="0.85"/><line x1="257.11" x2="257.11" y1="417.14" y2="437.99" stroke="rgb(160,160,160)" stroke-width="0.85"/><rect x="255.85" y="402.29" width="2.52" height="14.84" fill="rgb(200,200,200)" stroke="rgb(160,160,160)" stroke-width="0.85"/><line x1="255.85" x2="258.37" y1="409.54" y2="409.54" stroke="rgb(160,160,160)" stroke-width="1.4"/><circle cx="257.11" cy="365.89" r="1.72" fill="rgba(140,140,140,0.80)" stroke="rgba(140,140,140,0.80)" stroke-width="0.6"/><circle cx="257.11" cy="378.44" r="1.72" fill="rgba(140,140,140,0.80)" stroke="rgba(140,140,140,0.80)" stroke-width="0.6"/><circle cx="257.11" cy="376.41" r="1.72" fill="rgba(140,140,140,0.80)" stroke="rgba(140,140,140,0.80)" stroke-width="0.6"/><circle cx="257.11" cy="374.38" r="1.72" fill="rgba(140,140,140,0.80)" stroke="rgba(140,140,140,0.80)" stroke-width="0.6"/>
<line x1="261.77" x2="261.77" y1="433.39" y2="442.23" stroke="rgb(160,160,160)" stroke-width="0.85"/><line x1="261.77" x2="261.77" y1="449.47" y2="451.77" stroke="rgb(160,160,160)" stroke-width="0.85"/><rect x="260.51" y="442.23" width="2.52" height="7.24" fill="rgb(200,200,200)" stroke="rgb(160,160,160)" stroke-width="0.85"/><line x1="260.51" x2="263.03" y1="445.94" y2="445.94" stroke="rgb(160,160,160)" stroke-width="1.4"/><circle cx="261.77" cy="433.39" r="1.72" fill="rgba(140,140,140,0.80)" stroke="rgba(140,140,140,0.80)" stroke-width="0.6"/><circle cx="261.77" cy="431.33" r="1.72" fill="rgba(140,140,140,0.80)" stroke="rgba(140,140,140,0.80)" stroke-width="0.6"/><circle cx="261.77" cy="429.27" r="1.72" fill="rgba(140,140,140,0.80)" stroke="rgba(140,140,140,0.80)" stroke-width="0.6"/><circle cx="261.77" cy="427.21" r="1.72" fill="rgba(140,140,140,0.80)" stroke="rgba(140,140,140,0.80)" stroke-width="0.6"/><circle cx="261.77" cy="425.15" r="1.72" fill="rgba(140,140,140,0.80)" stroke="rgba(140,140,140,0.80)" stroke-width="0.6"/><circle cx="261.77" cy="423.09" r="1.72" fill="rgba(140,140,140,0.80)" stroke="rgba(140,140,140,0.80)" stroke-width="0.6"/><circle cx="261.77" cy="421.02" r="1.72" fill="rgba(140,140,140,0.80)" stroke="rgba(140,140,140,0.80)" stroke-width="0.6"/>
<line x1="266.44" x2="266.44" y1="419.43" y2="436.40" stroke="rgb(160,160,160)" stroke-width="0.85"/><line x1="266.44" x2="266.44" y1="448.41" y2="451.77" stroke="rgb(160,160,160)" stroke-width="0.85"/><rect x="265.18" y="436.40" width="2.52" height="12.02" fill="rgb(200,200,200)" stroke="rgb(160,160,160)" stroke-width="0.85"/><line x1="265.18" x2="267.70" y1="443.82" y2="443.82" stroke="rgb(160,160,160)" stroke-width="1.4"/><circle cx="266.44" cy="419.43" r="1.72" fill="rgba(140,140,140,0.80)" stroke="rgba(140,140,140,0.80)" stroke-width="0.6"/><circle cx="266.44" cy="417.35" r="1.72" fill="rgba(140,140,140,0.80)" stroke="rgba(140,140,140,0.80)" stroke-width="0.6"/><circle cx="266.44" cy="415.26" r="1.72" fill="rgba(140,140,140,0.80)" stroke="rgba(140,140,140,0.80)" stroke-width="0.6"/><circle cx="266.44" cy="413.17" r="1.72" fill="rgba(140,140,140,0.80)" stroke="rgba(140,140,140,0.80)" stroke-width="0.6"/><circle cx="266.44" cy="411.08" r="1.72" fill="rgba(140,140,140,0.80)" stroke="rgba(140,140,140,0.80)" stroke-width="0.6"/><circle cx="266.44" cy="408.99" r="1.72" fill="rgba(140,140,140,0.80)" stroke="rgba(140,140,140,0.80)" stroke-width="0.6"/><circle cx="266.44" cy="406.90" r="1.72" fill="rgba(140,140,140,0.80)" stroke="rgba(140,140,140,0.80)" stroke-width="0.6"/><circle cx="266.44" cy="404.82" r="1.72" fill="rgba(140,140,140,0.80)" stroke="rgba(140,140,140,0.80)" stroke-width="0.6"/><circle cx="266.44" cy="402.73" r="1.72" fill="rgba(140,140,140,0.80)" stroke="rgba(140,140,140,0.80)" stroke-width="0.6"/><circle cx="266.44" cy="400.64" r="1.72" fill="rgba(140,140,140,0.80)" stroke="rgba(140,140,140,0.80)" stroke-width="0.6"/><circle cx="266.44" cy="398.55" r="1.72" fill="rgba(140,140,140,0.80)" stroke="rgba(140,140,140,0.80)" stroke-width="0.6"/><circle cx="266.44" cy="396.46" r="1.72" fill="rgba(140,140,140,0.80)" stroke="rgba(140,140,140,0.80)" stroke-width="0.6"/>
<line x1="271.10" x2="271.10" y1="377.20" y2="413.60" stroke="rgb(160,160,160)" stroke-width="0.85"/><line x1="271.10" x2="271.10" y1="437.99" y2="451.77" stroke="rgb(160,160,160)" stroke-width="0.85"/><rect x="269.84" y="413.60" width="2.52" height="24.38" fill="rgb(200,200,200)" stroke="rgb(160,160,160)" stroke-width="0.85"/><line x1="269.84" x2="272.36" y1="425.62" y2="425.62" stroke="rgb(160,160,160)" stroke-width="1.4"/><circle cx="271.10" cy="336.74" r="1.72" fill="rgba(140,140,140,0.80)" stroke="rgba(140,140,140,0.80)" stroke-width="0.6"/><circle cx="271.10" cy="348.75" r="1.72" fill="rgba(140,140,140,0.80)" stroke="rgba(140,140,140,0.80)" stroke-width="0.6"/><circle cx="271.10" cy="377.20" r="1.72" fill="rgba(140,140,140,0.80)" stroke="rgba(140,140,140,0.80)" stroke-width="0.6"/><circle cx="271.10" cy="375.03" r="1.72" fill="rgba(140,140,140,0.80)" stroke="rgba(140,140,140,0.80)" stroke-width="0.6"/><circle cx="271.10" cy="372.86" r="1.72" fill="rgba(140,140,140,0.80)" stroke="rgba(140,140,140,0.80)" stroke-width="0.6"/><circle cx="271.10" cy="370.68" r="1.72" fill="rgba(140,140,140,0.80)" stroke="rgba(140,140,140,0.80)" stroke-width="0.6"/><circle cx="271.10" cy="368.51" r="1.72" fill="rgba(140,140,140,0.80)" stroke="rgba(140,140,140,0.80)" stroke-width="0.6"/><circle cx="271.10" cy="366.34" r="1.72" fill="rgba(140,140,140,0.80)" stroke="rgba(140,140,140,0.80)" stroke-width="0.6"/><circle cx="271.10" cy="364.16" r="1.72" fill="rgba(140,140,140,0.80)" stroke="rgba(140,140,140,0.80)" stroke-width="0.6"/><circle cx="271.10" cy="361.99" r="1.72" fill="rgba(140,140,140,0.80)" stroke="rgba(140,140,140,0.80)" stroke-width="0.6"/><circle cx="271.10" cy="359.82" r="1.72" fill="rgba(140,140,140,0.80)" stroke="rgba(140,140,140,0.80)" stroke-width="0.6"/><circle cx="271.10" cy="357.64" r="1.72" fill="rgba(140,140,140,0.80)" stroke="rgba(140,140,140,0.80)" stroke-width="0.6"/><circle cx="271.10" cy="355.47" r="1.72" fill="rgba(140,140,140,0.80)" stroke="rgba(140,140,140,0.80)" stroke-width="0.6"/>
<line x1="275.77" x2="275.77" y1="379.68" y2="393.11" stroke="rgb(160,160,160)" stroke-width="0.85"/><line x1="275.77" x2="275.77" y1="402.65" y2="415.72" stroke="rgb(160,160,160)" stroke-width="0.85"/><rect x="274.51" y="393.11" width="2.52" height="9.54" fill="rgb(200,200,200)" stroke="rgb(160,160,160)" stroke-width="0.85"/><line x1="274.51" x2="277.03" y1="397.35" y2="397.35" stroke="rgb(160,160,160)" stroke-width="1.4"/><circle cx="275.77" cy="379.68" r="1.72" fill="rgba(140,140,140,0.80)" stroke="rgba(140,140,140,0.80)" stroke-width="0.6"/><circle cx="275.77" cy="377.38" r="1.72" fill="rgba(140,140,140,0.80)" stroke="rgba(140,140,140,0.80)" stroke-width="0.6"/><circle cx="275.77" cy="375.08" r="1.72" fill="rgba(140,140,140,0.80)" stroke="rgba(140,140,140,0.80)" stroke-width="0.6"/><circle cx="275.77" cy="372.79" r="1.72" fill="rgba(140,140,140,0.80)" stroke="rgba(140,140,140,0.80)" stroke-width="0.6"/>
<line x1="280.43" x2="280.43" y1="434.63" y2="439.22" stroke="rgb(160,160,160)" stroke-width="0.85"/><line x1="280.43" x2="280.43" y1="443.82" y2="450.18" stroke="rgb(160,160,160)" stroke-width="0.85"/><rect x="279.17" y="439.22" width="2.52" height="4.59" fill="rgb(200,200,200)" stroke="rgb(160,160,160)" stroke-width="0.85"/><line x1="279.17" x2="281.69" y1="441.34" y2="441.34" stroke="rgb(160,160,160)" stroke-width="1.4"/><circle cx="280.43" cy="420.67" r="1.72" fill="rgba(140,140,140,0.80)" stroke="rgba(140,140,140,0.80)" stroke-width="0.6"/><circle cx="280.43" cy="432.51" r="1.72" fill="rgba(140,140,140,0.80)" stroke="rgba(140,140,140,0.80)" stroke-width="0.6"/><circle cx="280.43" cy="430.21" r="1.72" fill="rgba(140,140,140,0.80)" stroke="rgba(140,140,140,0.80)" stroke-width="0.6"/><circle cx="280.43" cy="427.92" r="1.72" fill="rgba(140,140,140,0.80)" stroke="rgba(140,140,140,0.80)" stroke-width="0.6"/>
<line x1="285.10" x2="285.10" y1="424.03" y2="438.69" stroke="rgb(160,160,160)" stroke-width="0.85"/><line x1="285.10" x2="285.10" y1="448.41" y2="451.77" stroke="rgb(160,160,160)" stroke-width="0.85"/><rect x="283.84" y="438.69" width="2.52" height="9.72" fill="rgb(200,200,200)" stroke="rgb(160,160,160)" stroke-width="0.85"/><line x1="283.84" x2="286.36" y1="444.00" y2="444.00" stroke="rgb(160,160,160)" stroke-width="1.4"/><circle cx="285.10" cy="424.03" r="1.72" fill="rgba(140,140,140,0.80)" stroke="rgba(140,140,140,0.80)" stroke-width="0.6"/><circle cx="285.10" cy="421.73" r="1.72" fill="rgba(140,140,140,0.80)" stroke="rgba(140,140,140,0.80)" stroke-width="0.6"/><circle cx="285.10" cy="419.43" r="1.72" fill="rgba(140,140,140,0.80)" stroke="rgba(140,140,140,0.80)" stroke-width="0.6"/><circle cx="285.10" cy="417.14" r="1.72" fill="rgba(140,140,140,0.80)" stroke="rgba(140,140,140,0.80)" stroke-width="0.6"/><circle cx="285.10" cy="414.84" r="1.72" fill="rgba(140,140,140,0.80)" stroke="rgba(140,140,140,0.80)" stroke-width="0.6"/>
<line x1="289.76" x2="289.76" y1="424.03" y2="438.69" stroke="rgb(160,160,160)" stroke-width="0.85"/><line x1="289.76" x2="289.76" y1="445.94" y2="451.77" stroke="rgb(160,160,160)" stroke-width="0.85"/><rect x="288.50" y="438.69" width="2.52" height="7.24" fill="rgb(233,233,233)" stroke="rgb(160,160,160)" stroke-width="0.85"/><line x1="288.50" x2="291.02" y1="442.58" y2="442.58" stroke="rgb(160,160,160)" stroke-width="1.4"/><circle cx="289.76" cy="424.03" r="1.72" fill="rgba(140,140,140,0.30)" stroke="rgba(140,140,140,0.30)" stroke-width="0.6"/><circle cx="289.76" cy="422.03" r="1.72" fill="rgba(140,140,140,0.30)" stroke="rgba(140,140,140,0.30)" stroke-width="0.6"/><circle cx="289.76" cy="420.02" r="1.72" fill="rgba(140,140,140,0.30)" stroke="rgba(140,140,140,0.30)" stroke-width="0.6"/><circle cx="289.76" cy="418.02" r="1.72" fill="rgba(140,140,140,0.30)" stroke="rgba(140,140,140,0.30)" stroke-width="0.6"/>
<line x1="294.43" x2="294.43" y1="395.76" y2="418.73" stroke="rgb(160,160,160)" stroke-width="0.85"/><line x1="294.43" x2="294.43" y1="433.04" y2="450.89" stroke="rgb(160,160,160)" stroke-width="0.85"/><rect x="293.17" y="418.73" width="2.52" height="14.31" fill="rgb(233,233,233)" stroke="rgb(160,160,160)" stroke-width="0.85"/><line x1="293.17" x2="295.69" y1="424.91" y2="424.91" stroke="rgb(160,160,160)" stroke-width="1.4"/><circle cx="294.43" cy="381.97" r="1.72" fill="rgba(140,140,140,0.30)" stroke="rgba(140,140,140,0.30)" stroke-width="0.6"/><circle cx="294.43" cy="387.98" r="1.72" fill="rgba(140,140,140,0.30)" stroke="rgba(140,140,140,0.30)" stroke-width="0.6"/><circle cx="294.43" cy="394.17" r="1.72" fill="rgba(140,140,140,0.30)" stroke="rgba(140,140,140,0.30)" stroke-width="0.6"/>
<line x1="299.09" x2="299.09" y1="373.67" y2="387.27" stroke="rgb(160,160,160)" stroke-width="0.85"/><line x1="299.09" x2="299.09" y1="395.76" y2="409.54" stroke="rgb(160,160,160)" stroke-width="0.85"/><rect x="297.83" y="387.27" width="2.52" height="8.48" fill="rgb(233,233,233)" stroke="rgb(160,160,160)" stroke-width="0.85"/><line x1="297.83" x2="300.35" y1="391.52" y2="391.52" stroke="rgb(160,160,160)" stroke-width="1.4"/><circle cx="299.09" cy="372.43" r="1.72" fill="rgba(140,140,140,0.80)" stroke="rgba(140,140,140,0.80)" stroke-width="0.6"/><circle cx="299.09" cy="410.60" r="1.72" fill="rgba(140,140,140,0.30)" stroke="rgba(140,140,140,0.30)" stroke-width="0.6"/>
<line x1="303.76" x2="303.76" y1="399.29" y2="415.72" stroke="rgb(160,160,160)" stroke-width="0.85"/><line x1="303.76" x2="303.76" y1="425.62" y2="441.70" stroke="rgb(160,160,160)" stroke-width="0.85"/><rect x="302.50" y="415.72" width="2.52" height="9.90" fill="rgb(233,233,233)" stroke="rgb(160,160,160)" stroke-width="0.85"/><line x1="302.50" x2="305.02" y1="420.32" y2="420.32" stroke="rgb(160,160,160)" stroke-width="1.4"/><circle cx="303.76" cy="398.76" r="1.72" fill="rgba(140,140,140,0.30)" stroke="rgba(140,140,140,0.30)" stroke-width="0.6"/><circle cx="303.76" cy="396.86" r="1.72" fill="rgba(140,140,140,0.30)" stroke="rgba(140,140,140,0.30)" stroke-width="0.6"/><circle cx="303.76" cy="394.96" r="1.72" fill="rgba(140,140,140,0.30)" stroke="rgba(140,140,140,0.30)" stroke-width="0.6"/><circle cx="303.76" cy="393.06" r="1.72" fill="rgba(140,140,140,0.30)" stroke="rgba(140,140,140,0.30)" stroke-width="0.6"/><circle cx="303.76" cy="391.16" r="1.72" fill="rgba(140,140,140,0.30)" stroke="rgba(140,140,140,0.30)" stroke-width="0.6"/>
<line x1="308.42" x2="308.42" y1="397.52" y2="411.84" stroke="rgb(160,160,160)" stroke-width="0.85"/><line x1="308.42" x2="308.42" y1="421.02" y2="434.63" stroke="rgb(160,160,160)" stroke-width="0.85"/><rect x="307.16" y="411.84" width="2.52" height="9.19" fill="rgb(233,233,233)" stroke="rgb(160,160,160)" stroke-width="0.85"/><line x1="307.16" x2="309.68" y1="416.43" y2="416.43" stroke="rgb(160,160,160)" stroke-width="1.4"/><circle cx="308.42" cy="397.35" r="1.72" fill="rgba(140,140,140,0.30)" stroke="rgba(140,140,140,0.30)" stroke-width="0.6"/><circle cx="308.42" cy="394.96" r="1.72" fill="rgba(140,140,140,0.30)" stroke="rgba(140,140,140,0.30)" stroke-width="0.6"/><circle cx="308.42" cy="392.58" r="1.72" fill="rgba(140,140,140,0.30)" stroke="rgba(140,140,140,0.30)" stroke-width="0.6"/><circle cx="308.42" cy="437.10" r="1.72" fill="rgba(140,140,140,0.30)" stroke="rgba(140,140,140,0.30)" stroke-width="0.6"/>
<line x1="313.09" x2="313.09" y1="408.83" y2="432.51" stroke="rgb(160,160,160)" stroke-width="0.85"/><line x1="313.09" x2="313.09" y1="448.41" y2="451.77" stroke="rgb(160,160,160)" stroke-width="0.85"/><rect x="311.83" y="432.51" width="2.52" height="15.90" fill="rgb(233,233,233)" stroke="rgb(160,160,160)" stroke-width="0.85"/><line x1="311.83" x2="314.35" y1="442.23" y2="442.23" stroke="rgb(160,160,160)" stroke-width="1.4"/><circle cx="313.09" cy="384.45" r="1.72" fill="rgba(140,140,140,0.30)" stroke="rgba(140,140,140,0.30)" stroke-width="0.6"/><circle cx="313.09" cy="408.83" r="1.72" fill="rgba(140,140,140,0.30)" stroke="rgba(140,140,140,0.30)" stroke-width="0.6"/><circle cx="313.09" cy="406.61" r="1.72" fill="rgba(140,140,140,0.30)" stroke="rgba(140,140,140,0.30)" stroke-width="0.6"/><circle cx="313.09" cy="404.38" r="1.72" fill="rgba(140,140,140,0.30)" stroke="rgba(140,140,140,0.30)" stroke-width="0.6"/><circle cx="313.09" cy="402.15" r="1.72" fill="rgba(140,140,140,0.30)" stroke="rgba(140,140,140,0.30)" stroke-width="0.6"/><circle cx="313.09" cy="399.93" r="1.72" fill="rgba(140,140,140,0.30)" stroke="rgba(140,140,140,0.30)" stroke-width="0.6"/><circle cx="313.09" cy="397.70" r="1.72" fill="rgba(140,140,140,0.30)" stroke="rgba(140,140,140,0.30)" stroke-width="0.6"/><circle cx="313.09" cy="395.47" r="1.72" fill="rgba(140,140,140,0.30)" stroke="rgba(140,140,140,0.30)" stroke-width="0.6"/><circle cx="313.09" cy="393.25" r="1.72" fill="rgba(140,140,140,0.30)" stroke="rgba(140,140,140,0.30)" stroke-width="0.6"/><circle cx="313.09" cy="391.02" r="1.72" fill="rgba(140,140,140,0.30)" stroke="rgba(140,140,140,0.30)" stroke-width="0.6"/><circle cx="313.09" cy="388.79" r="1.72" fill="rgba(140,140,140,0.30)" stroke="rgba(140,140,140,0.30)" stroke-width="0.6"/><circle cx="313.09" cy="386.57" r="1.72" fill="rgba(140,140,140,0.30)" stroke="rgba(140,140,140,0.30)" stroke-width="0.6"/><circle cx="313.09" cy="408.12" r="1.72" fill="rgba(140,140,140,0.80)" stroke="rgba(140,140,140,0.80)" stroke-width="0.6"/><circle cx="313.09" cy="405.92" r="1.72" fill="rgba(140,140,140,0.80)" stroke="rgba(140,140,140,0.80)" stroke-width="0.6"/><circle cx="313.09" cy="403.71" r="1.72" fill="rgba(140,140,140,0.80)" stroke="rgba(140,140,140,0.80)" stroke-width="0.6"/><circle cx="313.09" cy="401.50" r="1.72" fill="rgba(140,140,140,0.80)" stroke="rgba(140,140,140,0.80)" stroke-width="0.6"/><circle cx="313.09" cy="399.29" r="1.72" fill="rgba(140,140,140,0.80)" stroke="rgba(140,140,140,0.80)" stroke-width="0.6"/>
<line x1="317.75" x2="317.75" y1="386.57" y2="422.26" stroke="rgb(160,160,160)" stroke-width="0.85"/><line x1="317.75" x2="317.75" y1="445.59" y2="451.77" stroke="rgb(160,160,160)" stroke-width="0.85"/><rect x="316.49" y="422.26" width="2.52" height="23.32" fill="rgb(233,233,233)" stroke="rgb(160,160,160)" stroke-width="0.85"/><line x1="316.49" x2="319.01" y1="436.04" y2="436.04" stroke="rgb(160,160,160)" stroke-width="1.4"/><circle cx="317.75" cy="339.39" r="1.72" fill="rgba(140,140,140,0.30)" stroke="rgba(140,140,140,0.30)" stroke-width="0.6"/><circle cx="317.75" cy="346.28" r="1.72" fill="rgba(140,140,140,0.30)" stroke="rgba(140,140,140,0.30)" stroke-width="0.6"/><circle cx="317.75" cy="386.57" r="1.72" fill="rgba(140,140,140,0.30)" stroke="rgba(140,140,140,0.30)" stroke-width="0.6"/><circle cx="317.75" cy="384.38" r="1.72" fill="rgba(140,140,140,0.30)" stroke="rgba(140,140,140,0.30)" stroke-width="0.6"/><circle cx="317.75" cy="382.19" r="1.72" fill="rgba(140,140,140,0.30)" stroke="rgba(140,140,140,0.30)" stroke-width="0.6"/><circle cx="317.75" cy="380.01" r="1.72" fill="rgba(140,140,140,0.30)" stroke="rgba(140,140,140,0.30)" stroke-width="0.6"/><circle cx="317.75" cy="377.82" r="1.72" fill="rgba(140,140,140,0.30)" stroke="rgba(140,140,140,0.30)" stroke-width="0.6"/><circle cx="317.75" cy="375.63" r="1.72" fill="rgba(140,140,140,0.30)" stroke="rgba(140,140,140,0.30)" stroke-width="0.6"/><circle cx="317.75" cy="373.45" r="1.72" fill="rgba(140,140,140,0.30)" stroke="rgba(140,140,140,0.30)" stroke-width="0.6"/><circle cx="317.75" cy="371.26" r="1.72" fill="rgba(140,140,140,0.30)" stroke="rgba(140,140,140,0.30)" stroke-width="0.6"/><circle cx="317.75" cy="369.07" r="1.72" fill="rgba(140,140,140,0.30)" stroke="rgba(140,140,140,0.30)" stroke-width="0.6"/><circle cx="317.75" cy="366.89" r="1.72" fill="rgba(140,140,140,0.30)" stroke="rgba(140,140,140,0.30)" stroke-width="0.6"/><circle cx="317.75" cy="364.70" r="1.72" fill="rgba(140,140,140,0.30)" stroke="rgba(140,140,140,0.30)" stroke-width="0.6"/><circle cx="317.75" cy="362.51" r="1.72" fill="rgba(140,140,140,0.30)" stroke="rgba(140,140,140,0.30)" stroke-width="0.6"/><circle cx="317.75" cy="360.33" r="1.72" fill="rgba(140,140,140,0.30)" stroke="rgba(140,140,140,0.30)" stroke-width="0.6"/><circle cx="317.75" cy="358.14" r="1.72" fill="rgba(140,140,140,0.30)" stroke="rgba(140,140,140,0.30)" stroke-width="0.6"/><circle cx="317.75" cy="355.95" r="1.72" fill="rgba(140,140,140,0.30)" stroke="rgba(140,140,140,0.30)" stroke-width="0.6"/><circle cx="317.75" cy="353.77" r="1.72" fill="rgba(140,140,140,0.30)" stroke="rgba(140,140,140,0.30)" stroke-width="0.6"/><circle cx="317.75" cy="351.58" r="1.72" fill="rgba(140,140,140,0.30)" stroke="rgba(140,140,140,0.30)" stroke-width="0.6"/><circle cx="317.75" cy="374.55" r="1.72" fill="rgba(140,140,140,0.80)" stroke="rgba(140,140,140,0.80)" stroke-width="0.6"/><circle cx="317.75" cy="372.79" r="1.72" fill="rgba(140,140,140,0.80)" stroke="rgba(140,140,140,0.80)" stroke-width="0.6"/><circle cx="317.75" cy="371.02" r="1.72" fill="rgba(140,140,140,0.80)" stroke="rgba(140,140,140,0.80)" stroke-width="0.6"/>
<line x1="322.42" x2="322.42" y1="401.06" y2="414.66" stroke="rgb(160,160,160)" stroke-width="0.85"/><line x1="322.42" x2="322.42" y1="423.32" y2="434.10" stroke="rgb(160,160,160)" stroke-width="0.85"/><rect x="321.16" y="414.66" width="2.52" height="8.66" fill="rgb(233,233,233)" stroke="rgb(160,160,160)" stroke-width="0.85"/><line x1="321.16" x2="323.68" y1="418.20" y2="418.20" stroke="rgb(160,160,160)" stroke-width="1.4"/><circle cx="322.42" cy="399.64" r="1.72" fill="rgba(140,140,140,0.80)" stroke="rgba(140,140,140,0.80)" stroke-width="0.6"/><circle cx="322.42" cy="436.04" r="1.72" fill="rgba(140,140,140,0.30)" stroke="rgba(140,140,140,0.30)" stroke-width="0.6"/>
<line x1="327.08" x2="327.08" y1="436.40" y2="441.34" stroke="rgb(160,160,160)" stroke-width="0.85"/><line x1="327.08" x2="327.08" y1="444.00" y2="448.77" stroke="rgb(160,160,160)" stroke-width="0.85"/><rect x="325.82" y="441.34" width="2.52" height="2.65" fill="rgb(233,233,233)" stroke="rgb(160,160,160)" stroke-width="0.85"/><line x1="325.82" x2="328.34" y1="442.93" y2="442.93" stroke="rgb(160,160,160)" stroke-width="1.4"/><circle cx="327.08" cy="434.81" r="1.72" fill="rgba(140,140,140,0.30)" stroke="rgba(140,140,140,0.30)" stroke-width="0.6"/><circle cx="327.08" cy="432.95" r="1.72" fill="rgba(140,140,140,0.30)" stroke="rgba(140,140,140,0.30)" stroke-width="0.6"/><circle cx="327.08" cy="431.10" r="1.72" fill="rgba(140,140,140,0.30)" stroke="rgba(140,140,140,0.30)" stroke-width="0.6"/><circle cx="327.08" cy="449.47" r="1.72" fill="rgba(140,140,140,0.80)" stroke="rgba(140,140,140,0.80)" stroke-width="0.6"/>
<line x1="331.75" x2="331.75" y1="418.02" y2="435.69" stroke="rgb(160,160,160)" stroke-width="0.85"/><line x1="331.75" x2="331.75" y1="446.29" y2="451.77" stroke="rgb(160,160,160)" stroke-width="0.85"/><rect x="330.49" y="435.69" width="2.52" height="10.60" fill="rgb(233,233,233)" stroke="rgb(160,160,160)" stroke-width="0.85"/><line x1="330.49" x2="333.01" y1="440.99" y2="440.99" stroke="rgb(160,160,160)" stroke-width="1.4"/><circle cx="331.75" cy="418.02" r="1.72" fill="rgba(140,140,140,0.30)" stroke="rgba(140,140,140,0.30)" stroke-width="0.6"/><circle cx="331.75" cy="415.84" r="1.72" fill="rgba(140,140,140,0.30)" stroke="rgba(140,140,140,0.30)" stroke-width="0.6"/><circle cx="331.75" cy="413.66" r="1.72" fill="rgba(140,140,140,0.30)" stroke="rgba(140,140,140,0.30)" stroke-width="0.6"/><circle cx="331.75" cy="411.48" r="1.72" fill="rgba(140,140,140,0.30)" stroke="rgba(140,140,140,0.30)" stroke-width="0.6"/><circle cx="331.75" cy="409.30" r="1.72" fill="rgba(140,140,140,0.30)" stroke="rgba(140,140,140,0.30)" stroke-width="0.6"/><circle cx="331.75" cy="407.12" r="1.72" fill="rgba(140,140,140,0.30)" stroke="rgba(140,140,140,0.30)" stroke-width="0.6"/><circle cx="331.75" cy="404.94" r="1.72" fill="rgba(140,140,140,0.30)" stroke="rgba(140,140,140,0.30)" stroke-width="0.6"/>
<line x1="240.94" x2="282.26" y1="427.56" y2="427.56" stroke="#000" stroke-width="1.45"/>
<line x1="287.43" x2="333.92" y1="427.92" y2="427.92" stroke="#000" stroke-width="1.45" stroke-dasharray="3.2 2.55"/>
<rect x="19.0" y="267.75" width="330.5" height="211.7" fill="none" stroke="#a0a0a0" stroke-width="1.07"/>
<rect x="19.0" y="249.5" width="330.5" height="17.8" fill="#fff" stroke="#a0a0a0" stroke-width="1.07"/>
<text x="184.25" y="261.0" font-size="10.6" text-anchor="middle" fill="#1a1a1a">Post-prandial killing effect (ξ)</text>
<line x1="16.5" x2="19.0" y1="452.30" y2="452.30" stroke="#333" stroke-width="1.07"/>
<text x="15.2" y="456.05" font-size="10.4" text-anchor="end" fill="#4d4d4d">0.0</text>
<line x1="16.5" x2="19.0" y1="416.96" y2="416.96" stroke="#333" stroke-width="1.07"/>
<text x="15.2" y="420.71" font-size="10.4" text-anchor="end" fill="#4d4d4d">0.2</text>
<line x1="16.5" x2="19.0" y1="381.62" y2="381.62" stroke="#333" stroke-width="1.07"/>
<text x="15.2" y="385.37" font-size="10.4" text-anchor="end" fill="#4d4d4d">0.4</text>
<line x1="16.5" x2="19.0" y1="346.28" y2="346.28" stroke="#333" stroke-width="1.07"/>
<text x="15.2" y="350.03" font-size="10.4" text-anchor="end" fill="#4d4d4d">0.6</text>
<line x1="16.5" x2="19.0" y1="310.94" y2="310.94" stroke="#333" stroke-width="1.07"/>
<text x="15.2" y="314.69" font-size="10.4" text-anchor="end" fill="#4d4d4d">0.8</text>
<line x1="16.5" x2="19.0" y1="275.60" y2="275.60" stroke="#333" stroke-width="1.07"/>
<text x="15.2" y="279.35" font-size="10.4" text-anchor="end" fill="#4d4d4d">1.0</text>
<line x1="353.5" x2="683.5" y1="452.30" y2="452.30" stroke="#ebebeb" stroke-width="1.07"/>
<line x1="353.5" x2="683.5" y1="434.63" y2="434.63" stroke="#f5f5f5" stroke-width="0.53"/>
<line x1="353.5" x2="683.5" y1="416.96" y2="416.96" stroke="#ebebeb" stroke-width="1.07"/>
<line x1="353.5" x2="683.5" y1="399.29" y2="399.29" stroke="#f5f5f5" stroke-width="0.53"/>
<line x1="353.5" x2="683.5" y1="381.62" y2="381.62" stroke="#ebebeb" stroke-width="1.07"/>
<line x1="353.5" x2="683.5" y1="363.95" y2="363.95" stroke="#f5f5f5" stroke-width="0.53"/>
<line x1="353.5" x2="683.5" y1="346.28" y2="346.28" stroke="#ebebeb" stroke-width="1.07"/>
<line x1="353.5" x2="683.5" y1="328.61" y2="328.61" stroke="#f5f5f5" stroke-width="0.53"/>
<line x1="353.5" x2="683.5" y1="310.94" y2="310.94" stroke="#ebebeb" stroke-width="1.07"/>
<line x1="353.5" x2="683.5" y1="293.27" y2="293.27" stroke="#f5f5f5" stroke-width="0.53"/>
<line x1="353.5" x2="683.5" y1="275.60" y2="275.60" stroke="#ebebeb" stroke-width="1.07"/>
<line x1="415.58" x2="415.58" y1="267.5" y2="479.5" stroke="#ebebeb" stroke-width="1.07"/>
<line x1="518.88" x2="518.88" y1="267.5" y2="479.5" stroke="#ebebeb" stroke-width="1.07"/>
<line x1="622.18" x2="622.18" y1="267.5" y2="479.5" stroke="#ebebeb" stroke-width="1.07"/>
<text x="371.85" y="459.4" font-size="5.1" text-anchor="middle" fill="#111" stroke="#111" stroke-width="0.15">1</text>
<text x="377.68" y="459.4" font-size="5.1" text-anchor="middle" fill="#111" stroke="#111" stroke-width="0.15">2</text>
<text x="383.51" y="459.4" font-size="5.1" text-anchor="middle" fill="#111" stroke="#111" stroke-width="0.15">3</text>
<text x="389.34" y="459.4" font-size="5.1" text-anchor="middle" fill="#111" stroke="#111" stroke-width="0.15">6</text>
<text x="395.17" y="459.4" font-size="5.1" text-anchor="middle" fill="#111" stroke="#111" stroke-width="0.15">7</text>
<text x="401.00" y="459.4" font-size="5.1" text-anchor="middle" fill="#111" stroke="#111" stroke-width="0.15">8</text>
<text x="406.83" y="459.4" font-size="5.1" text-anchor="middle" fill="#111" stroke="#111" stroke-width="0.15">9</text>
<text x="412.66" y="459.4" font-size="5.1" text-anchor="middle" fill="#111" stroke="#111" stroke-width="0.15">11</text>
<text x="418.50" y="459.4" font-size="5.1" text-anchor="middle" fill="#111" stroke="#111" stroke-width="0.15">1</text>
<text x="424.33" y="459.4" font-size="5.1" text-anchor="middle" fill="#111" stroke="#111" stroke-width="0.15">2</text>
<text x="430.16" y="459.4" font-size="5.1" text-anchor="middle" fill="#111" stroke="#111" stroke-width="0.15">3</text>
<text x="435.99" y="459.4" font-size="5.1" text-anchor="middle" fill="#111" stroke="#111" stroke-width="0.15">6</text>
<text x="441.82" y="459.4" font-size="5.1" text-anchor="middle" fill="#111" stroke="#111" stroke-width="0.15">7</text>
<text x="447.65" y="459.4" font-size="5.1" text-anchor="middle" fill="#111" stroke="#111" stroke-width="0.15">8</text>
<text x="453.48" y="459.4" font-size="5.1" text-anchor="middle" fill="#111" stroke="#111" stroke-width="0.15">9</text>
<text x="459.31" y="459.4" font-size="5.1" text-anchor="middle" fill="#111" stroke="#111" stroke-width="0.15">11</text>
<text x="392.34" y="472.7" font-size="7.4" text-anchor="middle" fill="#000" stroke="#000" stroke-width="0.3">Unw.</text>
<text x="438.82" y="472.7" font-size="7.4" text-anchor="middle" fill="#000" stroke="#000" stroke-width="0.3">20x/Aged</text>
<line x1="415.58" x2="415.58" y1="479.5" y2="481.7" stroke="#333" stroke-width="1.07"/>
<text x="415.58" y="490.9" font-size="10.6" text-anchor="middle" fill="#4d4d4d">Interceptor G2</text>
<text x="476.12" y="459.4" font-size="5.1" text-anchor="middle" fill="#111" stroke="#111" stroke-width="0.15">1</text>
<text x="483.89" y="459.4" font-size="5.1" text-anchor="middle" fill="#111" stroke="#111" stroke-width="0.15">4</text>
<text x="491.67" y="459.4" font-size="5.1" text-anchor="middle" fill="#111" stroke="#111" stroke-width="0.15">5</text>
<text x="499.44" y="459.4" font-size="5.1" text-anchor="middle" fill="#111" stroke="#111" stroke-width="0.15">6</text>
<text x="507.22" y="459.4" font-size="5.1" text-anchor="middle" fill="#111" stroke="#111" stroke-width="0.15">7</text>
<text x="514.99" y="459.4" font-size="5.1" text-anchor="middle" fill="#111" stroke="#111" stroke-width="0.15">8</text>
<text x="522.77" y="459.4" font-size="5.1" text-anchor="middle" fill="#111" stroke="#111" stroke-width="0.15">1</text>
<text x="530.54" y="459.4" font-size="5.1" text-anchor="middle" fill="#111" stroke="#111" stroke-width="0.15">4</text>
<text x="538.32" y="459.4" font-size="5.1" text-anchor="middle" fill="#111" stroke="#111" stroke-width="0.15">5</text>
<text x="546.09" y="459.4" font-size="5.1" text-anchor="middle" fill="#111" stroke="#111" stroke-width="0.15">6</text>
<text x="553.87" y="459.4" font-size="5.1" text-anchor="middle" fill="#111" stroke="#111" stroke-width="0.15">7</text>
<text x="561.64" y="459.4" font-size="5.1" text-anchor="middle" fill="#111" stroke="#111" stroke-width="0.15">8</text>
<text x="495.64" y="472.7" font-size="7.4" text-anchor="middle" fill="#000" stroke="#000" stroke-width="0.3">Unw.</text>
<text x="542.12" y="472.7" font-size="7.4" text-anchor="middle" fill="#000" stroke="#000" stroke-width="0.3">20x/Aged</text>
<line x1="518.88" x2="518.88" y1="479.5" y2="481.7" stroke="#333" stroke-width="1.07"/>
<text x="518.88" y="490.9" font-size="10.6" text-anchor="middle" fill="#4d4d4d">Olyset Plus</text>
<text x="577.86" y="459.4" font-size="5.1" text-anchor="middle" fill="#111" stroke="#111" stroke-width="0.15">1</text>
<text x="582.53" y="459.4" font-size="5.1" text-anchor="middle" fill="#111" stroke="#111" stroke-width="0.15">2</text>
<text x="587.19" y="459.4" font-size="5.1" text-anchor="middle" fill="#111" stroke="#111" stroke-width="0.15">3</text>
<text x="591.86" y="459.4" font-size="5.1" text-anchor="middle" fill="#111" stroke="#111" stroke-width="0.15">4</text>
<text x="596.52" y="459.4" font-size="5.1" text-anchor="middle" fill="#111" stroke="#111" stroke-width="0.15">5</text>
<text x="601.19" y="459.4" font-size="5.1" text-anchor="middle" fill="#111" stroke="#111" stroke-width="0.15">6</text>
<text x="605.85" y="459.4" font-size="5.1" text-anchor="middle" fill="#111" stroke="#111" stroke-width="0.15">7</text>
<text x="610.52" y="459.4" font-size="5.1" text-anchor="middle" fill="#111" stroke="#111" stroke-width="0.15">8</text>
<text x="615.18" y="459.4" font-size="5.1" text-anchor="middle" fill="#111" stroke="#111" stroke-width="0.15">9</text>
<text x="619.85" y="459.4" font-size="5.1" text-anchor="middle" fill="#111" stroke="#111" stroke-width="0.15">10</text>
<text x="624.51" y="459.4" font-size="5.1" text-anchor="middle" fill="#111" stroke="#111" stroke-width="0.15">1</text>
<text x="629.18" y="459.4" font-size="5.1" text-anchor="middle" fill="#111" stroke="#111" stroke-width="0.15">2</text>
<text x="633.84" y="459.4" font-size="5.1" text-anchor="middle" fill="#111" stroke="#111" stroke-width="0.15">3</text>
<text x="638.51" y="459.4" font-size="5.1" text-anchor="middle" fill="#111" stroke="#111" stroke-width="0.15">4</text>
<text x="643.17" y="459.4" font-size="5.1" text-anchor="middle" fill="#111" stroke="#111" stroke-width="0.15">5</text>
<text x="647.84" y="459.4" font-size="5.1" text-anchor="middle" fill="#111" stroke="#111" stroke-width="0.15">6</text>
<text x="652.50" y="459.4" font-size="5.1" text-anchor="middle" fill="#111" stroke="#111" stroke-width="0.15">7</text>
<text x="657.17" y="459.4" font-size="5.1" text-anchor="middle" fill="#111" stroke="#111" stroke-width="0.15">8</text>
<text x="661.83" y="459.4" font-size="5.1" text-anchor="middle" fill="#111" stroke="#111" stroke-width="0.15">9</text>
<text x="666.50" y="459.4" font-size="5.1" text-anchor="middle" fill="#111" stroke="#111" stroke-width="0.15">10</text>
<text x="598.94" y="472.7" font-size="7.4" text-anchor="middle" fill="#000" stroke="#000" stroke-width="0.3">Unw.</text>
<text x="645.42" y="472.7" font-size="7.4" text-anchor="middle" fill="#000" stroke="#000" stroke-width="0.3">20x/Aged</text>
<line x1="622.18" x2="622.18" y1="479.5" y2="481.7" stroke="#333" stroke-width="1.07"/>
<text x="622.18" y="490.9" font-size="10.6" text-anchor="middle" fill="#4d4d4d">Pyrethroid-only</text>
<line x1="371.85" x2="371.85" y1="287.97" y2="288.85" stroke="rgb(232,134,14)" stroke-width="0.85"/><line x1="371.85" x2="371.85" y1="292.03" y2="293.27" stroke="rgb(232,134,14)" stroke-width="0.85"/><rect x="370.27" y="288.85" width="3.15" height="3.18" fill="rgb(238,168,81)" stroke="rgb(232,134,14)" stroke-width="0.85"/><line x1="370.27" x2="373.42" y1="290.44" y2="290.44" stroke="rgb(232,134,14)" stroke-width="1.4"/><circle cx="371.85" cy="286.73" r="1.72" fill="rgba(232,134,14,0.80)" stroke="rgba(232,134,14,0.80)" stroke-width="0.6"/><circle cx="371.85" cy="295.04" r="1.72" fill="rgba(232,134,14,0.80)" stroke="rgba(232,134,14,0.80)" stroke-width="0.6"/><circle cx="371.85" cy="294.15" r="1.72" fill="rgba(232,134,14,0.80)" stroke="rgba(232,134,14,0.80)" stroke-width="0.6"/>
<line x1="377.68" x2="377.68" y1="283.55" y2="285.14" stroke="rgb(232,134,14)" stroke-width="0.85"/><line x1="377.68" x2="377.68" y1="287.44" y2="288.85" stroke="rgb(232,134,14)" stroke-width="0.85"/><rect x="376.10" y="285.14" width="3.15" height="2.30" fill="rgb(238,168,81)" stroke="rgb(232,134,14)" stroke-width="0.85"/><line x1="376.10" x2="379.25" y1="286.38" y2="286.38" stroke="rgb(232,134,14)" stroke-width="1.4"/><circle cx="377.68" cy="282.84" r="1.72" fill="rgba(232,134,14,0.80)" stroke="rgba(232,134,14,0.80)" stroke-width="0.6"/><circle cx="377.68" cy="280.55" r="1.72" fill="rgba(232,134,14,0.80)" stroke="rgba(232,134,14,0.80)" stroke-width="0.6"/><circle cx="377.68" cy="292.03" r="1.72" fill="rgba(232,134,14,0.80)" stroke="rgba(232,134,14,0.80)" stroke-width="0.6"/><circle cx="377.68" cy="289.74" r="1.72" fill="rgba(232,134,14,0.80)" stroke="rgba(232,134,14,0.80)" stroke-width="0.6"/>
<line x1="383.51" x2="383.51" y1="286.20" y2="288.15" stroke="rgb(232,134,14)" stroke-width="0.85"/><line x1="383.51" x2="383.51" y1="291.15" y2="292.39" stroke="rgb(232,134,14)" stroke-width="0.85"/><rect x="381.93" y="288.15" width="3.15" height="3.00" fill="rgb(238,168,81)" stroke="rgb(232,134,14)" stroke-width="0.85"/><line x1="381.93" x2="385.08" y1="289.74" y2="289.74" stroke="rgb(232,134,14)" stroke-width="1.4"/><circle cx="383.51" cy="284.44" r="1.72" fill="rgba(232,134,14,0.80)" stroke="rgba(232,134,14,0.80)" stroke-width="0.6"/><circle cx="383.51" cy="296.45" r="1.72" fill="rgba(232,134,14,0.80)" stroke="rgba(232,134,14,0.80)" stroke-width="0.6"/><circle cx="383.51" cy="293.45" r="1.72" fill="rgba(232,134,14,0.80)" stroke="rgba(232,134,14,0.80)" stroke-width="0.6"/>
<line x1="389.34" x2="389.34" y1="279.13" y2="282.84" stroke="rgb(232,134,14)" stroke-width="0.85"/><line x1="389.34" x2="389.34" y1="285.85" y2="290.62" stroke="rgb(232,134,14)" stroke-width="0.85"/><rect x="387.76" y="282.84" width="3.15" height="3.00" fill="rgb(238,168,81)" stroke="rgb(232,134,14)" stroke-width="0.85"/><line x1="387.76" x2="390.91" y1="284.44" y2="284.44" stroke="rgb(232,134,14)" stroke-width="1.4"/><circle cx="389.34" cy="301.04" r="1.72" fill="rgba(232,134,14,0.80)" stroke="rgba(232,134,14,0.80)" stroke-width="0.6"/><circle cx="389.34" cy="299.07" r="1.72" fill="rgba(232,134,14,0.80)" stroke="rgba(232,134,14,0.80)" stroke-width="0.6"/><circle cx="389.34" cy="297.09" r="1.72" fill="rgba(232,134,14,0.80)" stroke="rgba(232,134,14,0.80)" stroke-width="0.6"/><circle cx="389.34" cy="295.11" r="1.72" fill="rgba(232,134,14,0.80)" stroke="rgba(232,134,14,0.80)" stroke-width="0.6"/><circle cx="389.34" cy="293.13" r="1.72" fill="rgba(232,134,14,0.80)" stroke="rgba(232,134,14,0.80)" stroke-width="0.6"/><circle cx="389.34" cy="291.15" r="1.72" fill="rgba(232,134,14,0.80)" stroke="rgba(232,134,14,0.80)" stroke-width="0.6"/>
<line x1="395.17" x2="395.17" y1="279.13" y2="282.84" stroke="rgb(232,134,14)" stroke-width="0.85"/><line x1="395.17" x2="395.17" y1="286.73" y2="291.50" stroke="rgb(232,134,14)" stroke-width="0.85"/><rect x="393.60" y="282.84" width="3.15" height="3.89" fill="rgb(238,168,81)" stroke="rgb(232,134,14)" stroke-width="0.85"/><line x1="393.60" x2="396.75" y1="285.14" y2="285.14" stroke="rgb(232,134,14)" stroke-width="1.4"/><circle cx="395.17" cy="304.93" r="1.72" fill="rgba(232,134,14,0.80)" stroke="rgba(232,134,14,0.80)" stroke-width="0.6"/><circle cx="395.17" cy="302.90" r="1.72" fill="rgba(232,134,14,0.80)" stroke="rgba(232,134,14,0.80)" stroke-width="0.6"/><circle cx="395.17" cy="300.87" r="1.72" fill="rgba(232,134,14,0.80)" stroke="rgba(232,134,14,0.80)" stroke-width="0.6"/><circle cx="395.17" cy="298.84" r="1.72" fill="rgba(232,134,14,0.80)" stroke="rgba(232,134,14,0.80)" stroke-width="0.6"/><circle cx="395.17" cy="296.80" r="1.72" fill="rgba(232,134,14,0.80)" stroke="rgba(232,134,14,0.80)" stroke-width="0.6"/><circle cx="395.17" cy="294.77" r="1.72" fill="rgba(232,134,14,0.80)" stroke="rgba(232,134,14,0.80)" stroke-width="0.6"/><circle cx="395.17" cy="292.74" r="1.72" fill="rgba(232,134,14,0.80)" stroke="rgba(232,134,14,0.80)" stroke-width="0.6"/>
<line x1="401.00" x2="401.00" y1="278.07" y2="278.78" stroke="rgb(232,134,14)" stroke-width="0.85"/><line x1="401.00" x2="401.00" y1="280.19" y2="280.90" stroke="rgb(232,134,14)" stroke-width="0.85"/><rect x="399.43" y="278.78" width="3.15" height="1.41" fill="rgb(238,168,81)" stroke="rgb(232,134,14)" stroke-width="0.85"/><line x1="399.43" x2="402.58" y1="279.49" y2="279.49" stroke="rgb(232,134,14)" stroke-width="1.4"/><circle cx="401.00" cy="282.14" r="1.72" fill="rgba(232,134,14,0.80)" stroke="rgba(232,134,14,0.80)" stroke-width="0.6"/><circle cx="401.00" cy="279.84" r="1.72" fill="rgba(232,134,14,0.80)" stroke="rgba(232,134,14,0.80)" stroke-width="0.6"/><circle cx="401.00" cy="277.54" r="1.72" fill="rgba(232,134,14,0.80)" stroke="rgba(232,134,14,0.80)" stroke-width="0.6"/>
<line x1="406.83" x2="406.83" y1="280.90" y2="281.78" stroke="rgb(232,134,14)" stroke-width="0.85"/><line x1="406.83" x2="406.83" y1="283.55" y2="284.44" stroke="rgb(232,134,14)" stroke-width="0.85"/><rect x="405.26" y="281.78" width="3.15" height="1.77" fill="rgb(238,168,81)" stroke="rgb(232,134,14)" stroke-width="0.85"/><line x1="405.26" x2="408.41" y1="282.67" y2="282.67" stroke="rgb(232,134,14)" stroke-width="1.4"/><circle cx="406.83" cy="285.14" r="1.72" fill="rgba(232,134,14,0.80)" stroke="rgba(232,134,14,0.80)" stroke-width="0.6"/><circle cx="406.83" cy="282.84" r="1.72" fill="rgba(232,134,14,0.80)" stroke="rgba(232,134,14,0.80)" stroke-width="0.6"/><circle cx="406.83" cy="280.55" r="1.72" fill="rgba(232,134,14,0.80)" stroke="rgba(232,134,14,0.80)" stroke-width="0.6"/>
<line x1="412.66" x2="412.66" y1="279.13" y2="280.90" stroke="rgb(232,134,14)" stroke-width="0.85"/><line x1="412.66" x2="412.66" y1="282.67" y2="284.44" stroke="rgb(232,134,14)" stroke-width="0.85"/><rect x="411.09" y="280.90" width="3.15" height="1.77" fill="rgb(238,168,81)" stroke="rgb(232,134,14)" stroke-width="0.85"/><line x1="411.09" x2="414.24" y1="281.78" y2="281.78" stroke="rgb(232,134,14)" stroke-width="1.4"/><circle cx="412.66" cy="286.73" r="1.72" fill="rgba(232,134,14,0.80)" stroke="rgba(232,134,14,0.80)" stroke-width="0.6"/><circle cx="412.66" cy="284.83" r="1.72" fill="rgba(232,134,14,0.80)" stroke="rgba(232,134,14,0.80)" stroke-width="0.6"/><circle cx="412.66" cy="282.93" r="1.72" fill="rgba(232,134,14,0.80)" stroke="rgba(232,134,14,0.80)" stroke-width="0.6"/><circle cx="412.66" cy="281.03" r="1.72" fill="rgba(232,134,14,0.80)" stroke="rgba(232,134,14,0.80)" stroke-width="0.6"/><circle cx="412.66" cy="279.13" r="1.72" fill="rgba(232,134,14,0.80)" stroke="rgba(232,134,14,0.80)" stroke-width="0.6"/>
<line x1="418.50" x2="418.50" y1="291.50" y2="293.27" stroke="rgb(232,134,14)" stroke-width="0.85"/><line x1="418.50" x2="418.50" y1="295.04" y2="299.45" stroke="rgb(232,134,14)" stroke-width="0.85"/><rect x="416.92" y="293.27" width="3.15" height="1.77" fill="rgb(245,229,194)" stroke="rgb(232,134,14)" stroke-width="0.85"/><line x1="416.92" x2="420.07" y1="294.33" y2="294.33" stroke="rgb(232,134,14)" stroke-width="1.4"/><circle cx="418.50" cy="288.85" r="1.72" fill="rgba(232,134,14,0.30)" stroke="rgba(232,134,14,0.30)" stroke-width="0.6"/><circle cx="418.50" cy="302.64" r="1.72" fill="rgba(232,134,14,0.80)" stroke="rgba(232,134,14,0.80)" stroke-width="0.6"/><circle cx="418.50" cy="301.04" r="1.72" fill="rgba(232,134,14,0.80)" stroke="rgba(232,134,14,0.80)" stroke-width="0.6"/>
<line x1="424.33" x2="424.33" y1="285.32" y2="286.73" stroke="rgb(232,134,14)" stroke-width="0.85"/><line x1="424.33" x2="424.33" y1="289.74" y2="290.62" stroke="rgb(232,134,14)" stroke-width="0.85"/><rect x="422.75" y="286.73" width="3.15" height="3.00" fill="rgb(245,229,194)" stroke="rgb(232,134,14)" stroke-width="0.85"/><line x1="422.75" x2="425.90" y1="288.15" y2="288.15" stroke="rgb(232,134,14)" stroke-width="1.4"/><circle cx="424.33" cy="284.44" r="1.72" fill="rgba(232,134,14,0.80)" stroke="rgba(232,134,14,0.80)" stroke-width="0.6"/><circle cx="424.33" cy="291.15" r="1.72" fill="rgba(232,134,14,0.80)" stroke="rgba(232,134,14,0.80)" stroke-width="0.6"/>
<line x1="430.16" x2="430.16" y1="286.20" y2="288.15" stroke="rgb(232,134,14)" stroke-width="0.85"/><line x1="430.16" x2="430.16" y1="290.44" y2="292.39" stroke="rgb(232,134,14)" stroke-width="0.85"/><rect x="428.58" y="288.15" width="3.15" height="2.30" fill="rgb(245,229,194)" stroke="rgb(232,134,14)" stroke-width="0.85"/><line x1="428.58" x2="431.73" y1="289.38" y2="289.38" stroke="rgb(232,134,14)" stroke-width="1.4"/><circle cx="430.16" cy="285.14" r="1.72" fill="rgba(232,134,14,0.80)" stroke="rgba(232,134,14,0.80)" stroke-width="0.6"/><circle cx="430.16" cy="293.45" r="1.72" fill="rgba(232,134,14,0.80)" stroke="rgba(232,134,14,0.80)" stroke-width="0.6"/>
<line x1="435.99" x2="435.99" y1="285.14" y2="301.57" stroke="rgb(232,134,14)" stroke-width="0.85"/><line x1="435.99" x2="435.99" y1="318.18" y2="342.04" stroke="rgb(232,134,14)" stroke-width="0.85"/><rect x="434.41" y="301.57" width="3.15" height="16.61" fill="rgb(245,229,194)" stroke="rgb(232,134,14)" stroke-width="0.85"/><line x1="434.41" x2="437.56" y1="307.94" y2="307.94" stroke="rgb(232,134,14)" stroke-width="1.4"/><circle cx="435.99" cy="355.29" r="1.72" fill="rgba(232,134,14,0.80)" stroke="rgba(232,134,14,0.80)" stroke-width="0.6"/><circle cx="435.99" cy="353.20" r="1.72" fill="rgba(232,134,14,0.80)" stroke="rgba(232,134,14,0.80)" stroke-width="0.6"/><circle cx="435.99" cy="351.11" r="1.72" fill="rgba(232,134,14,0.80)" stroke="rgba(232,134,14,0.80)" stroke-width="0.6"/><circle cx="435.99" cy="349.02" r="1.72" fill="rgba(232,134,14,0.80)" stroke="rgba(232,134,14,0.80)" stroke-width="0.6"/><circle cx="435.99" cy="346.93" r="1.72" fill="rgba(232,134,14,0.80)" stroke="rgba(232,134,14,0.80)" stroke-width="0.6"/><circle cx="435.99" cy="344.84" r="1.72" fill="rgba(232,134,14,0.80)" stroke="rgba(232,134,14,0.80)" stroke-width="0.6"/><circle cx="435.99" cy="342.75" r="1.72" fill="rgba(232,134,14,0.80)" stroke="rgba(232,134,14,0.80)" stroke-width="0.6"/><circle cx="435.99" cy="362.54" r="1.72" fill="rgba(232,134,14,0.80)" stroke="rgba(232,134,14,0.80)" stroke-width="0.6"/><circle cx="435.99" cy="370.84" r="1.72" fill="rgba(232,134,14,0.80)" stroke="rgba(232,134,14,0.80)" stroke-width="0.6"/><circle cx="435.99" cy="368.54" r="1.72" fill="rgba(232,134,14,0.80)" stroke="rgba(232,134,14,0.80)" stroke-width="0.6"/><circle cx="435.99" cy="385.15" r="1.72" fill="rgba(232,134,14,0.30)" stroke="rgba(232,134,14,0.30)" stroke-width="0.6"/><circle cx="435.99" cy="406.00" r="1.72" fill="rgba(232,134,14,0.30)" stroke="rgba(232,134,14,0.30)" stroke-width="0.6"/><circle cx="435.99" cy="403.77" r="1.72" fill="rgba(232,134,14,0.30)" stroke="rgba(232,134,14,0.30)" stroke-width="0.6"/><circle cx="435.99" cy="401.53" r="1.72" fill="rgba(232,134,14,0.30)" stroke="rgba(232,134,14,0.30)" stroke-width="0.6"/><circle cx="435.99" cy="399.29" r="1.72" fill="rgba(232,134,14,0.30)" stroke="rgba(232,134,14,0.30)" stroke-width="0.6"/>
<line x1="441.82" x2="441.82" y1="297.33" y2="322.25" stroke="rgb(232,134,14)" stroke-width="0.85"/><line x1="441.82" x2="441.82" y1="354.23" y2="404.77" stroke="rgb(232,134,14)" stroke-width="0.85"/><rect x="440.25" y="322.25" width="3.15" height="31.98" fill="rgb(245,229,194)" stroke="rgb(232,134,14)" stroke-width="0.85"/><line x1="440.25" x2="443.40" y1="335.50" y2="335.50" stroke="rgb(232,134,14)" stroke-width="1.4"/><circle cx="441.82" cy="416.96" r="1.72" fill="rgba(232,134,14,0.80)" stroke="rgba(232,134,14,0.80)" stroke-width="0.6"/><circle cx="441.82" cy="414.93" r="1.72" fill="rgba(232,134,14,0.80)" stroke="rgba(232,134,14,0.80)" stroke-width="0.6"/><circle cx="441.82" cy="412.90" r="1.72" fill="rgba(232,134,14,0.80)" stroke="rgba(232,134,14,0.80)" stroke-width="0.6"/><circle cx="441.82" cy="410.86" r="1.72" fill="rgba(232,134,14,0.80)" stroke="rgba(232,134,14,0.80)" stroke-width="0.6"/><circle cx="441.82" cy="408.83" r="1.72" fill="rgba(232,134,14,0.80)" stroke="rgba(232,134,14,0.80)" stroke-width="0.6"/><circle cx="441.82" cy="406.80" r="1.72" fill="rgba(232,134,14,0.80)" stroke="rgba(232,134,14,0.80)" stroke-width="0.6"/><circle cx="441.82" cy="404.77" r="1.72" fill="rgba(232,134,14,0.80)" stroke="rgba(232,134,14,0.80)" stroke-width="0.6"/><circle cx="441.82" cy="420.85" r="1.72" fill="rgba(232,134,14,0.80)" stroke="rgba(232,134,14,0.80)" stroke-width="0.6"/><circle cx="441.82" cy="427.56" r="1.72" fill="rgba(232,134,14,0.30)" stroke="rgba(232,134,14,0.30)" stroke-width="0.6"/><circle cx="441.82" cy="435.69" r="1.72" fill="rgba(232,134,14,0.30)" stroke="rgba(232,134,14,0.30)" stroke-width="0.6"/>
<line x1="447.65" x2="447.65" y1="278.07" y2="278.78" stroke="rgb(232,134,14)" stroke-width="0.85"/><line x1="447.65" x2="447.65" y1="280.19" y2="280.90" stroke="rgb(232,134,14)" stroke-width="0.85"/><rect x="446.08" y="278.78" width="3.15" height="1.41" fill="rgb(245,229,194)" stroke="rgb(232,134,14)" stroke-width="0.85"/><line x1="446.08" x2="449.23" y1="279.49" y2="279.49" stroke="rgb(232,134,14)" stroke-width="1.4"/><circle cx="447.65" cy="280.55" r="1.72" fill="rgba(232,134,14,0.80)" stroke="rgba(232,134,14,0.80)" stroke-width="0.6"/><circle cx="447.65" cy="277.54" r="1.72" fill="rgba(232,134,14,0.80)" stroke="rgba(232,134,14,0.80)" stroke-width="0.6"/>
<line x1="453.48" x2="453.48" y1="282.67" y2="283.55" stroke="rgb(232,134,14)" stroke-width="0.85"/><line x1="453.48" x2="453.48" y1="285.32" y2="286.20" stroke="rgb(232,134,14)" stroke-width="0.85"/><rect x="451.91" y="283.55" width="3.15" height="1.77" fill="rgb(245,229,194)" stroke="rgb(232,134,14)" stroke-width="0.85"/><line x1="451.91" x2="455.06" y1="284.44" y2="284.44" stroke="rgb(232,134,14)" stroke-width="1.4"/><circle cx="453.48" cy="286.73" r="1.72" fill="rgba(232,134,14,0.80)" stroke="rgba(232,134,14,0.80)" stroke-width="0.6"/><circle cx="453.48" cy="284.44" r="1.72" fill="rgba(232,134,14,0.80)" stroke="rgba(232,134,14,0.80)" stroke-width="0.6"/><circle cx="453.48" cy="282.14" r="1.72" fill="rgba(232,134,14,0.80)" stroke="rgba(232,134,14,0.80)" stroke-width="0.6"/>
<line x1="459.31" x2="459.31" y1="279.13" y2="282.84" stroke="rgb(232,134,14)" stroke-width="0.85"/><line x1="459.31" x2="459.31" y1="285.14" y2="287.97" stroke="rgb(232,134,14)" stroke-width="0.85"/><rect x="457.74" y="282.84" width="3.15" height="2.30" fill="rgb(245,229,194)" stroke="rgb(232,134,14)" stroke-width="0.85"/><line x1="457.74" x2="460.89" y1="284.44" y2="284.44" stroke="rgb(232,134,14)" stroke-width="1.4"/><circle cx="459.31" cy="294.15" r="1.72" fill="rgba(232,134,14,0.80)" stroke="rgba(232,134,14,0.80)" stroke-width="0.6"/><circle cx="459.31" cy="291.94" r="1.72" fill="rgba(232,134,14,0.80)" stroke="rgba(232,134,14,0.80)" stroke-width="0.6"/><circle cx="459.31" cy="289.74" r="1.72" fill="rgba(232,134,14,0.80)" stroke="rgba(232,134,14,0.80)" stroke-width="0.6"/><circle cx="459.31" cy="303.34" r="1.72" fill="rgba(232,134,14,0.30)" stroke="rgba(232,134,14,0.30)" stroke-width="0.6"/><circle cx="459.31" cy="301.04" r="1.72" fill="rgba(232,134,14,0.30)" stroke="rgba(232,134,14,0.30)" stroke-width="0.6"/><circle cx="459.31" cy="298.75" r="1.72" fill="rgba(232,134,14,0.30)" stroke="rgba(232,134,14,0.30)" stroke-width="0.6"/>
<line x1="369.10" x2="410.42" y1="285.14" y2="285.14" stroke="#000" stroke-width="1.45"/>
<line x1="415.58" x2="462.07" y1="296.45" y2="296.45" stroke="#000" stroke-width="1.45" stroke-dasharray="3.2 2.55"/>
<line x1="476.12" x2="476.12" y1="288.85" y2="289.74" stroke="rgb(66,142,245)" stroke-width="0.85"/><line x1="476.12" x2="476.12" y1="292.74" y2="294.15" stroke="rgb(66,142,245)" stroke-width="0.85"/><rect x="474.02" y="289.74" width="4.20" height="3.00" fill="rgb(121,176,248)" stroke="rgb(66,142,245)" stroke-width="0.85"/><line x1="474.02" x2="478.22" y1="291.15" y2="291.15" stroke="rgb(66,142,245)" stroke-width="1.4"/><circle cx="476.12" cy="288.85" r="1.72" fill="rgba(66,142,245,0.80)" stroke="rgba(66,142,245,0.80)" stroke-width="0.6"/><circle cx="476.12" cy="286.73" r="1.72" fill="rgba(66,142,245,0.80)" stroke="rgba(66,142,245,0.80)" stroke-width="0.6"/><circle cx="476.12" cy="298.04" r="1.72" fill="rgba(66,142,245,0.80)" stroke="rgba(66,142,245,0.80)" stroke-width="0.6"/><circle cx="476.12" cy="296.10" r="1.72" fill="rgba(66,142,245,0.80)" stroke="rgba(66,142,245,0.80)" stroke-width="0.6"/><circle cx="476.12" cy="294.15" r="1.72" fill="rgba(66,142,245,0.80)" stroke="rgba(66,142,245,0.80)" stroke-width="0.6"/>
<line x1="483.89" x2="483.89" y1="286.56" y2="287.44" stroke="rgb(66,142,245)" stroke-width="0.85"/><line x1="483.89" x2="483.89" y1="288.85" y2="289.74" stroke="rgb(66,142,245)" stroke-width="0.85"/><rect x="481.79" y="287.44" width="4.20" height="1.41" fill="rgb(121,176,248)" stroke="rgb(66,142,245)" stroke-width="0.85"/><line x1="481.79" x2="485.99" y1="288.15" y2="288.15" stroke="rgb(66,142,245)" stroke-width="1.4"/><circle cx="483.89" cy="285.85" r="1.72" fill="rgba(66,142,245,0.80)" stroke="rgba(66,142,245,0.80)" stroke-width="0.6"/>
<line x1="491.67" x2="491.67" y1="288.15" y2="288.85" stroke="rgb(66,142,245)" stroke-width="0.85"/><line x1="491.67" x2="491.67" y1="292.03" y2="292.74" stroke="rgb(66,142,245)" stroke-width="0.85"/><rect x="489.57" y="288.85" width="4.20" height="3.18" fill="rgb(121,176,248)" stroke="rgb(66,142,245)" stroke-width="0.85"/><line x1="489.57" x2="493.77" y1="290.44" y2="290.44" stroke="rgb(66,142,245)" stroke-width="1.4"/><circle cx="491.67" cy="288.15" r="1.72" fill="rgba(66,142,245,0.80)" stroke="rgba(66,142,245,0.80)" stroke-width="0.6"/><circle cx="491.67" cy="286.73" r="1.72" fill="rgba(66,142,245,0.80)" stroke="rgba(66,142,245,0.80)" stroke-width="0.6"/><circle cx="491.67" cy="292.74" r="1.72" fill="rgba(66,142,245,0.80)" stroke="rgba(66,142,245,0.80)" stroke-width="0.6"/>
<line x1="499.44" x2="499.44" y1="279.84" y2="284.44" stroke="rgb(66,142,245)" stroke-width="0.85"/><line x1="499.44" x2="499.44" y1="287.44" y2="291.50" stroke="rgb(66,142,245)" stroke-width="0.85"/><rect x="497.34" y="284.44" width="4.20" height="3.00" fill="rgb(121,176,248)" stroke="rgb(66,142,245)" stroke-width="0.85"/><line x1="497.34" x2="501.54" y1="286.20" y2="286.20" stroke="rgb(66,142,245)" stroke-width="1.4"/><circle cx="499.44" cy="278.25" r="1.72" fill="rgba(66,142,245,0.80)" stroke="rgba(66,142,245,0.80)" stroke-width="0.6"/><circle cx="499.44" cy="297.33" r="1.72" fill="rgba(66,142,245,0.80)" stroke="rgba(66,142,245,0.80)" stroke-width="0.6"/><circle cx="499.44" cy="295.04" r="1.72" fill="rgba(66,142,245,0.80)" stroke="rgba(66,142,245,0.80)" stroke-width="0.6"/><circle cx="499.44" cy="292.74" r="1.72" fill="rgba(66,142,245,0.80)" stroke="rgba(66,142,245,0.80)" stroke-width="0.6"/>
<line x1="507.22" x2="507.22" y1="283.55" y2="293.45" stroke="rgb(66,142,245)" stroke-width="0.85"/><line x1="507.22" x2="507.22" y1="300.34" y2="310.94" stroke="rgb(66,142,245)" stroke-width="0.85"/><rect x="505.12" y="293.45" width="4.20" height="6.89" fill="rgb(121,176,248)" stroke="rgb(66,142,245)" stroke-width="0.85"/><line x1="505.12" x2="509.32" y1="296.10" y2="296.10" stroke="rgb(66,142,245)" stroke-width="1.4"/><circle cx="507.22" cy="330.55" r="1.72" fill="rgba(66,142,245,0.80)" stroke="rgba(66,142,245,0.80)" stroke-width="0.6"/><circle cx="507.22" cy="328.45" r="1.72" fill="rgba(66,142,245,0.80)" stroke="rgba(66,142,245,0.80)" stroke-width="0.6"/><circle cx="507.22" cy="326.35" r="1.72" fill="rgba(66,142,245,0.80)" stroke="rgba(66,142,245,0.80)" stroke-width="0.6"/><circle cx="507.22" cy="324.25" r="1.72" fill="rgba(66,142,245,0.80)" stroke="rgba(66,142,245,0.80)" stroke-width="0.6"/><circle cx="507.22" cy="322.15" r="1.72" fill="rgba(66,142,245,0.80)" stroke="rgba(66,142,245,0.80)" stroke-width="0.6"/><circle cx="507.22" cy="320.05" r="1.72" fill="rgba(66,142,245,0.80)" stroke="rgba(66,142,245,0.80)" stroke-width="0.6"/><circle cx="507.22" cy="317.95" r="1.72" fill="rgba(66,142,245,0.80)" stroke="rgba(66,142,245,0.80)" stroke-width="0.6"/><circle cx="507.22" cy="315.85" r="1.72" fill="rgba(66,142,245,0.80)" stroke="rgba(66,142,245,0.80)" stroke-width="0.6"/><circle cx="507.22" cy="313.75" r="1.72" fill="rgba(66,142,245,0.80)" stroke="rgba(66,142,245,0.80)" stroke-width="0.6"/><circle cx="507.22" cy="311.65" r="1.72" fill="rgba(66,142,245,0.80)" stroke="rgba(66,142,245,0.80)" stroke-width="0.6"/><circle cx="507.22" cy="333.38" r="1.72" fill="rgba(66,142,245,0.80)" stroke="rgba(66,142,245,0.80)" stroke-width="0.6"/>
<line x1="514.99" x2="514.99" y1="287.97" y2="288.85" stroke="rgb(66,142,245)" stroke-width="0.85"/><line x1="514.99" x2="514.99" y1="290.62" y2="291.50" stroke="rgb(66,142,245)" stroke-width="0.85"/><rect x="512.89" y="288.85" width="4.20" height="1.77" fill="rgb(121,176,248)" stroke="rgb(66,142,245)" stroke-width="0.85"/><line x1="512.89" x2="517.09" y1="289.74" y2="289.74" stroke="rgb(66,142,245)" stroke-width="1.4"/><circle cx="514.99" cy="287.09" r="1.72" fill="rgba(66,142,245,0.80)" stroke="rgba(66,142,245,0.80)" stroke-width="0.6"/><circle cx="514.99" cy="285.85" r="1.72" fill="rgba(66,142,245,0.80)" stroke="rgba(66,142,245,0.80)" stroke-width="0.6"/><circle cx="514.99" cy="292.39" r="1.72" fill="rgba(66,142,245,0.80)" stroke="rgba(66,142,245,0.80)" stroke-width="0.6"/>
<line x1="522.77" x2="522.77" y1="289.74" y2="291.15" stroke="rgb(66,142,245)" stroke-width="0.85"/><line x1="522.77" x2="522.77" y1="292.74" y2="294.15" stroke="rgb(66,142,245)" stroke-width="0.85"/><rect x="520.67" y="291.15" width="4.20" height="1.59" fill="rgb(208,228,251)" stroke="rgb(66,142,245)" stroke-width="0.85"/><line x1="520.67" x2="524.87" y1="292.03" y2="292.03" stroke="rgb(66,142,245)" stroke-width="1.4"/><circle cx="522.77" cy="288.15" r="1.72" fill="rgba(66,142,245,0.80)" stroke="rgba(66,142,245,0.80)" stroke-width="0.6"/><circle cx="522.77" cy="296.45" r="1.72" fill="rgba(66,142,245,0.80)" stroke="rgba(66,142,245,0.80)" stroke-width="0.6"/><circle cx="522.77" cy="295.04" r="1.72" fill="rgba(66,142,245,0.80)" stroke="rgba(66,142,245,0.80)" stroke-width="0.6"/>
<line x1="530.54" x2="530.54" y1="290.09" y2="291.50" stroke="rgb(66,142,245)" stroke-width="0.85"/><line x1="530.54" x2="530.54" y1="293.27" y2="294.15" stroke="rgb(66,142,245)" stroke-width="0.85"/><rect x="528.44" y="291.50" width="4.20" height="1.77" fill="rgb(208,228,251)" stroke="rgb(66,142,245)" stroke-width="0.85"/><line x1="528.44" x2="532.64" y1="292.39" y2="292.39" stroke="rgb(66,142,245)" stroke-width="1.4"/><circle cx="530.54" cy="288.85" r="1.72" fill="rgba(66,142,245,0.80)" stroke="rgba(66,142,245,0.80)" stroke-width="0.6"/><circle cx="530.54" cy="294.15" r="1.72" fill="rgba(66,142,245,0.80)" stroke="rgba(66,142,245,0.80)" stroke-width="0.6"/>
<line x1="538.32" x2="538.32" y1="291.50" y2="292.39" stroke="rgb(66,142,245)" stroke-width="0.85"/><line x1="538.32" x2="538.32" y1="294.15" y2="295.04" stroke="rgb(66,142,245)" stroke-width="0.85"/><rect x="536.22" y="292.39" width="4.20" height="1.77" fill="rgb(208,228,251)" stroke="rgb(66,142,245)" stroke-width="0.85"/><line x1="536.22" x2="540.42" y1="293.27" y2="293.27" stroke="rgb(66,142,245)" stroke-width="1.4"/><circle cx="538.32" cy="296.45" r="1.72" fill="rgba(66,142,245,0.80)" stroke="rgba(66,142,245,0.80)" stroke-width="0.6"/><circle cx="538.32" cy="295.04" r="1.72" fill="rgba(66,142,245,0.80)" stroke="rgba(66,142,245,0.80)" stroke-width="0.6"/>
<line x1="546.09" x2="546.09" y1="293.45" y2="306.35" stroke="rgb(66,142,245)" stroke-width="0.85"/><line x1="546.09" x2="546.09" y1="319.95" y2="343.45" stroke="rgb(66,142,245)" stroke-width="0.85"/><rect x="543.99" y="306.35" width="4.20" height="13.61" fill="rgb(208,228,251)" stroke="rgb(66,142,245)" stroke-width="0.85"/><line x1="543.99" x2="548.19" y1="312.18" y2="312.18" stroke="rgb(66,142,245)" stroke-width="1.4"/><circle cx="546.09" cy="354.23" r="1.72" fill="rgba(66,142,245,0.80)" stroke="rgba(66,142,245,0.80)" stroke-width="0.6"/><circle cx="546.09" cy="352.08" r="1.72" fill="rgba(66,142,245,0.80)" stroke="rgba(66,142,245,0.80)" stroke-width="0.6"/><circle cx="546.09" cy="349.92" r="1.72" fill="rgba(66,142,245,0.80)" stroke="rgba(66,142,245,0.80)" stroke-width="0.6"/><circle cx="546.09" cy="347.76" r="1.72" fill="rgba(66,142,245,0.80)" stroke="rgba(66,142,245,0.80)" stroke-width="0.6"/><circle cx="546.09" cy="345.61" r="1.72" fill="rgba(66,142,245,0.80)" stroke="rgba(66,142,245,0.80)" stroke-width="0.6"/><circle cx="546.09" cy="343.45" r="1.72" fill="rgba(66,142,245,0.80)" stroke="rgba(66,142,245,0.80)" stroke-width="0.6"/><circle cx="546.09" cy="359.71" r="1.72" fill="rgba(66,142,245,0.80)" stroke="rgba(66,142,245,0.80)" stroke-width="0.6"/><circle cx="546.09" cy="363.95" r="1.72" fill="rgba(66,142,245,0.30)" stroke="rgba(66,142,245,0.30)" stroke-width="0.6"/><circle cx="546.09" cy="375.08" r="1.72" fill="rgba(66,142,245,0.30)" stroke="rgba(66,142,245,0.30)" stroke-width="0.6"/>
<line x1="553.87" x2="553.87" y1="296.98" y2="322.25" stroke="rgb(66,142,245)" stroke-width="0.85"/><line x1="553.87" x2="553.87" y1="354.23" y2="404.77" stroke="rgb(66,142,245)" stroke-width="0.85"/><rect x="551.77" y="322.25" width="4.20" height="31.98" fill="rgb(208,228,251)" stroke="rgb(66,142,245)" stroke-width="0.85"/><line x1="551.77" x2="555.97" y1="335.50" y2="335.50" stroke="rgb(66,142,245)" stroke-width="1.4"/><circle cx="553.87" cy="415.90" r="1.72" fill="rgba(66,142,245,0.80)" stroke="rgba(66,142,245,0.80)" stroke-width="0.6"/><circle cx="553.87" cy="413.67" r="1.72" fill="rgba(66,142,245,0.80)" stroke="rgba(66,142,245,0.80)" stroke-width="0.6"/><circle cx="553.87" cy="411.45" r="1.72" fill="rgba(66,142,245,0.80)" stroke="rgba(66,142,245,0.80)" stroke-width="0.6"/><circle cx="553.87" cy="409.22" r="1.72" fill="rgba(66,142,245,0.80)" stroke="rgba(66,142,245,0.80)" stroke-width="0.6"/><circle cx="553.87" cy="406.99" r="1.72" fill="rgba(66,142,245,0.80)" stroke="rgba(66,142,245,0.80)" stroke-width="0.6"/><circle cx="553.87" cy="404.77" r="1.72" fill="rgba(66,142,245,0.80)" stroke="rgba(66,142,245,0.80)" stroke-width="0.6"/><circle cx="553.87" cy="420.85" r="1.72" fill="rgba(66,142,245,0.80)" stroke="rgba(66,142,245,0.80)" stroke-width="0.6"/><circle cx="553.87" cy="427.56" r="1.72" fill="rgba(66,142,245,0.30)" stroke="rgba(66,142,245,0.30)" stroke-width="0.6"/><circle cx="553.87" cy="435.69" r="1.72" fill="rgba(66,142,245,0.30)" stroke="rgba(66,142,245,0.30)" stroke-width="0.6"/>
<line x1="561.64" x2="561.64" y1="295.39" y2="298.04" stroke="rgb(66,142,245)" stroke-width="0.85"/><line x1="561.64" x2="561.64" y1="301.75" y2="303.87" stroke="rgb(66,142,245)" stroke-width="0.85"/><rect x="559.54" y="298.04" width="4.20" height="3.71" fill="rgb(208,228,251)" stroke="rgb(66,142,245)" stroke-width="0.85"/><line x1="559.54" x2="563.74" y1="299.45" y2="299.45" stroke="rgb(66,142,245)" stroke-width="1.4"/><circle cx="561.64" cy="312.71" r="1.72" fill="rgba(66,142,245,0.30)" stroke="rgba(66,142,245,0.30)" stroke-width="0.6"/><circle cx="561.64" cy="310.35" r="1.72" fill="rgba(66,142,245,0.30)" stroke="rgba(66,142,245,0.30)" stroke-width="0.6"/><circle cx="561.64" cy="308.00" r="1.72" fill="rgba(66,142,245,0.30)" stroke="rgba(66,142,245,0.30)" stroke-width="0.6"/><circle cx="561.64" cy="305.64" r="1.72" fill="rgba(66,142,245,0.30)" stroke="rgba(66,142,245,0.30)" stroke-width="0.6"/>
<line x1="472.39" x2="513.72" y1="290.09" y2="290.09" stroke="#000" stroke-width="1.45"/>
<line x1="518.88" x2="565.37" y1="305.11" y2="305.11" stroke="#000" stroke-width="1.45" stroke-dasharray="3.2 2.55"/>
<line x1="577.86" x2="577.86" y1="290.62" y2="291.50" stroke="rgb(160,160,160)" stroke-width="0.85"/><line x1="577.86" x2="577.86" y1="293.27" y2="293.27" stroke="rgb(160,160,160)" stroke-width="0.85"/><rect x="576.60" y="291.50" width="2.52" height="1.77" fill="rgb(200,200,200)" stroke="rgb(160,160,160)" stroke-width="0.85"/><line x1="576.60" x2="579.12" y1="292.39" y2="292.39" stroke="rgb(160,160,160)" stroke-width="1.4"/><circle cx="577.86" cy="295.74" r="1.72" fill="rgba(140,140,140,0.80)" stroke="rgba(140,140,140,0.80)" stroke-width="0.6"/><circle cx="577.86" cy="293.45" r="1.72" fill="rgba(140,140,140,0.80)" stroke="rgba(140,140,140,0.80)" stroke-width="0.6"/><circle cx="577.86" cy="291.15" r="1.72" fill="rgba(140,140,140,0.80)" stroke="rgba(140,140,140,0.80)" stroke-width="0.6"/><circle cx="577.86" cy="288.85" r="1.72" fill="rgba(140,140,140,0.80)" stroke="rgba(140,140,140,0.80)" stroke-width="0.6"/>
<line x1="582.53" x2="582.53" y1="287.97" y2="292.74" stroke="rgb(160,160,160)" stroke-width="0.85"/><line x1="582.53" x2="582.53" y1="295.04" y2="298.57" stroke="rgb(160,160,160)" stroke-width="0.85"/><rect x="581.27" y="292.74" width="2.52" height="2.30" fill="rgb(200,200,200)" stroke="rgb(160,160,160)" stroke-width="0.85"/><line x1="581.27" x2="583.79" y1="294.15" y2="294.15" stroke="rgb(160,160,160)" stroke-width="1.4"/><circle cx="582.53" cy="286.38" r="1.72" fill="rgba(140,140,140,0.80)" stroke="rgba(140,140,140,0.80)" stroke-width="0.6"/><circle cx="582.53" cy="304.93" r="1.72" fill="rgba(140,140,140,0.80)" stroke="rgba(140,140,140,0.80)" stroke-width="0.6"/><circle cx="582.53" cy="303.17" r="1.72" fill="rgba(140,140,140,0.80)" stroke="rgba(140,140,140,0.80)" stroke-width="0.6"/><circle cx="582.53" cy="301.40" r="1.72" fill="rgba(140,140,140,0.80)" stroke="rgba(140,140,140,0.80)" stroke-width="0.6"/><circle cx="582.53" cy="299.63" r="1.72" fill="rgba(140,140,140,0.80)" stroke="rgba(140,140,140,0.80)" stroke-width="0.6"/>
<line x1="587.19" x2="587.19" y1="296.80" y2="298.75" stroke="rgb(160,160,160)" stroke-width="0.85"/><line x1="587.19" x2="587.19" y1="301.04" y2="302.99" stroke="rgb(160,160,160)" stroke-width="0.85"/><rect x="585.93" y="298.75" width="2.52" height="2.30" fill="rgb(200,200,200)" stroke="rgb(160,160,160)" stroke-width="0.85"/><line x1="585.93" x2="588.45" y1="300.34" y2="300.34" stroke="rgb(160,160,160)" stroke-width="1.4"/><circle cx="587.19" cy="295.04" r="1.72" fill="rgba(140,140,140,0.80)" stroke="rgba(140,140,140,0.80)" stroke-width="0.6"/><circle cx="587.19" cy="306.35" r="1.72" fill="rgba(140,140,140,0.80)" stroke="rgba(140,140,140,0.80)" stroke-width="0.6"/><circle cx="587.19" cy="304.05" r="1.72" fill="rgba(140,140,140,0.80)" stroke="rgba(140,140,140,0.80)" stroke-width="0.6"/>
<line x1="591.86" x2="591.86" y1="290.62" y2="291.50" stroke="rgb(160,160,160)" stroke-width="0.85"/><line x1="591.86" x2="591.86" y1="293.27" y2="293.27" stroke="rgb(160,160,160)" stroke-width="0.85"/><rect x="590.60" y="291.50" width="2.52" height="1.77" fill="rgb(200,200,200)" stroke="rgb(160,160,160)" stroke-width="0.85"/><line x1="590.60" x2="593.12" y1="292.39" y2="292.39" stroke="rgb(160,160,160)" stroke-width="1.4"/><circle cx="591.86" cy="295.74" r="1.72" fill="rgba(140,140,140,0.80)" stroke="rgba(140,140,140,0.80)" stroke-width="0.6"/><circle cx="591.86" cy="293.84" r="1.72" fill="rgba(140,140,140,0.80)" stroke="rgba(140,140,140,0.80)" stroke-width="0.6"/><circle cx="591.86" cy="291.94" r="1.72" fill="rgba(140,140,140,0.80)" stroke="rgba(140,140,140,0.80)" stroke-width="0.6"/><circle cx="591.86" cy="290.05" r="1.72" fill="rgba(140,140,140,0.80)" stroke="rgba(140,140,140,0.80)" stroke-width="0.6"/><circle cx="591.86" cy="288.15" r="1.72" fill="rgba(140,140,140,0.80)" stroke="rgba(140,140,140,0.80)" stroke-width="0.6"/>
<line x1="596.52" x2="596.52" y1="302.11" y2="308.64" stroke="rgb(160,160,160)" stroke-width="0.85"/><line x1="596.52" x2="596.52" y1="311.65" y2="316.24" stroke="rgb(160,160,160)" stroke-width="0.85"/><rect x="595.26" y="308.64" width="2.52" height="3.00" fill="rgb(200,200,200)" stroke="rgb(160,160,160)" stroke-width="0.85"/><line x1="595.26" x2="597.78" y1="310.23" y2="310.23" stroke="rgb(160,160,160)" stroke-width="1.4"/><circle cx="596.52" cy="299.98" r="1.72" fill="rgba(140,140,140,0.80)" stroke="rgba(140,140,140,0.80)" stroke-width="0.6"/><circle cx="596.52" cy="322.96" r="1.72" fill="rgba(140,140,140,0.80)" stroke="rgba(140,140,140,0.80)" stroke-width="0.6"/><circle cx="596.52" cy="320.75" r="1.72" fill="rgba(140,140,140,0.80)" stroke="rgba(140,140,140,0.80)" stroke-width="0.6"/><circle cx="596.52" cy="318.54" r="1.72" fill="rgba(140,140,140,0.80)" stroke="rgba(140,140,140,0.80)" stroke-width="0.6"/>
<line x1="601.19" x2="601.19" y1="301.04" y2="324.19" stroke="rgb(160,160,160)" stroke-width="0.85"/><line x1="601.19" x2="601.19" y1="353.17" y2="396.11" stroke="rgb(160,160,160)" stroke-width="0.85"/><rect x="599.93" y="324.19" width="2.52" height="28.98" fill="rgb(200,200,200)" stroke="rgb(160,160,160)" stroke-width="0.85"/><line x1="599.93" x2="602.45" y1="335.85" y2="335.85" stroke="rgb(160,160,160)" stroke-width="1.4"/><circle cx="601.19" cy="406.00" r="1.72" fill="rgba(140,140,140,0.80)" stroke="rgba(140,140,140,0.80)" stroke-width="0.6"/><circle cx="601.19" cy="403.80" r="1.72" fill="rgba(140,140,140,0.80)" stroke="rgba(140,140,140,0.80)" stroke-width="0.6"/><circle cx="601.19" cy="401.59" r="1.72" fill="rgba(140,140,140,0.80)" stroke="rgba(140,140,140,0.80)" stroke-width="0.6"/><circle cx="601.19" cy="399.38" r="1.72" fill="rgba(140,140,140,0.80)" stroke="rgba(140,140,140,0.80)" stroke-width="0.6"/><circle cx="601.19" cy="397.17" r="1.72" fill="rgba(140,140,140,0.80)" stroke="rgba(140,140,140,0.80)" stroke-width="0.6"/><circle cx="601.19" cy="412.01" r="1.72" fill="rgba(140,140,140,0.80)" stroke="rgba(140,140,140,0.80)" stroke-width="0.6"/><circle cx="601.19" cy="422.44" r="1.72" fill="rgba(140,140,140,0.80)" stroke="rgba(140,140,140,0.80)" stroke-width="0.6"/><circle cx="601.19" cy="420.23" r="1.72" fill="rgba(140,140,140,0.80)" stroke="rgba(140,140,140,0.80)" stroke-width="0.6"/><circle cx="601.19" cy="418.02" r="1.72" fill="rgba(140,140,140,0.80)" stroke="rgba(140,140,140,0.80)" stroke-width="0.6"/><circle cx="601.19" cy="428.98" r="1.72" fill="rgba(140,140,140,0.80)" stroke="rgba(140,140,140,0.80)" stroke-width="0.6"/><circle cx="601.19" cy="426.86" r="1.72" fill="rgba(140,140,140,0.80)" stroke="rgba(140,140,140,0.80)" stroke-width="0.6"/>
<line x1="605.85" x2="605.85" y1="288.85" y2="310.23" stroke="rgb(160,160,160)" stroke-width="0.85"/><line x1="605.85" x2="605.85" y1="337.45" y2="379.50" stroke="rgb(160,160,160)" stroke-width="0.85"/><rect x="604.59" y="310.23" width="2.52" height="27.21" fill="rgb(200,200,200)" stroke="rgb(160,160,160)" stroke-width="0.85"/><line x1="604.59" x2="607.11" y1="321.19" y2="321.19" stroke="rgb(160,160,160)" stroke-width="1.4"/><circle cx="605.85" cy="410.25" r="1.72" fill="rgba(140,140,140,0.80)" stroke="rgba(140,140,140,0.80)" stroke-width="0.6"/><circle cx="605.85" cy="408.05" r="1.72" fill="rgba(140,140,140,0.80)" stroke="rgba(140,140,140,0.80)" stroke-width="0.6"/><circle cx="605.85" cy="405.85" r="1.72" fill="rgba(140,140,140,0.80)" stroke="rgba(140,140,140,0.80)" stroke-width="0.6"/><circle cx="605.85" cy="403.66" r="1.72" fill="rgba(140,140,140,0.80)" stroke="rgba(140,140,140,0.80)" stroke-width="0.6"/><circle cx="605.85" cy="401.46" r="1.72" fill="rgba(140,140,140,0.80)" stroke="rgba(140,140,140,0.80)" stroke-width="0.6"/><circle cx="605.85" cy="399.26" r="1.72" fill="rgba(140,140,140,0.80)" stroke="rgba(140,140,140,0.80)" stroke-width="0.6"/><circle cx="605.85" cy="397.07" r="1.72" fill="rgba(140,140,140,0.80)" stroke="rgba(140,140,140,0.80)" stroke-width="0.6"/><circle cx="605.85" cy="394.87" r="1.72" fill="rgba(140,140,140,0.80)" stroke="rgba(140,140,140,0.80)" stroke-width="0.6"/><circle cx="605.85" cy="392.68" r="1.72" fill="rgba(140,140,140,0.80)" stroke="rgba(140,140,140,0.80)" stroke-width="0.6"/><circle cx="605.85" cy="390.48" r="1.72" fill="rgba(140,140,140,0.80)" stroke="rgba(140,140,140,0.80)" stroke-width="0.6"/><circle cx="605.85" cy="388.28" r="1.72" fill="rgba(140,140,140,0.80)" stroke="rgba(140,140,140,0.80)" stroke-width="0.6"/><circle cx="605.85" cy="386.09" r="1.72" fill="rgba(140,140,140,0.80)" stroke="rgba(140,140,140,0.80)" stroke-width="0.6"/><circle cx="605.85" cy="383.89" r="1.72" fill="rgba(140,140,140,0.80)" stroke="rgba(140,140,140,0.80)" stroke-width="0.6"/><circle cx="605.85" cy="381.70" r="1.72" fill="rgba(140,140,140,0.80)" stroke="rgba(140,140,140,0.80)" stroke-width="0.6"/><circle cx="605.85" cy="379.50" r="1.72" fill="rgba(140,140,140,0.80)" stroke="rgba(140,140,140,0.80)" stroke-width="0.6"/><circle cx="605.85" cy="421.38" r="1.72" fill="rgba(140,140,140,0.80)" stroke="rgba(140,140,140,0.80)" stroke-width="0.6"/><circle cx="605.85" cy="419.17" r="1.72" fill="rgba(140,140,140,0.80)" stroke="rgba(140,140,140,0.80)" stroke-width="0.6"/><circle cx="605.85" cy="416.96" r="1.72" fill="rgba(140,140,140,0.80)" stroke="rgba(140,140,140,0.80)" stroke-width="0.6"/>
<line x1="610.52" x2="610.52" y1="292.03" y2="296.45" stroke="rgb(160,160,160)" stroke-width="0.85"/><line x1="610.52" x2="610.52" y1="298.75" y2="303.87" stroke="rgb(160,160,160)" stroke-width="0.85"/><rect x="609.26" y="296.45" width="2.52" height="2.30" fill="rgb(200,200,200)" stroke="rgb(160,160,160)" stroke-width="0.85"/><line x1="609.26" x2="611.78" y1="297.16" y2="297.16" stroke="rgb(160,160,160)" stroke-width="1.4"/><circle cx="610.52" cy="306.35" r="1.72" fill="rgba(140,140,140,0.80)" stroke="rgba(140,140,140,0.80)" stroke-width="0.6"/><circle cx="610.52" cy="304.58" r="1.72" fill="rgba(140,140,140,0.80)" stroke="rgba(140,140,140,0.80)" stroke-width="0.6"/>
<line x1="615.18" x2="615.18" y1="302.11" y2="305.64" stroke="rgb(160,160,160)" stroke-width="0.85"/><line x1="615.18" x2="615.18" y1="307.94" y2="310.94" stroke="rgb(160,160,160)" stroke-width="0.85"/><rect x="613.92" y="305.64" width="2.52" height="2.30" fill="rgb(200,200,200)" stroke="rgb(160,160,160)" stroke-width="0.85"/><line x1="613.92" x2="616.44" y1="307.05" y2="307.05" stroke="rgb(160,160,160)" stroke-width="1.4"/><circle cx="615.18" cy="299.98" r="1.72" fill="rgba(140,140,140,0.80)" stroke="rgba(140,140,140,0.80)" stroke-width="0.6"/><circle cx="615.18" cy="316.95" r="1.72" fill="rgba(140,140,140,0.80)" stroke="rgba(140,140,140,0.80)" stroke-width="0.6"/><circle cx="615.18" cy="314.65" r="1.72" fill="rgba(140,140,140,0.80)" stroke="rgba(140,140,140,0.80)" stroke-width="0.6"/><circle cx="615.18" cy="312.35" r="1.72" fill="rgba(140,140,140,0.80)" stroke="rgba(140,140,140,0.80)" stroke-width="0.6"/>
<line x1="619.85" x2="619.85" y1="292.39" y2="309.35" stroke="rgb(160,160,160)" stroke-width="0.85"/><line x1="619.85" x2="619.85" y1="331.44" y2="365.36" stroke="rgb(160,160,160)" stroke-width="0.85"/><rect x="618.59" y="309.35" width="2.52" height="22.09" fill="rgb(200,200,200)" stroke="rgb(160,160,160)" stroke-width="0.85"/><line x1="618.59" x2="621.11" y1="318.71" y2="318.71" stroke="rgb(160,160,160)" stroke-width="1.4"/><circle cx="619.85" cy="400.35" r="1.72" fill="rgba(140,140,140,0.80)" stroke="rgba(140,140,140,0.80)" stroke-width="0.6"/><circle cx="619.85" cy="398.16" r="1.72" fill="rgba(140,140,140,0.80)" stroke="rgba(140,140,140,0.80)" stroke-width="0.6"/><circle cx="619.85" cy="395.98" r="1.72" fill="rgba(140,140,140,0.80)" stroke="rgba(140,140,140,0.80)" stroke-width="0.6"/><circle cx="619.85" cy="393.79" r="1.72" fill="rgba(140,140,140,0.80)" stroke="rgba(140,140,140,0.80)" stroke-width="0.6"/><circle cx="619.85" cy="391.60" r="1.72" fill="rgba(140,140,140,0.80)" stroke="rgba(140,140,140,0.80)" stroke-width="0.6"/><circle cx="619.85" cy="389.42" r="1.72" fill="rgba(140,140,140,0.80)" stroke="rgba(140,140,140,0.80)" stroke-width="0.6"/><circle cx="619.85" cy="387.23" r="1.72" fill="rgba(140,140,140,0.80)" stroke="rgba(140,140,140,0.80)" stroke-width="0.6"/><circle cx="619.85" cy="385.04" r="1.72" fill="rgba(140,140,140,0.80)" stroke="rgba(140,140,140,0.80)" stroke-width="0.6"/><circle cx="619.85" cy="382.86" r="1.72" fill="rgba(140,140,140,0.80)" stroke="rgba(140,140,140,0.80)" stroke-width="0.6"/><circle cx="619.85" cy="380.67" r="1.72" fill="rgba(140,140,140,0.80)" stroke="rgba(140,140,140,0.80)" stroke-width="0.6"/><circle cx="619.85" cy="378.48" r="1.72" fill="rgba(140,140,140,0.80)" stroke="rgba(140,140,140,0.80)" stroke-width="0.6"/><circle cx="619.85" cy="376.30" r="1.72" fill="rgba(140,140,140,0.80)" stroke="rgba(140,140,140,0.80)" stroke-width="0.6"/><circle cx="619.85" cy="374.11" r="1.72" fill="rgba(140,140,140,0.80)" stroke="rgba(140,140,140,0.80)" stroke-width="0.6"/><circle cx="619.85" cy="371.92" r="1.72" fill="rgba(140,140,140,0.80)" stroke="rgba(140,140,140,0.80)" stroke-width="0.6"/><circle cx="619.85" cy="369.74" r="1.72" fill="rgba(140,140,140,0.80)" stroke="rgba(140,140,140,0.80)" stroke-width="0.6"/><circle cx="619.85" cy="367.55" r="1.72" fill="rgba(140,140,140,0.80)" stroke="rgba(140,140,140,0.80)" stroke-width="0.6"/><circle cx="619.85" cy="365.36" r="1.72" fill="rgba(140,140,140,0.80)" stroke="rgba(140,140,140,0.80)" stroke-width="0.6"/><circle cx="619.85" cy="408.12" r="1.72" fill="rgba(140,140,140,0.80)" stroke="rgba(140,140,140,0.80)" stroke-width="0.6"/><circle cx="619.85" cy="416.96" r="1.72" fill="rgba(140,140,140,0.80)" stroke="rgba(140,140,140,0.80)" stroke-width="0.6"/><circle cx="619.85" cy="415.28" r="1.72" fill="rgba(140,140,140,0.80)" stroke="rgba(140,140,140,0.80)" stroke-width="0.6"/><circle cx="619.85" cy="413.60" r="1.72" fill="rgba(140,140,140,0.80)" stroke="rgba(140,140,140,0.80)" stroke-width="0.6"/><circle cx="619.85" cy="425.80" r="1.72" fill="rgba(140,140,140,0.80)" stroke="rgba(140,140,140,0.80)" stroke-width="0.6"/>
<line x1="624.51" x2="624.51" y1="294.68" y2="296.10" stroke="rgb(160,160,160)" stroke-width="0.85"/><line x1="624.51" x2="624.51" y1="298.04" y2="300.34" stroke="rgb(160,160,160)" stroke-width="0.85"/><rect x="623.25" y="296.10" width="2.52" height="1.94" fill="rgb(233,233,233)" stroke="rgb(160,160,160)" stroke-width="0.85"/><line x1="623.25" x2="625.77" y1="297.16" y2="297.16" stroke="rgb(160,160,160)" stroke-width="1.4"/><circle cx="624.51" cy="293.45" r="1.72" fill="rgba(140,140,140,0.30)" stroke="rgba(140,140,140,0.30)" stroke-width="0.6"/><circle cx="624.51" cy="302.64" r="1.72" fill="rgba(140,140,140,0.80)" stroke="rgba(140,140,140,0.80)" stroke-width="0.6"/><circle cx="624.51" cy="301.04" r="1.72" fill="rgba(140,140,140,0.80)" stroke="rgba(140,140,140,0.80)" stroke-width="0.6"/>
<line x1="629.18" x2="629.18" y1="293.80" y2="295.04" stroke="rgb(160,160,160)" stroke-width="0.85"/><line x1="629.18" x2="629.18" y1="297.33" y2="300.34" stroke="rgb(160,160,160)" stroke-width="0.85"/><rect x="627.92" y="295.04" width="2.52" height="2.30" fill="rgb(233,233,233)" stroke="rgb(160,160,160)" stroke-width="0.85"/><line x1="627.92" x2="630.44" y1="296.45" y2="296.45" stroke="rgb(160,160,160)" stroke-width="1.4"/><circle cx="629.18" cy="292.74" r="1.72" fill="rgba(140,140,140,0.80)" stroke="rgba(140,140,140,0.80)" stroke-width="0.6"/><circle cx="629.18" cy="303.34" r="1.72" fill="rgba(140,140,140,0.80)" stroke="rgba(140,140,140,0.80)" stroke-width="0.6"/><circle cx="629.18" cy="300.34" r="1.72" fill="rgba(140,140,140,0.80)" stroke="rgba(140,140,140,0.80)" stroke-width="0.6"/>
<line x1="633.84" x2="633.84" y1="289.74" y2="292.74" stroke="rgb(160,160,160)" stroke-width="0.85"/><line x1="633.84" x2="633.84" y1="295.04" y2="296.80" stroke="rgb(160,160,160)" stroke-width="0.85"/><rect x="632.58" y="292.74" width="2.52" height="2.30" fill="rgb(233,233,233)" stroke="rgb(160,160,160)" stroke-width="0.85"/><line x1="632.58" x2="635.10" y1="294.15" y2="294.15" stroke="rgb(160,160,160)" stroke-width="1.4"/><circle cx="633.84" cy="299.63" r="1.72" fill="rgba(140,140,140,0.80)" stroke="rgba(140,140,140,0.80)" stroke-width="0.6"/><circle cx="633.84" cy="298.04" r="1.72" fill="rgba(140,140,140,0.80)" stroke="rgba(140,140,140,0.80)" stroke-width="0.6"/>
<line x1="638.51" x2="638.51" y1="293.27" y2="295.04" stroke="rgb(160,160,160)" stroke-width="0.85"/><line x1="638.51" x2="638.51" y1="297.33" y2="299.45" stroke="rgb(160,160,160)" stroke-width="0.85"/><rect x="637.25" y="295.04" width="2.52" height="2.30" fill="rgb(233,233,233)" stroke="rgb(160,160,160)" stroke-width="0.85"/><line x1="637.25" x2="639.77" y1="296.45" y2="296.45" stroke="rgb(160,160,160)" stroke-width="1.4"/><circle cx="638.51" cy="292.03" r="1.72" fill="rgba(140,140,140,0.30)" stroke="rgba(140,140,140,0.30)" stroke-width="0.6"/><circle cx="638.51" cy="301.75" r="1.72" fill="rgba(140,140,140,0.80)" stroke="rgba(140,140,140,0.80)" stroke-width="0.6"/><circle cx="638.51" cy="298.75" r="1.72" fill="rgba(140,140,140,0.80)" stroke="rgba(140,140,140,0.80)" stroke-width="0.6"/>
<line x1="643.17" x2="643.17" y1="297.51" y2="298.75" stroke="rgb(160,160,160)" stroke-width="0.85"/><line x1="643.17" x2="643.17" y1="301.04" y2="303.87" stroke="rgb(160,160,160)" stroke-width="0.85"/><rect x="641.91" y="298.75" width="2.52" height="2.30" fill="rgb(233,233,233)" stroke="rgb(160,160,160)" stroke-width="0.85"/><line x1="641.91" x2="644.43" y1="300.34" y2="300.34" stroke="rgb(160,160,160)" stroke-width="1.4"/><circle cx="643.17" cy="296.45" r="1.72" fill="rgba(140,140,140,0.80)" stroke="rgba(140,140,140,0.80)" stroke-width="0.6"/><circle cx="643.17" cy="310.23" r="1.72" fill="rgba(140,140,140,0.30)" stroke="rgba(140,140,140,0.30)" stroke-width="0.6"/><circle cx="643.17" cy="307.58" r="1.72" fill="rgba(140,140,140,0.30)" stroke="rgba(140,140,140,0.30)" stroke-width="0.6"/><circle cx="643.17" cy="304.93" r="1.72" fill="rgba(140,140,140,0.30)" stroke="rgba(140,140,140,0.30)" stroke-width="0.6"/>
<line x1="647.84" x2="647.84" y1="296.45" y2="322.25" stroke="rgb(160,160,160)" stroke-width="0.85"/><line x1="647.84" x2="647.84" y1="353.17" y2="401.59" stroke="rgb(160,160,160)" stroke-width="0.85"/><rect x="646.58" y="322.25" width="2.52" height="30.92" fill="rgb(233,233,233)" stroke="rgb(160,160,160)" stroke-width="0.85"/><line x1="646.58" x2="649.10" y1="335.85" y2="335.85" stroke="rgb(160,160,160)" stroke-width="1.4"/><circle cx="647.84" cy="408.12" r="1.72" fill="rgba(140,140,140,0.30)" stroke="rgba(140,140,140,0.30)" stroke-width="0.6"/><circle cx="647.84" cy="406.30" r="1.72" fill="rgba(140,140,140,0.30)" stroke="rgba(140,140,140,0.30)" stroke-width="0.6"/><circle cx="647.84" cy="404.47" r="1.72" fill="rgba(140,140,140,0.30)" stroke="rgba(140,140,140,0.30)" stroke-width="0.6"/><circle cx="647.84" cy="402.65" r="1.72" fill="rgba(140,140,140,0.30)" stroke="rgba(140,140,140,0.30)" stroke-width="0.6"/><circle cx="647.84" cy="413.60" r="1.72" fill="rgba(140,140,140,0.30)" stroke="rgba(140,140,140,0.30)" stroke-width="0.6"/><circle cx="647.84" cy="422.44" r="1.72" fill="rgba(140,140,140,0.30)" stroke="rgba(140,140,140,0.30)" stroke-width="0.6"/><circle cx="647.84" cy="434.45" r="1.72" fill="rgba(140,140,140,0.30)" stroke="rgba(140,140,140,0.30)" stroke-width="0.6"/>
<line x1="652.50" x2="652.50" y1="289.38" y2="305.11" stroke="rgb(160,160,160)" stroke-width="0.85"/><line x1="652.50" x2="652.50" y1="323.84" y2="353.35" stroke="rgb(160,160,160)" stroke-width="0.85"/><rect x="651.24" y="305.11" width="2.52" height="18.73" fill="rgb(233,233,233)" stroke="rgb(160,160,160)" stroke-width="0.85"/><line x1="651.24" x2="653.76" y1="312.71" y2="312.71" stroke="rgb(160,160,160)" stroke-width="1.4"/><circle cx="652.50" cy="380.74" r="1.72" fill="rgba(140,140,140,0.30)" stroke="rgba(140,140,140,0.30)" stroke-width="0.6"/><circle cx="652.50" cy="378.70" r="1.72" fill="rgba(140,140,140,0.30)" stroke="rgba(140,140,140,0.30)" stroke-width="0.6"/><circle cx="652.50" cy="376.66" r="1.72" fill="rgba(140,140,140,0.30)" stroke="rgba(140,140,140,0.30)" stroke-width="0.6"/><circle cx="652.50" cy="374.62" r="1.72" fill="rgba(140,140,140,0.30)" stroke="rgba(140,140,140,0.30)" stroke-width="0.6"/><circle cx="652.50" cy="372.58" r="1.72" fill="rgba(140,140,140,0.30)" stroke="rgba(140,140,140,0.30)" stroke-width="0.6"/><circle cx="652.50" cy="370.54" r="1.72" fill="rgba(140,140,140,0.30)" stroke="rgba(140,140,140,0.30)" stroke-width="0.6"/><circle cx="652.50" cy="368.50" r="1.72" fill="rgba(140,140,140,0.30)" stroke="rgba(140,140,140,0.30)" stroke-width="0.6"/><circle cx="652.50" cy="366.46" r="1.72" fill="rgba(140,140,140,0.30)" stroke="rgba(140,140,140,0.30)" stroke-width="0.6"/><circle cx="652.50" cy="364.43" r="1.72" fill="rgba(140,140,140,0.30)" stroke="rgba(140,140,140,0.30)" stroke-width="0.6"/><circle cx="652.50" cy="362.39" r="1.72" fill="rgba(140,140,140,0.30)" stroke="rgba(140,140,140,0.30)" stroke-width="0.6"/><circle cx="652.50" cy="360.35" r="1.72" fill="rgba(140,140,140,0.30)" stroke="rgba(140,140,140,0.30)" stroke-width="0.6"/><circle cx="652.50" cy="358.31" r="1.72" fill="rgba(140,140,140,0.30)" stroke="rgba(140,140,140,0.30)" stroke-width="0.6"/><circle cx="652.50" cy="356.27" r="1.72" fill="rgba(140,140,140,0.30)" stroke="rgba(140,140,140,0.30)" stroke-width="0.6"/><circle cx="652.50" cy="354.23" r="1.72" fill="rgba(140,140,140,0.30)" stroke="rgba(140,140,140,0.30)" stroke-width="0.6"/><circle cx="652.50" cy="372.79" r="1.72" fill="rgba(140,140,140,0.80)" stroke="rgba(140,140,140,0.80)" stroke-width="0.6"/><circle cx="652.50" cy="370.58" r="1.72" fill="rgba(140,140,140,0.80)" stroke="rgba(140,140,140,0.80)" stroke-width="0.6"/><circle cx="652.50" cy="368.37" r="1.72" fill="rgba(140,140,140,0.80)" stroke="rgba(140,140,140,0.80)" stroke-width="0.6"/><circle cx="652.50" cy="366.16" r="1.72" fill="rgba(140,140,140,0.80)" stroke="rgba(140,140,140,0.80)" stroke-width="0.6"/><circle cx="652.50" cy="363.95" r="1.72" fill="rgba(140,140,140,0.80)" stroke="rgba(140,140,140,0.80)" stroke-width="0.6"/><circle cx="652.50" cy="401.59" r="1.72" fill="rgba(140,140,140,0.30)" stroke="rgba(140,140,140,0.30)" stroke-width="0.6"/><circle cx="652.50" cy="410.78" r="1.72" fill="rgba(140,140,140,0.30)" stroke="rgba(140,140,140,0.30)" stroke-width="0.6"/><circle cx="652.50" cy="427.92" r="1.72" fill="rgba(140,140,140,0.30)" stroke="rgba(140,140,140,0.30)" stroke-width="0.6"/>
<line x1="657.17" x2="657.17" y1="295.74" y2="299.63" stroke="rgb(160,160,160)" stroke-width="0.85"/><line x1="657.17" x2="657.17" y1="302.64" y2="305.64" stroke="rgb(160,160,160)" stroke-width="0.85"/><rect x="655.91" y="299.63" width="2.52" height="3.00" fill="rgb(233,233,233)" stroke="rgb(160,160,160)" stroke-width="0.85"/><line x1="655.91" x2="658.43" y1="300.87" y2="300.87" stroke="rgb(160,160,160)" stroke-width="1.4"/><circle cx="657.17" cy="307.94" r="1.72" fill="rgba(140,140,140,0.80)" stroke="rgba(140,140,140,0.80)" stroke-width="0.6"/><circle cx="657.17" cy="306.35" r="1.72" fill="rgba(140,140,140,0.80)" stroke="rgba(140,140,140,0.80)" stroke-width="0.6"/>
<line x1="661.83" x2="661.83" y1="314.47" y2="321.54" stroke="rgb(160,160,160)" stroke-width="0.85"/><line x1="661.83" x2="661.83" y1="327.20" y2="334.44" stroke="rgb(160,160,160)" stroke-width="0.85"/><rect x="660.57" y="321.54" width="2.52" height="5.65" fill="rgb(233,233,233)" stroke="rgb(160,160,160)" stroke-width="0.85"/><line x1="660.57" x2="663.09" y1="323.84" y2="323.84" stroke="rgb(160,160,160)" stroke-width="1.4"/><circle cx="661.83" cy="312.35" r="1.72" fill="rgba(140,140,140,0.30)" stroke="rgba(140,140,140,0.30)" stroke-width="0.6"/><circle cx="661.83" cy="338.15" r="1.72" fill="rgba(140,140,140,0.80)" stroke="rgba(140,140,140,0.80)" stroke-width="0.6"/><circle cx="661.83" cy="335.85" r="1.72" fill="rgba(140,140,140,0.80)" stroke="rgba(140,140,140,0.80)" stroke-width="0.6"/><circle cx="661.83" cy="343.45" r="1.72" fill="rgba(140,140,140,0.30)" stroke="rgba(140,140,140,0.30)" stroke-width="0.6"/>
<line x1="666.50" x2="666.50" y1="284.44" y2="293.45" stroke="rgb(160,160,160)" stroke-width="0.85"/><line x1="666.50" x2="666.50" y1="301.75" y2="313.94" stroke="rgb(160,160,160)" stroke-width="0.85"/><rect x="665.24" y="293.45" width="2.52" height="8.30" fill="rgb(233,233,233)" stroke="rgb(160,160,160)" stroke-width="0.85"/><line x1="665.24" x2="667.76" y1="296.45" y2="296.45" stroke="rgb(160,160,160)" stroke-width="1.4"/><circle cx="666.50" cy="322.25" r="1.72" fill="rgba(140,140,140,0.80)" stroke="rgba(140,140,140,0.80)" stroke-width="0.6"/><circle cx="666.50" cy="320.35" r="1.72" fill="rgba(140,140,140,0.80)" stroke="rgba(140,140,140,0.80)" stroke-width="0.6"/><circle cx="666.50" cy="318.45" r="1.72" fill="rgba(140,140,140,0.80)" stroke="rgba(140,140,140,0.80)" stroke-width="0.6"/><circle cx="666.50" cy="316.55" r="1.72" fill="rgba(140,140,140,0.80)" stroke="rgba(140,140,140,0.80)" stroke-width="0.6"/><circle cx="666.50" cy="314.65" r="1.72" fill="rgba(140,140,140,0.80)" stroke="rgba(140,140,140,0.80)" stroke-width="0.6"/><circle cx="666.50" cy="329.85" r="1.72" fill="rgba(140,140,140,0.30)" stroke="rgba(140,140,140,0.30)" stroke-width="0.6"/>
<line x1="575.70" x2="617.02" y1="308.11" y2="308.11" stroke="#000" stroke-width="1.45"/>
<line x1="622.18" x2="668.67" y1="306.35" y2="306.35" stroke="#000" stroke-width="1.45" stroke-dasharray="3.2 2.55"/>
<rect x="353.5" y="267.75" width="330.0" height="211.7" fill="none" stroke="#a0a0a0" stroke-width="1.07"/>
<rect x="353.5" y="249.5" width="330.0" height="17.8" fill="#fff" stroke="#a0a0a0" stroke-width="1.07"/>
<text x="518.50" y="261.0" font-size="10.6" text-anchor="middle" fill="#1a1a1a">Vectorial capacity reduction</text>
<line x1="268" x2="278.7" y1="521.2" y2="521.2" stroke="#000" stroke-width="1.45"/>
<text x="284" y="524.9" font-size="10.5" fill="#1a1a1a">Unwashed</text>
<line x1="339.1" x2="348" y1="521.2" y2="521.2" stroke="#000" stroke-width="1.45" stroke-dasharray="3.5 2.3"/>
<text x="354.5" y="524.9" font-size="10.5" fill="#1a1a1a">Washed 20x/Aged</text>
</svg>
</body></html>
